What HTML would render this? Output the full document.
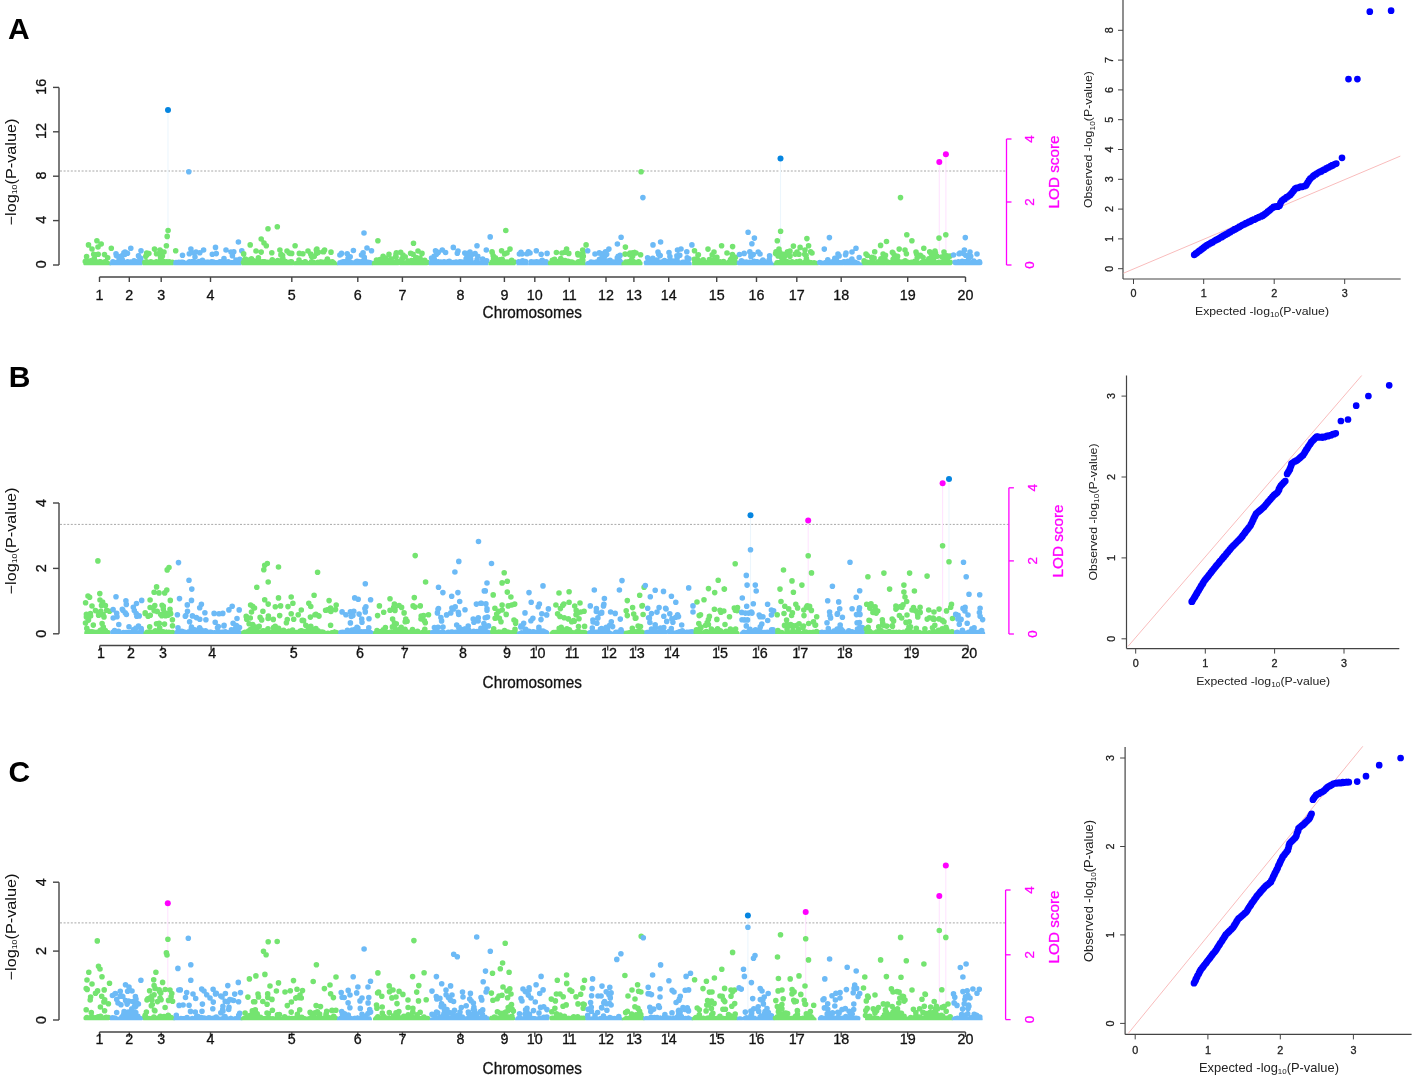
<!DOCTYPE html>
<html><head><meta charset="utf-8"><style>html,body{margin:0;padding:0;background:#fff;}svg{display:block;filter:blur(0.45px);}</style></head>
<body><svg width="1417" height="1080" viewBox="0 0 1417 1080" font-family="'Liberation Sans', sans-serif">
<rect width="1417" height="1080" fill="#fff"/>
<text x="8" y="38.8" font-size="30" text-anchor="start" fill="#000" font-weight="bold">A</text>
<text x="8.8" y="387.2" font-size="30" text-anchor="start" fill="#000" font-weight="bold">B</text>
<text x="8.6" y="781.5" font-size="30" text-anchor="start" fill="#000" font-weight="bold">C</text>
<line x1="60" y1="171" x2="1006.5" y2="171" stroke="#a8a8a8" stroke-width="1" stroke-dasharray="2 1.6"/>
<line x1="59" y1="87.4" x2="59" y2="265" stroke="#444" stroke-width="1.4"/>
<line x1="53" y1="265" x2="59" y2="265" stroke="#444" stroke-width="1.4"/>
<text transform="translate(45.6,264.3) rotate(-90)" x="0" y="0" font-size="14.3" text-anchor="middle" fill="#111" font-weight="normal" stroke="#111" stroke-width="0.3">0</text>
<line x1="53" y1="220.6" x2="59" y2="220.6" stroke="#444" stroke-width="1.4"/>
<text transform="translate(45.6,219.9) rotate(-90)" x="0" y="0" font-size="14.3" text-anchor="middle" fill="#111" font-weight="normal" stroke="#111" stroke-width="0.3">4</text>
<line x1="53" y1="176.2" x2="59" y2="176.2" stroke="#444" stroke-width="1.4"/>
<text transform="translate(45.6,175.5) rotate(-90)" x="0" y="0" font-size="14.3" text-anchor="middle" fill="#111" font-weight="normal" stroke="#111" stroke-width="0.3">8</text>
<line x1="53" y1="131.8" x2="59" y2="131.8" stroke="#444" stroke-width="1.4"/>
<text transform="translate(45.6,131.1) rotate(-90)" x="0" y="0" font-size="14.3" text-anchor="middle" fill="#111" font-weight="normal" stroke="#111" stroke-width="0.3">12</text>
<line x1="53" y1="87.4" x2="59" y2="87.4" stroke="#444" stroke-width="1.4"/>
<text transform="translate(45.6,86.7) rotate(-90)" x="0" y="0" font-size="14.3" text-anchor="middle" fill="#111" font-weight="normal" stroke="#111" stroke-width="0.3">16</text>
<text transform="translate(15.8,172) rotate(-90)" font-size="14.6" text-anchor="middle" fill="#111" textLength="107" lengthAdjust="spacingAndGlyphs">−log<tspan font-size="7.8" dy="1.6">10</tspan><tspan dy="-1.6">(P-value)</tspan></text>
<line x1="99.5" y1="277" x2="965.5" y2="277" stroke="#444" stroke-width="1.4"/>
<line x1="99.5" y1="277" x2="99.5" y2="282" stroke="#444" stroke-width="1.4"/>
<text x="99.5" y="299.5" font-size="14.3" text-anchor="middle" fill="#111" font-weight="normal" stroke="#111" stroke-width="0.3">1</text>
<line x1="129.3" y1="277" x2="129.3" y2="282" stroke="#444" stroke-width="1.4"/>
<text x="129.3" y="299.5" font-size="14.3" text-anchor="middle" fill="#111" font-weight="normal" stroke="#111" stroke-width="0.3">2</text>
<line x1="161.2" y1="277" x2="161.2" y2="282" stroke="#444" stroke-width="1.4"/>
<text x="161.2" y="299.5" font-size="14.3" text-anchor="middle" fill="#111" font-weight="normal" stroke="#111" stroke-width="0.3">3</text>
<line x1="210.5" y1="277" x2="210.5" y2="282" stroke="#444" stroke-width="1.4"/>
<text x="210.5" y="299.5" font-size="14.3" text-anchor="middle" fill="#111" font-weight="normal" stroke="#111" stroke-width="0.3">4</text>
<line x1="291.8" y1="277" x2="291.8" y2="282" stroke="#444" stroke-width="1.4"/>
<text x="291.8" y="299.5" font-size="14.3" text-anchor="middle" fill="#111" font-weight="normal" stroke="#111" stroke-width="0.3">5</text>
<line x1="357.8" y1="277" x2="357.8" y2="282" stroke="#444" stroke-width="1.4"/>
<text x="357.8" y="299.5" font-size="14.3" text-anchor="middle" fill="#111" font-weight="normal" stroke="#111" stroke-width="0.3">6</text>
<line x1="402.4" y1="277" x2="402.4" y2="282" stroke="#444" stroke-width="1.4"/>
<text x="402.4" y="299.5" font-size="14.3" text-anchor="middle" fill="#111" font-weight="normal" stroke="#111" stroke-width="0.3">7</text>
<line x1="460.5" y1="277" x2="460.5" y2="282" stroke="#444" stroke-width="1.4"/>
<text x="460.5" y="299.5" font-size="14.3" text-anchor="middle" fill="#111" font-weight="normal" stroke="#111" stroke-width="0.3">8</text>
<line x1="504.4" y1="277" x2="504.4" y2="282" stroke="#444" stroke-width="1.4"/>
<text x="504.4" y="299.5" font-size="14.3" text-anchor="middle" fill="#111" font-weight="normal" stroke="#111" stroke-width="0.3">9</text>
<line x1="534.8" y1="277" x2="534.8" y2="282" stroke="#444" stroke-width="1.4"/>
<text x="534.8" y="299.5" font-size="14.3" text-anchor="middle" fill="#111" font-weight="normal" stroke="#111" stroke-width="0.3">10</text>
<line x1="569.3" y1="277" x2="569.3" y2="282" stroke="#444" stroke-width="1.4"/>
<text x="569.3" y="299.5" font-size="14.3" text-anchor="middle" fill="#111" font-weight="normal" stroke="#111" stroke-width="0.3">11</text>
<line x1="606" y1="277" x2="606" y2="282" stroke="#444" stroke-width="1.4"/>
<text x="606" y="299.5" font-size="14.3" text-anchor="middle" fill="#111" font-weight="normal" stroke="#111" stroke-width="0.3">12</text>
<line x1="633.9" y1="277" x2="633.9" y2="282" stroke="#444" stroke-width="1.4"/>
<text x="633.9" y="299.5" font-size="14.3" text-anchor="middle" fill="#111" font-weight="normal" stroke="#111" stroke-width="0.3">13</text>
<line x1="668.7" y1="277" x2="668.7" y2="282" stroke="#444" stroke-width="1.4"/>
<text x="668.7" y="299.5" font-size="14.3" text-anchor="middle" fill="#111" font-weight="normal" stroke="#111" stroke-width="0.3">14</text>
<line x1="716.7" y1="277" x2="716.7" y2="282" stroke="#444" stroke-width="1.4"/>
<text x="716.7" y="299.5" font-size="14.3" text-anchor="middle" fill="#111" font-weight="normal" stroke="#111" stroke-width="0.3">15</text>
<line x1="756.5" y1="277" x2="756.5" y2="282" stroke="#444" stroke-width="1.4"/>
<text x="756.5" y="299.5" font-size="14.3" text-anchor="middle" fill="#111" font-weight="normal" stroke="#111" stroke-width="0.3">16</text>
<line x1="796.8" y1="277" x2="796.8" y2="282" stroke="#444" stroke-width="1.4"/>
<text x="796.8" y="299.5" font-size="14.3" text-anchor="middle" fill="#111" font-weight="normal" stroke="#111" stroke-width="0.3">17</text>
<line x1="841.2" y1="277" x2="841.2" y2="282" stroke="#444" stroke-width="1.4"/>
<text x="841.2" y="299.5" font-size="14.3" text-anchor="middle" fill="#111" font-weight="normal" stroke="#111" stroke-width="0.3">18</text>
<line x1="907.7" y1="277" x2="907.7" y2="282" stroke="#444" stroke-width="1.4"/>
<text x="907.7" y="299.5" font-size="14.3" text-anchor="middle" fill="#111" font-weight="normal" stroke="#111" stroke-width="0.3">19</text>
<line x1="965.5" y1="277" x2="965.5" y2="282" stroke="#444" stroke-width="1.4"/>
<text x="965.5" y="299.5" font-size="14.3" text-anchor="middle" fill="#111" font-weight="normal" stroke="#111" stroke-width="0.3">20</text>
<text x="532.3" y="318.4" font-size="16.4" text-anchor="middle" fill="#111" font-weight="normal" textLength="99.4" lengthAdjust="spacingAndGlyphs" stroke="#111" stroke-width="0.3">Chromosomes</text>
<line x1="1006.5" y1="139" x2="1006.5" y2="265" stroke="#ff00ff" stroke-width="1.3"/>
<line x1="1006.5" y1="265" x2="1011.5" y2="265" stroke="#ff00ff" stroke-width="1.3"/>
<text transform="translate(1033.6,265) rotate(-90)" x="0" y="0" font-size="13.4" text-anchor="middle" fill="#ff00ff" font-weight="normal" stroke="#ff00ff" stroke-width="0.3">0</text>
<line x1="1006.5" y1="202" x2="1011.5" y2="202" stroke="#ff00ff" stroke-width="1.3"/>
<text transform="translate(1033.6,202) rotate(-90)" x="0" y="0" font-size="13.4" text-anchor="middle" fill="#ff00ff" font-weight="normal" stroke="#ff00ff" stroke-width="0.3">2</text>
<line x1="1006.5" y1="139" x2="1011.5" y2="139" stroke="#ff00ff" stroke-width="1.3"/>
<text transform="translate(1033.6,139) rotate(-90)" x="0" y="0" font-size="13.4" text-anchor="middle" fill="#ff00ff" font-weight="normal" stroke="#ff00ff" stroke-width="0.3">4</text>
<text transform="translate(1059.3,172) rotate(-90)" x="0" y="0" font-size="14.8" text-anchor="middle" fill="#ff00ff" font-weight="normal" textLength="73" lengthAdjust="spacingAndGlyphs" stroke="#ff00ff" stroke-width="0.3">LOD score</text>
<line x1="168" y1="110.1" x2="168" y2="265" stroke="#ecf6fd" stroke-width="1.1"/>
<line x1="780.5" y1="158.4" x2="780.5" y2="265" stroke="#ecf6fd" stroke-width="1.1"/>
<line x1="939.3" y1="161.9" x2="939.3" y2="265" stroke="#ffe4ff" stroke-width="1.1"/>
<line x1="945.9" y1="154.3" x2="945.9" y2="265" stroke="#ffe4ff" stroke-width="1.1"/>
<clipPath id="cpA"><rect x="0" y="0" width="1000" height="265.2"/></clipPath><g clip-path="url(#cpA)">
<path d="M92.8 264.5h0M100.6 264.8h0M97.8 263.8h0M86.6 263.3h0M86.1 263.6h0M86.8 264.7h0M95.2 262.2h0M88.1 264.3h0M100 261.8h0M98.8 263.7h0M108.3 264.8h0M105.5 264h0M88.6 264.6h0M92.5 262.3h0M89.5 263.1h0M100.3 263.8h0M98.1 264.8h0M86.6 264.3h0M101.3 263.6h0M92.6 263.1h0M95.9 264h0M104 262.7h0M91 263.1h0M97.6 262.1h0M102.4 264h0M108.4 264.6h0M95.1 262.5h0M88.8 263.4h0M86.1 262.8h0M103.3 263.1h0M105.9 264h0M101.6 263h0M98.9 263.5h0M105 261.9h0M96.4 262.8h0M86.6 262.7h0M100.5 261.7h0M104.6 262.8h0M94.3 258.2h0M85.7 261.1h0M89.2 263.7h0M86.6 256.5h0M88.2 263h0M94.4 254.5h0M87.1 261.2h0M98.2 254.2h0M104.5 254.6h0M91.8 261.6h0M93.7 254.2h0M107.8 263.6h0M89.3 263.1h0M90.7 260.8h0M99.1 262.9h0M85.3 261.6h0M93.9 259.7h0M107.7 257.8h0M88.5 244.9h0M96.9 240.7h0M101.2 244h0M111.3 248.3h0M92 249h0M98 247h0" stroke="#74e470" stroke-width="5.6" stroke-linecap="round" fill="none"/>
<path d="M127.2 262.9h0M131.9 264.8h0M138.4 262.4h0M137.7 262.3h0M123.6 263.7h0M115.2 262.9h0M114 264.8h0M118.3 264.5h0M122.1 264.8h0M112.2 264.5h0M115.1 263.8h0M112.9 262.1h0M130.1 264.5h0M119.5 263.8h0M122.8 264.6h0M136.9 261.7h0M125.8 263.4h0M114.7 264.7h0M122.2 264.1h0M136.3 264.5h0M112.9 261.8h0M127.6 264.5h0M128 264.9h0M127.6 261.7h0M137.3 262.7h0M119.8 263.8h0M117 262.4h0M127.7 262.4h0M121.8 264.3h0M135.8 261.7h0M137 262.3h0M136 262.5h0M118.8 263.3h0M122.5 264.9h0M113 264.1h0M119.7 262.7h0M140.1 263.5h0M139.5 261.7h0M140 263.8h0M118.6 264.2h0M117.9 264.3h0M130.4 262h0M136.7 263.4h0M131.2 262.3h0M114.7 262.8h0M138.7 256.2h0M134 260.9h0M117.4 256.1h0M121.9 255.9h0M140.5 261.8h0M123.9 252.9h0M133.3 263.5h0M115.9 263.6h0M138.5 255.8h0M116.4 255.4h0M140.7 258.4h0M122.4 260h0M116 263.9h0M140.5 258.5h0M127.5 253.2h0M124.8 254.5h0M136.3 263.3h0M119.5 262.7h0M119.2 259.5h0M119.7 261.6h0M116 253.7h0M130.8 248.3h0M141 250.8h0M125 252h0" stroke="#6cbaf6" stroke-width="5.6" stroke-linecap="round" fill="none"/>
<path d="M154.6 263.5h0M161 262h0M156.4 261.9h0M158.7 263.2h0M159.3 264.9h0M157 264.4h0M144.8 262.3h0M149.5 263.4h0M164.9 263.1h0M153.8 263.3h0M160.2 262.4h0M147.6 263.1h0M151.6 264.1h0M166.3 263.3h0M160.4 262.5h0M170.2 263.5h0M161.8 263.3h0M159 262.7h0M157.3 263.2h0M158 261.9h0M164.2 262.1h0M171 264.1h0M160.3 261.9h0M168.1 264.5h0M148.1 263.5h0M146.7 264.2h0M146.7 262.8h0M166.6 262h0M149 262.6h0M163.1 264.5h0M169.3 261.8h0M150.8 261.8h0M155.8 263.4h0M172.3 262.2h0M149.2 263.6h0M159.1 263.9h0M150.1 263.9h0M164.9 264.9h0M160.2 263.5h0M145.2 263.9h0M162.1 263.3h0M146.5 261.7h0M166.7 261.8h0M147.6 262.9h0M145.8 256.3h0M152.2 263.6h0M156.5 253.7h0M167.6 263h0M148.9 253.5h0M160.6 257.7h0M147.2 263.8h0M163.9 261.5h0M146.7 253.1h0M162.4 255.9h0M147 254.8h0M146.5 254.7h0M157.4 262.3h0M160.1 253.3h0M152.2 263.6h0M159.4 263.1h0M147.7 263.5h0M146.1 263.3h0M153.4 262.6h0M168.1 230.5h0M167.2 236.4h0M166.4 245.7h0M154.5 249.1h0M175.7 250.8h0M160 250h0M164 252h0" stroke="#74e470" stroke-width="5.6" stroke-linecap="round" fill="none"/>
<path d="M224.5 264h0M207.9 264.4h0M198.1 264.9h0M192 264.9h0M222.8 263.2h0M188.1 263.4h0M235.6 264.6h0M228.3 263.6h0M207.6 262.2h0M201.1 263.3h0M219.9 261.7h0M197.9 262.2h0M221.1 262.9h0M201.8 263.8h0M179.5 264.6h0M180.5 262.5h0M192.3 264.5h0M181.4 262.2h0M231.6 262.8h0M194 264.2h0M194.7 263.5h0M186 263.5h0M192.8 261.8h0M238.1 263.2h0M191.6 261.8h0M195.7 263.8h0M176 263.7h0M206.3 263.3h0M188.8 263.3h0M176.3 264.1h0M181.7 263.7h0M178.6 264.9h0M195.4 264.2h0M213.4 263.2h0M223.9 262.8h0M221.7 262.1h0M200.8 263.9h0M238.8 264.5h0M222.2 262.9h0M178.8 262.2h0M232.9 262.9h0M222.8 262.3h0M184.9 263.3h0M208.2 262.2h0M227.4 262.2h0M213.3 262h0M219.6 262.7h0M190.7 264.9h0M184.5 263.8h0M182.7 262.2h0M211.6 262.9h0M216 262.7h0M207.2 265h0M226.9 262.5h0M208.1 263.2h0M218.1 264.8h0M223 264.2h0M180.7 264.1h0M222.5 264.3h0M223.2 261.8h0M207.5 263.7h0M206.6 262.7h0M224.9 262.9h0M217 264.7h0M185.4 264.2h0M223.4 264h0M212.2 265h0M179.9 264.1h0M218.9 262.7h0M219.1 264h0M209 263.5h0M205.8 264.6h0M233 264.3h0M238.4 261.9h0M177.1 263.5h0M228.3 261.8h0M204.7 264.1h0M189.4 261.9h0M189.4 263.1h0M185 263.3h0M236.8 264.6h0M228.3 263.3h0M232.6 262.7h0M190.8 262h0M207 264.9h0M176.2 263.4h0M204.8 264h0M185 263.9h0M196.2 262.2h0M176.1 262.5h0M229.5 264.6h0M235.1 262.6h0M233.5 264h0M199.7 263.7h0M239.7 259.4h0M199 261.5h0M193.5 263.9h0M182.5 255.2h0M194.2 253.1h0M191.9 262.9h0M208.6 263.4h0M199.8 252.7h0M232.4 255.7h0M216.3 253.6h0M236 260h0M221.9 263.8h0M222.7 261.2h0M224 258.6h0M194.3 263.9h0M235.1 263.6h0M206.1 262.3h0M195 257h0M238.3 262.9h0M217.9 262.6h0M211.6 261.8h0M186.7 263.5h0M189.3 253.8h0M207.7 263.2h0M233.8 251.8h0M204.7 263.6h0M188.3 263.8h0M197.8 263.8h0M191.2 263h0M212.3 254.2h0M223.8 261.6h0M202.4 260.3h0M188.8 171.8h0M190.9 249.1h0M203.6 250h0M215.5 247.4h0M238.4 242h0M241.8 250.8h0M226 250h0M196 252h0M231 252h0" stroke="#6cbaf6" stroke-width="5.6" stroke-linecap="round" fill="none"/>
<path d="M278.3 263.9h0M249 264.1h0M333.3 264.6h0M290.1 262.9h0M323.5 264.3h0M268.4 264.2h0M280.4 263.5h0M332 262.2h0M324.5 264.9h0M246.2 262.6h0M326.6 263.4h0M297.9 265h0M279.6 261.9h0M320.1 262.2h0M333.7 264.2h0M253.3 264.5h0M291.8 262.7h0M330.9 262.6h0M303.5 262.5h0M285.8 263.2h0M246.9 262.4h0M264.8 261.9h0M303.3 264h0M255.1 264.2h0M302.4 262.7h0M253.6 264.8h0M292 263.1h0M279.3 264.3h0M299.2 265h0M271.3 263.5h0M332.5 262.9h0M325.5 263.4h0M265 264.2h0M332.7 262.7h0M271.8 264.9h0M289.6 262.8h0M282.3 264.1h0M305.3 261.9h0M264.3 264.9h0M274.7 263.6h0M306.8 264.3h0M317.4 262.5h0M290.2 264.3h0M333.5 264h0M319.6 264.2h0M263.8 262.5h0M270.7 261.8h0M289.4 264.4h0M264 263.6h0M305.1 261.8h0M256.8 263.7h0M263 261.8h0M256.4 264.8h0M248.8 263.7h0M326.8 262.1h0M311.4 261.7h0M329.9 263.9h0M260.5 261.9h0M312.7 264.9h0M305.1 263.7h0M278 263.9h0M258.9 265h0M269.2 263.8h0M332.2 264.6h0M333 264.3h0M276.4 262.3h0M319.7 263.6h0M247.8 263.4h0M277.9 261.9h0M261.2 263.8h0M326.7 264.9h0M281.4 262.3h0M314.6 264.9h0M246.4 264.8h0M328.9 264.1h0M312.8 262h0M274.8 264.1h0M332.4 262.9h0M267.6 262.6h0M272.7 264.1h0M243.5 262.5h0M328.5 262.9h0M331 264.9h0M265 263.4h0M332.3 261.8h0M279.2 264.2h0M283.2 263.4h0M329.6 264.4h0M317.9 262.5h0M319.8 262.4h0M299.7 263.9h0M272.9 263.8h0M316 264.7h0M261.6 262.5h0M266.2 264.8h0M246.3 263.2h0M273.5 261.7h0M325.5 261.7h0M267.9 264.7h0M252.2 263.3h0M309.3 263.5h0M265 263.6h0M301 262.8h0M312.8 262.2h0M305.1 264.6h0M321.5 264h0M296 263.8h0M311.9 264.3h0M266.2 264.2h0M257.5 262.1h0M297 263.9h0M280.1 261.7h0M290.4 264.2h0M318.5 262.8h0M335.5 264.7h0M287.4 262.3h0M321.5 262h0M246.9 264h0M254.3 264.4h0M333.8 263.1h0M329.8 263.8h0M323.9 263.5h0M267.4 262.4h0M331.3 264.6h0M298.7 262.9h0M263.5 263.8h0M256.3 264.3h0M266.9 263h0M303.9 264.3h0M244.2 263.9h0M306.4 264.4h0M272.3 264.3h0M317.3 263.2h0M249.1 264.7h0M280 263.2h0M302.7 263.8h0M258.4 257.8h0M281.3 262.8h0M271.8 252.7h0M272.3 259.7h0M276.4 261.6h0M323.7 251.8h0M277.1 263.3h0M311 263.3h0M243.7 253.9h0M282.6 255.5h0M281 254.3h0M286.1 263.5h0M244.6 259.9h0M302.9 253.7h0M251.5 258.9h0M277.7 260.6h0M256.8 262.8h0M291.7 253.4h0M253.3 260.7h0M318.1 252.4h0M261.6 263.6h0M331 252.2h0M288.1 263.8h0M329.4 261.9h0M327.4 259h0M320 263.5h0M316.4 263.2h0M280.9 255h0M320.4 263.4h0M263.5 261.8h0M291.4 261.9h0M254.6 263h0M310.7 254h0M247 259.8h0M313.7 263.9h0M321.3 263.7h0M299 260h0M301.6 262.6h0M282.3 259.5h0M282.8 258.4h0M284.8 261.3h0M245.4 259h0M288.8 263.1h0M314.3 256.3h0M285.9 263.4h0M287.3 263.7h0M255.1 261.4h0M251.7 261.3h0M290.7 263.9h0M302.5 263.8h0M311.5 256.3h0M290.8 263.8h0M290.1 262h0M331.7 263.6h0M323 251.8h0M311.4 255.6h0M261.2 252.1h0M289 252.7h0M328.5 263.5h0M316.6 253.2h0M249.3 262.2h0M313.6 263.5h0M326.7 262.8h0M319.1 263.6h0M290 253.5h0M262.6 262.9h0M290.3 262.5h0M268 228.8h0M277.3 226.8h0M261.2 239h0M266.3 245.7h0M250.2 244.9h0M295.1 245.7h0M279.9 250h0M299.3 253.4h0M316.3 250h0M316.9 249.1h0M324.6 250h0M256 251h0M264 243h0M287 251h0M308 251h0M331 252h0" stroke="#74e470" stroke-width="5.6" stroke-linecap="round" fill="none"/>
<path d="M340.8 264.4h0M344.7 261.9h0M361 262h0M345 262.4h0M343.3 263.2h0M359.7 263.8h0M367.1 263.2h0M357.9 262.1h0M343 261.7h0M359.5 263.7h0M364.8 264.1h0M370.8 263.1h0M351 262.5h0M353.6 264.4h0M363.1 264.8h0M365.5 264.2h0M359.8 261.7h0M358.1 262.8h0M349.5 265h0M340.7 264.5h0M359 263.6h0M355.8 262h0M343.8 264.2h0M360.2 264.9h0M339.8 263.8h0M343 263.8h0M346.7 263.1h0M358.2 264.3h0M359.3 263.4h0M343.9 261.9h0M347.3 264.5h0M342.7 262.9h0M367.1 262.4h0M352.3 264.1h0M340 262.9h0M357.4 263.8h0M360 263.5h0M369.1 262.6h0M347.5 262h0M341.1 263.2h0M352.4 264.2h0M341.5 262.4h0M340.1 263.2h0M369.3 264.5h0M346 263h0M355.6 262.9h0M365.3 264.4h0M349.4 264h0M341.2 254.1h0M364.3 257.4h0M339.9 255h0M363.1 261h0M363 261.2h0M346.8 263.7h0M347 263.9h0M350.2 256.8h0M361.5 255h0M362.1 262.9h0M357.1 261.4h0M364.5 260.3h0M348 258.6h0M370 263.2h0M367.3 263.9h0M347.9 263.1h0M363.1 252.9h0M363.1 262.4h0M367.4 262.4h0M347.2 253.7h0M364 233h0M353.4 250.5h0M341.5 253.4h0M371.5 250.8h0M367 248h0" stroke="#6cbaf6" stroke-width="5.6" stroke-linecap="round" fill="none"/>
<path d="M408.2 262.7h0M410 261.7h0M399.6 262.2h0M411.8 262.1h0M397.8 262.6h0M405 264h0M385.8 262.9h0M378.6 262h0M382.2 264.9h0M380.2 261.9h0M392.9 264.5h0M376 264.9h0M411.5 262.9h0M411.7 262.5h0M378 263h0M393.9 262.3h0M418.3 262h0M378 262.1h0M423.3 261.9h0M380.2 264.3h0M380.5 264.9h0M419.8 262.3h0M408.4 262.3h0M408.2 264h0M379.8 264.7h0M415 264.3h0M391.5 263.6h0M375.6 264.1h0M389.6 262.6h0M394.1 263.9h0M426 263.3h0M420 262.9h0M376.1 263.6h0M397.8 262.4h0M393 262.7h0M403.2 264.3h0M420.6 264.7h0M418.3 264.4h0M374.5 264.3h0M415.2 261.7h0M374.7 263.4h0M400.7 262.3h0M384.3 263.4h0M393 262.2h0M388.4 261.9h0M389.6 264.3h0M411.9 263.3h0M380.4 262.9h0M378.8 262.4h0M411.7 262.4h0M408 263.8h0M395.9 263.7h0M422.1 264.7h0M422 264.9h0M385.5 264.1h0M422.6 263.3h0M394.8 262.1h0M387 263.5h0M402.9 262.5h0M414.7 262.8h0M393.1 263.9h0M382.8 262.2h0M409.9 262.5h0M383.5 263.5h0M415.8 263.1h0M381.2 263.5h0M421.8 264.2h0M384.7 264h0M412.1 262.2h0M382.7 264.5h0M387.7 263.9h0M402.4 264.5h0M392 264.4h0M426.6 262.6h0M379.9 261.8h0M379.9 263.7h0M427.1 262.4h0M413.7 263.6h0M385 262.9h0M380.2 263.3h0M395.2 263.9h0M395.8 256.1h0M411.5 260.6h0M408.3 261.1h0M382.1 259.2h0M396.1 257h0M423 261.4h0M405.2 256.8h0M397 263.2h0M413.1 254.3h0M415.8 257.7h0M420 258h0M408.8 261.2h0M391.2 258.8h0M379.7 261.5h0M416.3 257.5h0M408.1 263h0M397.1 261.2h0M407.7 261.7h0M410.6 253.2h0M384.3 258.4h0M416.1 261.9h0M400.7 252.3h0M376.5 260.1h0M383.1 256.2h0M424.7 260.4h0M379.9 259.6h0M403.4 257.4h0M401.9 258.7h0M418.8 260.3h0M396.4 252.9h0M385.7 258h0M377.9 240.7h0M413.5 243.2h0M389 254.2h0M396 254h0M403 255h0M422 253.4h0M418 251h0" stroke="#74e470" stroke-width="5.6" stroke-linecap="round" fill="none"/>
<path d="M453.5 262.5h0M438.2 261.7h0M451.4 264.8h0M446.8 263.7h0M432 263.6h0M455.1 262.7h0M451.2 264.1h0M444 262.5h0M484.4 263.2h0M443.7 262.3h0M453.4 264.3h0M438.6 262.4h0M477.1 262.9h0M457.8 263.1h0M444.1 261.8h0M451.2 262.9h0M477.6 262.3h0M457.7 264h0M462.3 264.6h0M478.4 263.8h0M479.4 264.1h0M452.5 264.2h0M455.4 264.4h0M431.4 262.6h0M447.2 264.2h0M448.3 263.4h0M455.5 262.9h0M468.6 263.8h0M483.8 262.2h0M434.5 262.2h0M482.5 262.4h0M439.2 262.2h0M467.1 265h0M431.9 261.8h0M468.4 264.2h0M437 264.5h0M444.5 262.4h0M450.9 264.5h0M482.4 262.4h0M440.8 262h0M465.7 262.4h0M469.1 262h0M475.8 262.2h0M442.4 262.7h0M461.3 262.5h0M456.1 262.1h0M462.7 264.1h0M444.5 264.5h0M459.2 264.8h0M457.7 264.5h0M459.1 263.3h0M461.8 262.1h0M431.7 262.2h0M457.7 263.1h0M468.9 262.2h0M452.5 263.6h0M485.6 264.7h0M467.3 262.9h0M432.9 263h0M469.9 261.9h0M450 261.7h0M460.2 263.4h0M482 264.9h0M471.9 262.9h0M450.4 262.1h0M452 263.4h0M461 262.4h0M443.2 263.6h0M455.2 263.2h0M478 264h0M478.1 263.7h0M459.8 264.1h0M459.9 261.8h0M468.3 262.4h0M450 263.9h0M448.2 263h0M467.2 262.4h0M433.5 262.6h0M481.4 263.2h0M434.1 264h0M431.6 264.4h0M483.4 263h0M468.5 262.4h0M482.7 259.1h0M466.1 258.9h0M470.7 259.3h0M469.8 263.2h0M469 261.1h0M474.4 263.7h0M441.5 263.9h0M475.1 253.6h0M468.4 262.1h0M477.8 256.2h0M463.1 263h0M448.4 261.5h0M449.3 261.4h0M467.6 253.2h0M434.4 259.7h0M433.5 263.7h0M477.1 259.6h0M483.2 261.3h0M432.1 261.9h0M464.8 253.1h0M486.7 260.9h0M454.6 263.7h0M467.7 263.2h0M439.9 263.9h0M431.6 258h0M438.2 252.4h0M436.3 254.5h0M438.6 263.9h0M472 263.1h0M472.8 263.4h0M434.1 256.4h0M471.6 254.8h0M472.5 263.8h0M466.8 257.5h0M457.3 253.2h0M445.6 252.5h0M471.8 263.9h0M432.1 258.5h0M453.3 247.4h0M477 245.7h0M490.2 236.9h0M486.3 250h0M442.3 250h0M435.5 250.8h0M458 251h0M470 252h0" stroke="#6cbaf6" stroke-width="5.6" stroke-linecap="round" fill="none"/>
<path d="M510.1 264.7h0M498.4 262.6h0M495 262.1h0M502.4 264.8h0M499.7 263.1h0M501.3 262.7h0M494.5 262.3h0M499.6 262.9h0M505.8 263.6h0M500.1 262.4h0M513 262.4h0M504.3 264h0M492.6 261.8h0M507.5 262.2h0M498.9 263h0M513.8 262.2h0M505.1 264h0M501.1 262h0M499.9 262.7h0M505.1 262h0M509.9 264.1h0M491.2 264.1h0M501 263h0M510.1 262h0M492.2 262.2h0M510 262.1h0M504.4 264.1h0M510.9 262.3h0M507 262h0M499.2 264.7h0M504 262.3h0M495.8 262.5h0M512.7 264.2h0M505.2 262.7h0M501.9 264.3h0M497.1 262.5h0M509.5 263.5h0M493.2 255.8h0M509 263.1h0M504.6 254h0M511.7 260.3h0M502.2 259.4h0M495.6 263.4h0M495.4 257.7h0M499.6 259.8h0M500.5 260.4h0M494.6 263.9h0M514.3 262h0M493.6 258.8h0M509.4 263.5h0M505 262.3h0M503.2 263.9h0M492 251.9h0M511.2 260.8h0M505.8 230.5h0M510 249.1h0M501.6 250.8h0M492.2 252.5h0M507 253h0" stroke="#74e470" stroke-width="5.6" stroke-linecap="round" fill="none"/>
<path d="M534.4 264.1h0M540.6 263.6h0M545.5 262.4h0M541.8 261.8h0M525.2 264.9h0M523.6 264.4h0M520.1 264.8h0M534.1 262.1h0M531.2 261.8h0M544.5 264.8h0M535.3 263.7h0M521.2 261.8h0M525.3 263.1h0M536.5 261.8h0M537.4 263.7h0M530.9 264.5h0M546.1 261.7h0M524.2 264.9h0M525.2 263.8h0M544.3 262h0M542.3 264.8h0M540.8 262.6h0M536.7 261.7h0M519.3 264.5h0M539.9 261.9h0M537.6 264h0M535.1 262.5h0M520.8 263.9h0M525.2 264.6h0M531.8 264.4h0M524.7 264.5h0M537.6 265h0M538.8 264.4h0M518.7 261.9h0M524.2 261.9h0M543.2 262h0M521.8 263.5h0M520.5 261.9h0M542.5 262.9h0M531 263.9h0M541.9 263.4h0M536.2 264.5h0M524.2 264.8h0M538.7 263.2h0M521.9 262.1h0M525.5 261.6h0M522.3 262.9h0M542.4 262.4h0M522.6 260.7h0M527 253.8h0M521 252.2h0M519.4 254h0M537.4 263.3h0M531.7 262.8h0M525.3 263.3h0M528.4 251.9h0M547.1 253.4h0M520.6 262.7h0M544.1 263.8h0M539.1 262.7h0M546.5 263.9h0M541.4 262.3h0M521.8 263.9h0M542.2 260.3h0M536.3 250.8h0M541.2 254.2h0M530 253h0M522 254h0" stroke="#6cbaf6" stroke-width="5.6" stroke-linecap="round" fill="none"/>
<path d="M556.8 263.6h0M581.3 264.3h0M569.8 264.5h0M556.6 262.4h0M574.6 264.3h0M553.2 264.7h0M571.1 263.4h0M559.7 264.3h0M571.2 262.6h0M577.9 263.1h0M557.3 264.8h0M575.3 263.6h0M574.9 264.8h0M577.9 263.9h0M579 262.1h0M567.2 264.9h0M581.3 263.4h0M580 264.1h0M556.8 262.2h0M562.9 264.5h0M563 263h0M550.6 263.3h0M565.6 263.3h0M554.6 262.6h0M578.1 262.1h0M561.3 262.6h0M563.4 262.5h0M552.6 262.1h0M582.8 263.4h0M567.9 263.2h0M568.7 264.9h0M583.2 264.3h0M556.7 264.7h0M559 262.3h0M551.5 264.7h0M574.1 264.4h0M551.1 263h0M570 263.3h0M574.3 264.7h0M579.9 262.6h0M552 264.6h0M567.2 263.3h0M559.9 264.6h0M564.2 264.5h0M570.5 262.1h0M555.5 263.1h0M575.7 264.5h0M578.4 261.9h0M563.6 263.6h0M578.9 263.2h0M563.9 261.9h0M576.8 263.9h0M558.6 262.4h0M565.2 252.1h0M577.7 253.6h0M578.1 255h0M552.3 260.4h0M582.9 253.2h0M558.9 261.5h0M571.9 262.1h0M568.4 263.8h0M565.1 260.6h0M551.2 263.6h0M583.3 256.3h0M582.2 258.8h0M577.9 254.2h0M580.4 263.9h0M572.2 262.9h0M573.4 262.9h0M568.8 253.4h0M571.5 263h0M568.1 261.4h0M582.7 262.7h0M560.8 258.5h0M554.6 259.3h0M582.8 260.4h0M556.4 252.5h0M566.6 249.1h0M586.1 244.9h0M582.7 250h0M562 253h0" stroke="#74e470" stroke-width="5.6" stroke-linecap="round" fill="none"/>
<path d="M596.6 263.4h0M605.4 264.5h0M591.8 264.6h0M597.4 263.6h0M597.2 264.2h0M590.6 263.2h0M615.5 263h0M606.6 262.8h0M594.3 262.6h0M603 263.2h0M608 263.4h0M598 264.2h0M595 263.3h0M600.4 263h0M588.1 263.8h0M616.2 264.2h0M606.1 263.4h0M597.1 261.7h0M597.5 262.4h0M592.9 264.8h0M616.6 263.5h0M589.7 263.7h0M602.3 262.6h0M591.3 264.3h0M619.5 262.5h0M592.8 263.9h0M599.4 262.8h0M608.1 262.2h0M614.9 263.3h0M612.2 262.5h0M612.9 263.4h0M613.7 262.6h0M618 264.6h0M616.5 265h0M613.1 263h0M604.2 261.8h0M606.6 263.6h0M613.7 262.1h0M607.8 263.7h0M602.7 263.5h0M611.6 264h0M600.6 263.2h0M600.4 263.9h0M613.8 262.2h0M604.2 263.5h0M593.8 264h0M592.5 263.1h0M607 264.7h0M618.2 263.9h0M615.6 262.2h0M619.5 264.3h0M601.8 253.7h0M588 263.9h0M606.4 260.7h0M618.2 256.4h0M605.5 251.7h0M604.8 260.4h0M610.4 261.9h0M599.5 259.3h0M599.3 252.9h0M610.1 260.3h0M591 262h0M601 259.8h0M606.7 254.3h0M619.6 260.8h0M602.3 258.9h0M620.7 262.3h0M605.2 255.6h0M593.3 262.5h0M620.1 255.4h0M604.7 263.7h0M617.3 257.9h0M587.7 250.8h0M608.9 249.1h0M617.4 244h0M621.1 237.3h0M602.1 255.9h0M595 254h0" stroke="#6cbaf6" stroke-width="5.6" stroke-linecap="round" fill="none"/>
<path d="M638.7 261.7h0M639.8 263.6h0M626.9 264h0M633.2 263.3h0M627.5 264.4h0M635.3 263h0M630.4 261.7h0M635.4 264.9h0M631.4 262.4h0M629.6 262.7h0M624.2 264h0M639 263h0M636 264.3h0M633 263.2h0M628.9 262.8h0M633.6 261.7h0M634.3 263.6h0M626.3 264.5h0M637.6 264.6h0M625.9 264.4h0M633.4 262.3h0M635 262.3h0M625.3 265h0M637.8 263.9h0M636.8 263.8h0M627.2 264.1h0M625.9 262h0M634.5 263.8h0M632.1 263.7h0M625.1 254.1h0M634.5 252.6h0M631.9 259h0M628.6 263.9h0M640.6 254.8h0M629.7 253.9h0M638.6 262.6h0M634.8 252.6h0M632.9 252.8h0M628.5 261.9h0M636.9 263.2h0M629.6 254.4h0M632.7 256h0M641.1 171.8h0M625.4 247.1h0M630 253h0M636 253h0" stroke="#74e470" stroke-width="5.6" stroke-linecap="round" fill="none"/>
<path d="M656.2 264.4h0M661.4 264.4h0M689 264h0M670.5 264.6h0M669.3 263.7h0M663.4 264.8h0M650.7 262.3h0M661 264.2h0M653.8 264.1h0M655.9 264.9h0M675.2 263.9h0M652.2 262.6h0M649.4 264.1h0M682.9 264.6h0M665.2 262.2h0M681.5 264.5h0M661.1 262.6h0M662.2 261.8h0M654.6 261.8h0M668 264.2h0M665.6 264.6h0M677.1 264.1h0M685.8 263h0M661.8 264.2h0M672.6 264.3h0M684.6 264.6h0M668.3 263.2h0M657.4 262.4h0M662.6 262.8h0M670.8 264h0M662.8 264.7h0M653.2 262.2h0M659.7 262.8h0M650.1 263.1h0M661.5 263.3h0M658.6 264.8h0M659.2 264.2h0M650.9 262.6h0M657.9 263.7h0M686.2 262.4h0M685 262.1h0M651.1 264.1h0M646.5 262.7h0M675.1 263.8h0M663.8 262.8h0M676.7 264.2h0M683.4 263.8h0M673.6 264.4h0M650.4 262h0M678.3 262.6h0M647 264.9h0M652.5 264.3h0M658.9 263.7h0M647 264h0M674 264.4h0M683.1 263.1h0M677.5 264.2h0M664.8 262.7h0M660.9 265h0M682.8 262.4h0M658.1 264.9h0M683.7 263h0M647.3 264.2h0M650.2 262.4h0M654.7 262h0M679 264.7h0M676.5 263.7h0M678.9 255.3h0M657.9 263.8h0M687.9 261.5h0M687.2 257.8h0M678.5 255.3h0M673.5 261.2h0M647.6 257.7h0M664.5 260.5h0M687.1 263.6h0M679.6 263.9h0M676.9 255.8h0M657 260h0M688.9 258.7h0M669.7 263h0M647.9 262.2h0M663.8 263.3h0M659.2 263.6h0M677.1 258.2h0M655.9 263.1h0M668.4 261.3h0M687.4 262.2h0M658.7 254.2h0M651.6 259.8h0M660.2 255.6h0M669.9 256.6h0M652.8 258.2h0M672.2 261.1h0M679.8 255.3h0M642.9 197.6h0M653 244.9h0M660.6 242h0M669 252.5h0M677.5 250h0M691.9 244.9h0M686.8 251.7h0M658 252h0M681 249h0" stroke="#6cbaf6" stroke-width="5.6" stroke-linecap="round" fill="none"/>
<path d="M698.5 264h0M708.9 264.3h0M696.2 264.1h0M702 262.7h0M712.6 264.6h0M707.4 263.4h0M709 264.4h0M696.7 265h0M735.6 262.5h0M697.2 262.6h0M735.1 263.1h0M698.3 263.4h0M712 264.4h0M716.6 265h0M732.5 262.9h0M720.2 261.9h0M721.2 264.2h0M704.1 264.5h0M694.8 262.4h0M729.1 264h0M701.5 262.9h0M729.4 261.9h0M700.8 262.4h0M728.8 262.5h0M707.5 264.4h0M728.5 263.9h0M709.2 263.2h0M709.3 262.2h0M703.8 264.9h0M717.6 262.9h0M728.3 262.7h0M731.9 261.9h0M714.6 263.3h0M700.3 264h0M718.2 264.7h0M722.7 264.5h0M712.4 261.8h0M697.5 264.9h0M712.2 264.4h0M724.2 265h0M729.2 262.2h0M726.9 263.6h0M705.6 262.8h0M715.4 263.6h0M708 263.5h0M721.8 262.2h0M731.9 264.5h0M706.2 263.5h0M717.5 263.8h0M701.9 264.7h0M707.4 263.5h0M734.7 262h0M730.2 261.8h0M734.3 262.9h0M727.9 264.8h0M722.3 263h0M706.2 263.1h0M733.9 263.4h0M721 264h0M708.2 262.1h0M694.9 264.4h0M722.3 263.5h0M697.3 262.8h0M709.4 259.5h0M711.3 260.2h0M717.5 261.8h0M698.5 263.4h0M731.3 260h0M698.4 254.7h0M704.4 263.8h0M716.1 263h0M714.3 259.9h0M703.2 259.7h0M698.5 260.5h0M718.5 263.8h0M710.9 263.8h0M712.2 254.7h0M716.9 257.4h0M725.7 263.7h0M735.5 257.3h0M698 255.3h0M710.2 263.5h0M734.2 259.8h0M726.4 263.6h0M726.5 263.8h0M703.7 262h0M694.3 259.3h0M702.7 262.7h0M723.6 261.5h0M731.2 258.9h0M730.5 259.8h0M732.4 254.5h0M694.5 250.8h0M708 249.1h0M721.6 245.7h0M732.6 246.6h0M714 252h0M727 253h0" stroke="#74e470" stroke-width="5.6" stroke-linecap="round" fill="none"/>
<path d="M744.7 262.5h0M750.4 262.5h0M761.4 262.3h0M743.3 263.8h0M763.3 261.8h0M762.8 264.9h0M758.9 264.7h0M757.1 262.3h0M743 261.9h0M761.3 264.2h0M745.6 263.5h0M766.6 263.1h0M743 264.9h0M742.9 262.3h0M745.3 263.2h0M748.7 262.7h0M751.7 264.5h0M767.8 263.2h0M761.7 262.3h0M770.2 265h0M750.4 264.5h0M755.6 262.1h0M765.3 264.9h0M745.2 262.3h0M761.4 263.7h0M754.8 264.5h0M766.8 263.7h0M767.7 263h0M741.7 263.9h0M746.3 262h0M758.5 264.9h0M744.8 263.8h0M754.5 263.1h0M751.9 263.8h0M739.5 263.1h0M750.1 264.9h0M754.2 261.7h0M740.8 264.5h0M761.1 264.1h0M748.2 263.3h0M747.8 263.1h0M756.5 261.8h0M771.6 264.9h0M757.5 262.4h0M767.7 262.4h0M759.9 262.9h0M751.1 264.1h0M765.2 262.1h0M769.8 262.7h0M749.2 262.5h0M763.3 260.5h0M759.9 262.2h0M757.2 261.7h0M741.2 262.3h0M749.8 251.9h0M754.9 262.1h0M747.2 263.1h0M750.6 263.6h0M739.5 254.5h0M754 261.3h0M757.8 262.6h0M744.8 263.8h0M749.1 262.6h0M762.9 260h0M769.8 262.3h0M769.3 259.5h0M741.9 263.4h0M758.2 252h0M750.9 256.4h0M753.2 254.6h0M741.5 260.8h0M748.1 232.2h0M754.4 238.1h0M751.9 243.7h0M744.2 253.4h0M769.6 255.9h0M760 254h0" stroke="#6cbaf6" stroke-width="5.6" stroke-linecap="round" fill="none"/>
<path d="M812.2 264.1h0M785.8 264.9h0M782 264.1h0M804.2 264.3h0M791.6 264.3h0M800 262.1h0M801.8 264.3h0M805.4 261.8h0M799.9 264.7h0M808.5 262.1h0M789.2 264.5h0M782.9 263.2h0M811.2 262.9h0M813.1 264.3h0M788.6 262.5h0M801.9 263.7h0M803.1 263.9h0M777.5 263.6h0M777.1 262.9h0M788.9 263.4h0M799.8 264.1h0M794.2 265h0M813.2 263.1h0M815.8 264.8h0M800.4 262.6h0M788.7 264.7h0M781.6 264.5h0M806.7 264.7h0M808.7 263.6h0M797.3 263h0M798 262.8h0M799.9 263.9h0M805.7 264.1h0M804.4 262.5h0M807.1 264h0M807 261.7h0M793.8 264.1h0M796.7 261.9h0M780.6 265h0M794.8 262.8h0M807 263.8h0M815.9 264.2h0M806.3 264.7h0M776.3 264.6h0M777.7 263.3h0M798 264.4h0M813.8 263.8h0M781.3 264.4h0M805.5 261.9h0M781.8 264.9h0M807.2 264.2h0M815.6 263.3h0M801.4 263.9h0M808.1 263.5h0M788.5 262h0M779.6 262.6h0M777.9 262.9h0M791.7 262.1h0M777.6 263.1h0M792 261.9h0M814.1 262.9h0M784.4 264.2h0M786 261.4h0M784.7 263.3h0M806.4 258.6h0M787.5 251.8h0M784.1 259.7h0M781.6 254.7h0M810.9 262.9h0M806.1 255.5h0M786.8 262.4h0M795.2 254.1h0M781.8 258h0M799.8 261.2h0M799 254.3h0M783.8 254.2h0M790 256.3h0M810.7 263.4h0M810.7 251.8h0M787.4 263.9h0M779.8 252.3h0M775.6 253.6h0M781.4 257.1h0M779.2 263.5h0M803.3 263.8h0M789.1 253.5h0M804.7 254.3h0M815.5 263.9h0M784.8 256h0M803.5 263.9h0M795.9 263.1h0M792.9 263.7h0M776 251.9h0M780.6 231.3h0M777.3 240.7h0M779 249.1h0M778.1 255.9h0M793.4 246.1h0M806.9 238.6h0M808.6 245.7h0M800.1 247.4h0M790 251h0M797 252h0M805 250h0M812 253h0" stroke="#74e470" stroke-width="5.6" stroke-linecap="round" fill="none"/>
<path d="M832.5 262.1h0M824.6 263.4h0M825.2 263.6h0M827 262.7h0M825.7 262.5h0M840 264.6h0M834 263.3h0M857 263.8h0M828.4 261.8h0M855.6 262.6h0M830.8 264.4h0M830.4 264.8h0M821.4 263.3h0M836.3 263.1h0M834.4 265h0M847.6 262.8h0M841.8 263.2h0M847.7 261.7h0M855.2 262.6h0M835.9 263.9h0M836.7 261.8h0M835.4 263.7h0M836.3 264.5h0M860.3 265h0M844.4 261.9h0M830 263h0M835 264.2h0M827.7 264.6h0M853.9 262.4h0M856.6 264.8h0M847.9 263.9h0M845.9 263.2h0M832.5 261.8h0M819.7 262.5h0M854.4 263.3h0M843.8 261.7h0M829.2 262.9h0M849.9 263.7h0M848.6 263.7h0M841.1 263h0M847.2 263.9h0M845.2 263.2h0M828.8 263h0M830.4 262h0M838.9 262.6h0M840.9 263.4h0M828.7 264.5h0M857.4 263.2h0M841 263.2h0M852.7 264.2h0M826.7 262.3h0M838.4 262.9h0M853.3 262h0M854.9 264.9h0M835.2 262.2h0M852.9 264.6h0M825.9 264.2h0M823.9 263.8h0M852.3 263.3h0M838.1 264.7h0M835.8 261.7h0M847.9 261.2h0M839.1 255.9h0M850.5 263.6h0M847.3 262.1h0M840.8 263.1h0M834.7 262.3h0M835.2 263.9h0M827.8 259.7h0M822 263.4h0M848.9 262.8h0M832.8 263.1h0M853.6 263.8h0M845.5 254.7h0M827.9 261.5h0M851.9 259h0M834.8 263.9h0M837.7 262.1h0M848.6 262.7h0M836.3 258.5h0M852.6 262.2h0M835.3 259.6h0M857.3 263.4h0M859.2 257.5h0M834.8 258.3h0M833.1 263.8h0M829.4 237.6h0M824.3 249.1h0M856 248.3h0M838 254h0M846 253h0M852 252h0" stroke="#6cbaf6" stroke-width="5.6" stroke-linecap="round" fill="none"/>
<path d="M929.2 263.7h0M909.2 263.3h0M941.8 262.5h0M865.9 263h0M903.8 263.5h0M936.4 263.6h0M904.7 262h0M901.8 263.4h0M908 262.3h0M921.8 262.5h0M898.5 264.9h0M922.6 263.2h0M930.3 262.4h0M873.9 264.3h0M870.4 262.3h0M872.5 264.7h0M928.9 263.1h0M868.4 262.7h0M925.3 263.4h0M868.4 262.7h0M899.9 263.1h0M950.2 262.3h0M939.2 264.5h0M892.6 263.3h0M864.2 261.7h0M887.5 264.1h0M890.8 264.2h0M938.1 263.1h0M908 263.6h0M868.1 264h0M938.8 262.3h0M937.9 264.1h0M881.2 264.8h0M910.2 263.8h0M903.9 263.4h0M914.3 263.8h0M933.1 264.3h0M943.3 263.1h0M868.1 264h0M909.9 263.6h0M912.6 263.9h0M887.4 262.3h0M888.9 262.6h0M933.2 263h0M903.1 261.9h0M902.2 262.1h0M868.7 263.6h0M919.1 264.8h0M938.4 264.8h0M915.3 264.4h0M943.6 263.1h0M933.1 263.3h0M922.1 262.8h0M889.2 264.3h0M936.3 264.5h0M943.2 264.3h0M872.4 264.7h0M931.6 261.8h0M899.6 262.8h0M886 262h0M923.1 264.5h0M868.6 262.7h0M867.3 262.2h0M889.1 264.2h0M914.1 263.9h0M912.2 264.5h0M942.7 263.9h0M936.6 264.5h0M932.9 261.7h0M897.6 264.9h0M896.6 262.9h0M883 263.2h0M871.8 263.5h0M926.8 263.6h0M922.5 264.6h0M935.5 264.6h0M943.7 261.7h0M945.1 263.2h0M888.9 263.8h0M928.7 263.3h0M944.2 264.7h0M905.7 262.1h0M915.5 263.2h0M871.3 264.5h0M887.2 262h0M936.9 264.2h0M943.8 264.9h0M915.6 261.8h0M893.5 261.9h0M920.6 264.8h0M892.5 263.5h0M885.1 262.5h0M879.2 262.4h0M889.5 264.8h0M912.1 264.7h0M911.5 262.4h0M915.3 263.5h0M866.6 263.3h0M872.1 262.8h0M875.1 263.1h0M894.3 263.8h0M921.1 264.5h0M878.4 261.9h0M892.4 262.2h0M939.4 263.4h0M876.6 264.7h0M939.8 264.6h0M906.7 263.2h0M873.9 263.4h0M877.9 263.2h0M907.6 263.8h0M880.8 263.7h0M881.3 264.6h0M884.5 262.1h0M907.2 262h0M865 261.9h0M906 262.4h0M913.1 262.7h0M883.5 262.5h0M877 264.1h0M866.4 263.7h0M908.6 264h0M940.8 264.7h0M913.8 264.2h0M915.3 262.4h0M925.3 263.8h0M885 259.3h0M948.8 263.9h0M917.2 257.8h0M934.3 262.3h0M933.9 261.1h0M943.5 263.9h0M945.1 261.6h0M899 263.8h0M884.9 257.1h0M922.5 263.6h0M893.5 263.6h0M880.9 263.2h0M892.4 252.2h0M950.1 256.1h0M905.2 260.7h0M931.2 253.7h0M928.8 258.7h0M880.9 258.9h0M937 256.2h0M871.7 257.4h0M893.9 263.5h0M947.4 258.1h0M928.3 263.6h0M935.5 253.1h0M942.1 256.9h0M935.8 255.9h0M914.8 261.4h0M935.2 256.2h0M939.1 262.7h0M946.9 260.2h0M945.6 263.7h0M947.6 256.1h0M885.5 255.2h0M883.8 263.3h0M903.4 263.1h0M906.4 253.7h0M923.1 257.5h0M897.6 256.2h0M932.4 258h0M945.3 255.4h0M898.9 263.8h0M920.2 255.2h0M893.1 259.3h0M936.1 256h0M864.1 260.8h0M865.1 263.7h0M934.1 261.6h0M916.1 261.1h0M892.7 263.2h0M894.3 255h0M917.3 262.7h0M871.3 262.9h0M924.4 261.3h0M920.9 255.8h0M874.1 258h0M867.3 255.5h0M879.6 262.9h0M946.7 262.1h0M883.1 254.1h0M916.6 254h0M897.8 260.6h0M946.5 260.5h0M949.3 263.4h0M900.5 197.6h0M874.7 251.7h0M880.6 245.4h0M886.5 241.5h0M906.8 234.7h0M911.9 240.7h0M899.2 249.1h0M923.8 248.3h0M929.7 251.7h0M939 238.1h0M945.8 234.7h0M905 250h0M916 252h0M935 251h0M944 252h0M893 253h0M866 254h0" stroke="#74e470" stroke-width="5.6" stroke-linecap="round" fill="none"/>
<path d="M975.8 264.5h0M967.7 265h0M958.4 261.9h0M965.8 262.3h0M960.4 263.8h0M956.4 263.2h0M976.7 263.3h0M963.7 261.9h0M977.5 262.8h0M955.7 262.9h0M965.5 261.8h0M963.3 262.8h0M970.5 263.7h0M967.6 262.7h0M977.8 263.3h0M963.4 261.7h0M955.2 262.2h0M971.9 263.1h0M965.6 262.5h0M977.4 262.6h0M973.7 264.9h0M962.3 264.5h0M979.1 262h0M957.5 263h0M969 264.8h0M964.1 262.5h0M970.8 264.1h0M974 264h0M968.2 263.6h0M979.7 262.8h0M975.1 262.7h0M963.8 261.8h0M972.6 262.7h0M961.1 264.5h0M969 262.2h0M974.8 263.8h0M957.4 263.3h0M977.1 264.5h0M973.3 264.4h0M962 264.8h0M961.6 263.7h0M979.4 261.8h0M958.7 262.6h0M978.8 263.3h0M962.2 261.3h0M956.6 262.9h0M964.2 261.9h0M979.4 262.9h0M959.1 253.7h0M965.7 255.2h0M970.7 256.3h0M962.1 263.5h0M973.8 261h0M968.6 258.2h0M973.7 262.8h0M963.3 253.5h0M967.8 262.7h0M970.5 262.9h0M974.2 263.9h0M965.3 237.6h0M953.5 255h0M964.4 250h0M970 252h0M977 254h0M960 253h0" stroke="#6cbaf6" stroke-width="5.6" stroke-linecap="round" fill="none"/>
</g>
<path d="M168 110.1h0" stroke="#0585e0" stroke-width="6.0" stroke-linecap="round" fill="none"/>
<path d="M780.5 158.4h0" stroke="#0585e0" stroke-width="6.0" stroke-linecap="round" fill="none"/>
<path d="M939.3 161.9h0" stroke="#ff00ff" stroke-width="6.0" stroke-linecap="round" fill="none"/>
<path d="M945.9 154.3h0" stroke="#ff00ff" stroke-width="6.0" stroke-linecap="round" fill="none"/>
<line x1="60" y1="524.4" x2="1008.9" y2="524.4" stroke="#a8a8a8" stroke-width="1" stroke-dasharray="2 1.6"/>
<line x1="59" y1="503" x2="59" y2="633.8" stroke="#444" stroke-width="1.4"/>
<line x1="53" y1="633.8" x2="59" y2="633.8" stroke="#444" stroke-width="1.4"/>
<text transform="translate(45.6,633.8) rotate(-90)" x="0" y="0" font-size="14.3" text-anchor="middle" fill="#111" font-weight="normal" stroke="#111" stroke-width="0.3">0</text>
<line x1="53" y1="568.4" x2="59" y2="568.4" stroke="#444" stroke-width="1.4"/>
<text transform="translate(45.6,568.4) rotate(-90)" x="0" y="0" font-size="14.3" text-anchor="middle" fill="#111" font-weight="normal" stroke="#111" stroke-width="0.3">2</text>
<line x1="53" y1="503" x2="59" y2="503" stroke="#444" stroke-width="1.4"/>
<text transform="translate(45.6,503) rotate(-90)" x="0" y="0" font-size="14.3" text-anchor="middle" fill="#111" font-weight="normal" stroke="#111" stroke-width="0.3">4</text>
<text transform="translate(15.8,541) rotate(-90)" font-size="14.6" text-anchor="middle" fill="#111" textLength="107" lengthAdjust="spacingAndGlyphs">−log<tspan font-size="7.8" dy="1.6">10</tspan><tspan dy="-1.6">(P-value)</tspan></text>
<line x1="99.8" y1="645.5" x2="968.1" y2="645.5" stroke="#444" stroke-width="1.4"/>
<line x1="99.8" y1="645.5" x2="99.8" y2="650.5" stroke="#444" stroke-width="1.4"/>
<text x="101" y="658" font-size="14.3" text-anchor="middle" fill="#111" font-weight="normal" stroke="#111" stroke-width="0.3">1</text>
<line x1="129.7" y1="645.5" x2="129.7" y2="650.5" stroke="#444" stroke-width="1.4"/>
<text x="130.9" y="658" font-size="14.3" text-anchor="middle" fill="#111" font-weight="normal" stroke="#111" stroke-width="0.3">2</text>
<line x1="161.7" y1="645.5" x2="161.7" y2="650.5" stroke="#444" stroke-width="1.4"/>
<text x="162.9" y="658" font-size="14.3" text-anchor="middle" fill="#111" font-weight="normal" stroke="#111" stroke-width="0.3">3</text>
<line x1="211.1" y1="645.5" x2="211.1" y2="650.5" stroke="#444" stroke-width="1.4"/>
<text x="212.3" y="658" font-size="14.3" text-anchor="middle" fill="#111" font-weight="normal" stroke="#111" stroke-width="0.3">4</text>
<line x1="292.6" y1="645.5" x2="292.6" y2="650.5" stroke="#444" stroke-width="1.4"/>
<text x="293.8" y="658" font-size="14.3" text-anchor="middle" fill="#111" font-weight="normal" stroke="#111" stroke-width="0.3">5</text>
<line x1="358.8" y1="645.5" x2="358.8" y2="650.5" stroke="#444" stroke-width="1.4"/>
<text x="360" y="658" font-size="14.3" text-anchor="middle" fill="#111" font-weight="normal" stroke="#111" stroke-width="0.3">6</text>
<line x1="403.5" y1="645.5" x2="403.5" y2="650.5" stroke="#444" stroke-width="1.4"/>
<text x="404.7" y="658" font-size="14.3" text-anchor="middle" fill="#111" font-weight="normal" stroke="#111" stroke-width="0.3">7</text>
<line x1="461.8" y1="645.5" x2="461.8" y2="650.5" stroke="#444" stroke-width="1.4"/>
<text x="463" y="658" font-size="14.3" text-anchor="middle" fill="#111" font-weight="normal" stroke="#111" stroke-width="0.3">8</text>
<line x1="505.8" y1="645.5" x2="505.8" y2="650.5" stroke="#444" stroke-width="1.4"/>
<text x="507" y="658" font-size="14.3" text-anchor="middle" fill="#111" font-weight="normal" stroke="#111" stroke-width="0.3">9</text>
<line x1="536.3" y1="645.5" x2="536.3" y2="650.5" stroke="#444" stroke-width="1.4"/>
<text x="537.5" y="658" font-size="14.3" text-anchor="middle" fill="#111" font-weight="normal" stroke="#111" stroke-width="0.3">10</text>
<line x1="570.9" y1="645.5" x2="570.9" y2="650.5" stroke="#444" stroke-width="1.4"/>
<text x="572.1" y="658" font-size="14.3" text-anchor="middle" fill="#111" font-weight="normal" stroke="#111" stroke-width="0.3">11</text>
<line x1="607.7" y1="645.5" x2="607.7" y2="650.5" stroke="#444" stroke-width="1.4"/>
<text x="608.9" y="658" font-size="14.3" text-anchor="middle" fill="#111" font-weight="normal" stroke="#111" stroke-width="0.3">12</text>
<line x1="635.6" y1="645.5" x2="635.6" y2="650.5" stroke="#444" stroke-width="1.4"/>
<text x="636.8" y="658" font-size="14.3" text-anchor="middle" fill="#111" font-weight="normal" stroke="#111" stroke-width="0.3">13</text>
<line x1="670.5" y1="645.5" x2="670.5" y2="650.5" stroke="#444" stroke-width="1.4"/>
<text x="671.7" y="658" font-size="14.3" text-anchor="middle" fill="#111" font-weight="normal" stroke="#111" stroke-width="0.3">14</text>
<line x1="718.7" y1="645.5" x2="718.7" y2="650.5" stroke="#444" stroke-width="1.4"/>
<text x="719.9" y="658" font-size="14.3" text-anchor="middle" fill="#111" font-weight="normal" stroke="#111" stroke-width="0.3">15</text>
<line x1="758.6" y1="645.5" x2="758.6" y2="650.5" stroke="#444" stroke-width="1.4"/>
<text x="759.8" y="658" font-size="14.3" text-anchor="middle" fill="#111" font-weight="normal" stroke="#111" stroke-width="0.3">16</text>
<line x1="799" y1="645.5" x2="799" y2="650.5" stroke="#444" stroke-width="1.4"/>
<text x="800.2" y="658" font-size="14.3" text-anchor="middle" fill="#111" font-weight="normal" stroke="#111" stroke-width="0.3">17</text>
<line x1="843.5" y1="645.5" x2="843.5" y2="650.5" stroke="#444" stroke-width="1.4"/>
<text x="844.7" y="658" font-size="14.3" text-anchor="middle" fill="#111" font-weight="normal" stroke="#111" stroke-width="0.3">18</text>
<line x1="910.2" y1="645.5" x2="910.2" y2="650.5" stroke="#444" stroke-width="1.4"/>
<text x="911.4" y="658" font-size="14.3" text-anchor="middle" fill="#111" font-weight="normal" stroke="#111" stroke-width="0.3">19</text>
<line x1="968.1" y1="645.5" x2="968.1" y2="650.5" stroke="#444" stroke-width="1.4"/>
<text x="969.3" y="658" font-size="14.3" text-anchor="middle" fill="#111" font-weight="normal" stroke="#111" stroke-width="0.3">20</text>
<text x="532.3" y="688" font-size="16.4" text-anchor="middle" fill="#111" font-weight="normal" textLength="99.4" lengthAdjust="spacingAndGlyphs" stroke="#111" stroke-width="0.3">Chromosomes</text>
<line x1="1008.9" y1="487.8" x2="1008.9" y2="634" stroke="#ff00ff" stroke-width="1.3"/>
<line x1="1008.9" y1="634" x2="1013.9" y2="634" stroke="#ff00ff" stroke-width="1.3"/>
<text transform="translate(1037.3,634) rotate(-90)" x="0" y="0" font-size="13.4" text-anchor="middle" fill="#ff00ff" font-weight="normal" stroke="#ff00ff" stroke-width="0.3">0</text>
<line x1="1008.9" y1="560.9" x2="1013.9" y2="560.9" stroke="#ff00ff" stroke-width="1.3"/>
<text transform="translate(1037.3,560.9) rotate(-90)" x="0" y="0" font-size="13.4" text-anchor="middle" fill="#ff00ff" font-weight="normal" stroke="#ff00ff" stroke-width="0.3">2</text>
<line x1="1008.9" y1="487.8" x2="1013.9" y2="487.8" stroke="#ff00ff" stroke-width="1.3"/>
<text transform="translate(1037.3,487.8) rotate(-90)" x="0" y="0" font-size="13.4" text-anchor="middle" fill="#ff00ff" font-weight="normal" stroke="#ff00ff" stroke-width="0.3">4</text>
<text transform="translate(1063.1,541) rotate(-90)" x="0" y="0" font-size="14.8" text-anchor="middle" fill="#ff00ff" font-weight="normal" textLength="73" lengthAdjust="spacingAndGlyphs" stroke="#ff00ff" stroke-width="0.3">LOD score</text>
<line x1="750.5" y1="515.2" x2="750.5" y2="633.8" stroke="#ecf6fd" stroke-width="1.1"/>
<line x1="949" y1="479.1" x2="949" y2="633.8" stroke="#ecf6fd" stroke-width="1.1"/>
<line x1="808.2" y1="520.5" x2="808.2" y2="633.8" stroke="#ffe4ff" stroke-width="1.1"/>
<line x1="942.6" y1="483.3" x2="942.6" y2="633.8" stroke="#ffe4ff" stroke-width="1.1"/>
<clipPath id="cpB"><rect x="0" y="0" width="1000" height="634"/></clipPath><g clip-path="url(#cpB)">
<path d="M105 632.9h0M93.8 632.3h0M91.7 633.4h0M87.1 632.9h0M103.3 632.7h0M95.2 632.5h0M88.1 633.3h0M100.7 632.2h0M100.5 632.7h0M103.8 633.2h0M107.7 632.6h0M93.5 633.2h0M104.5 633.2h0M89.8 632.4h0M98 632.9h0M101.3 632.3h0M88.6 633.2h0M87 633.1h0M97.3 632.4h0M101.3 632.9h0M95 632.9h0M91.9 632.4h0M104.1 632.4h0M89 632.7h0M103.3 627h0M106.7 610.2h0M103.1 614.6h0M100.8 611.4h0M88.5 620.1h0M102.1 623.6h0M92 632.4h0M99.7 614.4h0M91.9 631.8h0M90.7 632.4h0M101.5 605.4h0M104.5 630h0M102 632.4h0M105.3 630.6h0M85.5 623h0M88.7 631.2h0M86.8 628.4h0M98.6 615.3h0M86.4 614.2h0M88.1 631.7h0M100.4 630.3h0M93.3 625.1h0M90.6 616h0M90.4 613.6h0M97.9 560.9h0M99.8 593.6h0M89.6 597.2h0M85.6 602.8h0M102.6 602.1h0M105.4 605.6h0M95.5 610.6h0M86.4 616.9h0M104 616.9h0M109.5 611.3h0M88 596h0M92 606h0M100 600h0" stroke="#74e470" stroke-width="5.6" stroke-linecap="round" fill="none"/>
<path d="M136.1 632.9h0M113.4 632.5h0M113.3 633h0M124.9 633.7h0M130.9 632.6h0M129.6 633.1h0M127.5 632.8h0M119.1 632.4h0M141.6 632.5h0M140.6 633.3h0M141.3 633.7h0M126.5 633.6h0M125.8 632.7h0M133.2 633.1h0M122.5 633.5h0M124.3 633.3h0M118.2 632.6h0M127.6 633.1h0M118.3 632.6h0M118.3 633.4h0M128.9 632.7h0M140.9 632.6h0M140.2 632.3h0M133.6 632.6h0M114.3 633.5h0M112.9 632.4h0M133.6 632.8h0M120.2 633.2h0M117.3 632.8h0M141.5 630.8h0M113.8 632.1h0M122.9 610.2h0M136 628.1h0M115.5 632.4h0M117 616.8h0M126.3 604.4h0M139.2 615.9h0M126.4 614.5h0M116.3 632.4h0M129 626.8h0M118.6 631.4h0M113.1 609.6h0M133.3 607.3h0M141.2 628.6h0M133.9 629.6h0M136.2 613.5h0M116.4 632.5h0M118.8 624.5h0M123.6 632.5h0M136.8 616.3h0M126.1 632.5h0M138.5 626.1h0M114.6 630.6h0M116 596.7h0M125.9 600.7h0M141.7 600.4h0M136.5 603.5h0M122.3 609.2h0M116.7 613.4h0M113.2 618h0M134.3 610.6h0M125.2 612.7h0" stroke="#6cbaf6" stroke-width="5.6" stroke-linecap="round" fill="none"/>
<path d="M162.6 632.4h0M158.7 632.8h0M150.9 633.4h0M170.5 633.2h0M148 632.8h0M148.6 633.5h0M157.9 632.8h0M162.9 632.6h0M157.4 633.7h0M165.4 633.7h0M158.3 633.1h0M164 632.6h0M151.8 632.7h0M164.5 633h0M149.1 632.3h0M161.9 633.7h0M151.8 632.2h0M151.5 633.2h0M167.2 632.5h0M162.9 632.6h0M146.2 633.6h0M172.5 632.5h0M146.2 633.7h0M151.8 632.3h0M151.3 632.7h0M171.2 632.8h0M170.9 633.4h0M149.4 633.8h0M166.3 632.4h0M172.4 619.8h0M150.3 615.3h0M149.7 626.7h0M148.1 616.3h0M170 609.2h0M145.2 612.9h0M160.7 614.5h0M159.2 623.4h0M161.8 615.7h0M147.3 632.5h0M160.4 631h0M156.2 632.5h0M166 632.5h0M168.3 615.1h0M157.9 632.3h0M163.3 631.8h0M157.1 632.3h0M172.5 625.8h0M155 632.4h0M165.6 613h0M168.9 632.4h0M155.4 630.9h0M166.5 632.2h0M162.1 605.2h0M166.6 632.5h0M147.2 632.3h0M164.5 624.1h0M159.7 628.1h0M156.5 623.7h0M163.3 609.2h0M165.6 615.8h0M170.7 613.7h0M165.2 632.5h0M164.2 613h0M157.2 611.4h0M150.1 607.5h0M167.2 569.9h0M169 567.5h0M156.6 586.9h0M154.1 592.2h0M159 592.9h0M166.8 590.1h0M164.7 592.9h0M150.1 600h0M170.3 600.4h0M154.8 605.6h0M163.3 606.3h0M154.1 610.6h0M145.2 613.4h0M170.3 612.7h0" stroke="#74e470" stroke-width="5.6" stroke-linecap="round" fill="none"/>
<path d="M204.8 632.6h0M192.7 633.3h0M198.8 633.3h0M182.5 633.1h0M239.3 632.7h0M236.2 632.6h0M230.1 632.2h0M224.7 633.4h0M192.5 633.1h0M177.8 633.4h0M233.2 632.3h0M197.5 632.5h0M226.1 632.3h0M227.4 632.9h0M183.2 632.5h0M196.6 632.8h0M200 632.9h0M238.3 633.5h0M210.5 632.7h0M211 632.3h0M202.6 632.3h0M220.6 632.2h0M182.2 633.5h0M194.9 632.3h0M177.4 633.4h0M222.3 632.2h0M187.8 633.1h0M220.5 632.7h0M224.2 632.6h0M192.4 633.4h0M178.3 632.7h0M189.9 633.4h0M238.2 632.7h0M214.3 632.7h0M214.8 632.7h0M195.9 633.7h0M180.8 633.8h0M199.6 633.6h0M183.7 633h0M238.6 632.7h0M194 632.5h0M187.9 633.6h0M195.9 633.1h0M220.6 633.1h0M223.1 633.6h0M236.2 633.2h0M229.8 633.7h0M229.5 633.4h0M231.2 632.5h0M219.4 633.3h0M177.1 633.5h0M234.4 633.5h0M218.7 632.8h0M218.8 633.5h0M185.7 633.6h0M239.4 633.2h0M218.2 632.9h0M190.8 633.7h0M177.4 632.4h0M184.8 632.2h0M199.8 619.3h0M185.3 616.2h0M192.6 629.9h0M210 632.3h0M192.4 615.9h0M194.7 629.7h0M225.4 631.7h0M188.9 631.7h0M201.1 629.9h0M217.5 627.7h0M232.2 632.5h0M219 613.7h0M191.5 632.5h0M204.5 632.3h0M205.9 619.8h0M182.5 632.3h0M207.2 632.1h0M191.3 628.5h0M184.1 632.4h0M199.6 627.8h0M236.4 625.5h0M181.1 631.7h0M224.1 625.2h0M232.2 606.2h0M231.4 632.3h0M236.9 626.4h0M191.8 632.1h0M231.8 631.8h0M181.8 631.3h0M235.6 628h0M223.3 632.4h0M205.5 630.7h0M189.6 621.8h0M199.6 632.3h0M239.5 627.5h0M188 632.5h0M218.3 626.6h0M178 627.8h0M223.9 626h0M191.5 627.1h0M215.2 622.2h0M185.8 615.5h0M237 618.5h0M231.4 629.9h0M234.3 632h0M178.5 562.6h0M189 580.2h0M191.8 589.1h0M179.5 598.6h0M191.5 600.4h0M187.3 604.9h0M187.5 611.3h0M201.4 604.2h0M199.7 607.7h0M204.9 612.7h0M214.1 613.4h0M222.8 613.4h0M228.9 609.9h0M239.2 609.9h0M177.4 614.8h0M196.4 617.6h0M233.1 623.3h0" stroke="#6cbaf6" stroke-width="5.6" stroke-linecap="round" fill="none"/>
<path d="M265.1 632.8h0M328.1 633.7h0M264.1 633.7h0M284.9 633.6h0M261.8 632.6h0M298.3 632.3h0M281.4 632.7h0M245 632.2h0M265.6 633h0M291.7 632.2h0M289.8 632.2h0M301.9 633.4h0M321.8 633.5h0M337.2 633.1h0M265 632.2h0M273.9 633.1h0M275.9 632.7h0M246 633.2h0M259 632.4h0M243.9 632.8h0M267.9 633.1h0M296.3 632.6h0M256.7 633.4h0M255.1 632.2h0M257.8 633.6h0M292.6 632.8h0M326.7 633.7h0M265.7 633.5h0M298.6 633.1h0M282.1 632.3h0M305.7 632.4h0M333.2 633.4h0M331.8 633.1h0M248.7 632.3h0M253.6 633.8h0M270.9 633.3h0M334.2 632.4h0M283.1 632.9h0M323.1 632.5h0M304.9 633h0M254.8 633.4h0M305.3 632.8h0M318.7 632.3h0M333.7 633.5h0M251 632.3h0M297.1 633.5h0M308.5 633.4h0M266 633.2h0M292.8 632.7h0M250.7 632.6h0M302.2 633h0M306.6 632.5h0M244.8 633h0M307.2 632.6h0M304.3 633.5h0M333.4 632.5h0M265.6 633.1h0M333.3 633.5h0M282.1 632.2h0M327.9 633.4h0M312.5 633.2h0M305.8 632.5h0M255.8 633.4h0M263.9 633.4h0M247.2 633.6h0M281.8 633.1h0M251.1 632.8h0M331.9 632.9h0M277.1 632.6h0M284.7 633.5h0M288.9 633.8h0M307 633.5h0M278.4 632.2h0M315.5 632.4h0M303.8 632.8h0M309.7 632.2h0M262.2 632.5h0M272 633.4h0M320.6 632.8h0M323.2 632.4h0M298.9 633.5h0M245.3 632.9h0M311.6 633.4h0M250.4 633.8h0M260 632.7h0M244.2 633.4h0M268.6 632.6h0M336.1 632.5h0M254.5 608h0M334.5 632.2h0M275.2 626.4h0M273.8 629h0M288.6 631.4h0M249 632.4h0M259 632.4h0M302.2 620.4h0M268.4 616.1h0M311.9 630.3h0M289.8 632h0M330.6 625.3h0M248.7 632.2h0M308.6 629.6h0M310.8 631.7h0M318.3 615.5h0M252.7 624.5h0M261.7 619.9h0M319 616.1h0M265.5 632.4h0M305.8 625.2h0M256.8 631.9h0M298.3 632.4h0M303.1 631.5h0M268 628.8h0M293.7 619.2h0M246.7 619.2h0M264.5 631h0M303.6 620.6h0M301.3 610h0M263 630.7h0M305.7 631.3h0M258.6 631.7h0M315.9 614.3h0M310.8 606.5h0M318.1 630.8h0M273.3 619.4h0M249.1 623.7h0M252.2 632.5h0M291.8 632.2h0M330.9 611.5h0M287 631.9h0M255 626.9h0M292.6 630h0M310.8 626.2h0M316.3 632.4h0M250.4 629.5h0M289 631.4h0M306.3 631.7h0M273.6 627.6h0M310.4 617.1h0M278.6 628.3h0M330.5 608.1h0M301.7 632.4h0M286.4 622.7h0M269.9 632.5h0M335.5 609.6h0M255.9 627.9h0M301.7 630.9h0M250.3 618h0M315.9 628.5h0M251.9 629.4h0M252.6 606.2h0M248.6 631h0M315.6 632.3h0M253.8 632.4h0M259.2 626.2h0M321.7 632.1h0M260.1 617.4h0M283.6 630.4h0M255.4 631.5h0M334.6 632.3h0M268.1 618.5h0M327.2 609.9h0M288 606.6h0M300.3 631h0M287.3 619.6h0M312.4 632.3h0M256.8 587.3h0M268.2 582h0M264.7 565.3h0M267.3 563.5h0M263.8 569.7h0M278.5 567h0M317.6 572.3h0M278.5 597.9h0M291.2 597h0M314.1 595.3h0M308.8 603.2h0M329.1 600.6h0M336.2 605h0M264.7 599.7h0M268.2 604.1h0M275.3 606.7h0M280.6 605.9h0M292.9 603.2h0M250.6 605h0M251.5 612h0M291.2 613.8h0M298.2 614.7h0M315 614.7h0M325.6 610.3h0M279.7 615.6h0M246.2 616.4h0M262.9 611.2h0" stroke="#74e470" stroke-width="5.6" stroke-linecap="round" fill="none"/>
<path d="M346.7 632.2h0M344 632.5h0M351.3 633.4h0M348.7 633h0M371.9 633.6h0M367.6 633.3h0M346.1 632.6h0M351.4 633.5h0M353.8 632.5h0M367.8 632.9h0M341 632.6h0M359.8 632.3h0M370.6 633.3h0M367.4 632.5h0M349 633.2h0M352.4 633.2h0M352.6 633.6h0M347.8 632.3h0M353.6 632.8h0M368.6 632.6h0M348.3 632.3h0M366 632.2h0M363.6 632.6h0M366.3 633.4h0M361.3 633.2h0M367.1 633.6h0M357.6 633.2h0M366.5 633.2h0M367.2 632.4h0M368.3 633.6h0M370.2 632.6h0M362 622.2h0M342.1 611.9h0M357.9 628.1h0M351.3 616.5h0M365.3 611.9h0M347.4 630.3h0M348.5 632.4h0M350.9 632.5h0M365.7 631.7h0M342.9 632.4h0M364 631.9h0M355.2 629.3h0M365.9 606.8h0M350.4 622.9h0M368.8 627.8h0M369 618.8h0M350.4 611.7h0M358.7 632.4h0M359.1 614.1h0M357 627.4h0M353.8 611.3h0M361.6 631.8h0M352.1 630h0M365.3 583.8h0M354.7 597.9h0M358.2 599.2h0M370.6 599.7h0M364.9 608.5h0M345.9 614.7h0M352.9 615.6h0M361.7 619.1h0" stroke="#6cbaf6" stroke-width="5.6" stroke-linecap="round" fill="none"/>
<path d="M426.9 632.7h0M382.2 632.3h0M377.4 632.8h0M398.7 632.6h0M398.5 633.6h0M403.6 632.5h0M417.8 633.2h0M387.4 632.6h0M418.5 633.4h0M422.8 632.2h0M398.7 633.2h0M413.6 632.3h0M386.3 633.3h0M393.2 632.6h0M385.5 632.9h0M402.3 632.7h0M383.2 632.2h0M429.1 632.9h0M418.1 633.5h0M424.3 632.9h0M416.2 632.4h0M394.9 632.3h0M386.6 633.8h0M402.4 632.3h0M423.8 632.2h0M402.9 632.3h0M405.5 633.6h0M409.3 632.5h0M398.2 632.8h0M389.4 633.3h0M398 633h0M400.6 633.6h0M375.8 633.2h0M413.9 632.6h0M388.2 633.4h0M403.2 633.5h0M407.8 632.3h0M386.3 632.8h0M414.1 632.6h0M413.7 632.6h0M390.1 632.4h0M425.1 633.7h0M426.1 633.1h0M380.1 633.7h0M418.2 632.7h0M383.1 633h0M409.7 632.2h0M393.5 632.5h0M388.7 633.5h0M384.2 633.1h0M408.6 633.3h0M384.2 631.7h0M380.1 631.9h0M392.4 626.9h0M385.4 627.6h0M399.1 605.5h0M401.6 607.4h0M400.8 631.9h0M407.2 632.2h0M384.6 632.4h0M413.1 605.9h0M397.1 630.1h0M398.3 630.1h0M412.5 629.5h0M383.7 612.2h0M406.2 632.5h0M421 619h0M394.5 623h0M424.8 629.3h0M398.7 630.9h0M405.2 621.8h0M414.9 607.1h0M383.3 629.9h0M421.2 616.1h0M407.1 621.2h0M393.7 607.4h0M405 629.3h0M385.3 632.3h0M423.6 615.6h0M377 630.6h0M401.2 627.2h0M395 610.4h0M394.3 626.2h0M425.3 622.7h0M401.1 630.4h0M396.3 623.7h0M417.6 631.4h0M395.4 629.5h0M395 609.4h0M415.2 555.6h0M425.6 582h0M414.3 597.6h0M390 598.8h0M394.4 604.1h0M420.3 605.9h0M390 610.3h0M379.4 605.9h0M404.1 612.9h0M428.5 614.7h0M377.6 615.6h0M392.6 619.1h0M405.8 619.1h0M424.4 620.9h0" stroke="#74e470" stroke-width="5.6" stroke-linecap="round" fill="none"/>
<path d="M463 633.3h0M451.3 632.5h0M441.6 632.7h0M433.7 633.5h0M435.8 632.5h0M440.8 633.4h0M435.7 633.4h0M474.1 632.6h0M484.1 632.3h0M463.7 632.3h0M437.6 632.3h0M457.1 633.5h0M474.9 632.4h0M454.3 633.6h0M482 632.6h0M466.3 632.2h0M434.6 633.7h0M439.5 633.8h0M472.6 632.8h0M438.8 633.5h0M442.7 632.8h0M470.6 632.2h0M452.9 632.2h0M457.1 633.2h0M446.8 633.4h0M487.7 632.2h0M472.5 633.5h0M442.7 633.6h0M452.4 632.6h0M435.8 632.9h0M471.1 633.7h0M457.4 632.5h0M465.1 633.1h0M482.4 632.8h0M451.6 633.2h0M486 632.4h0M484.3 632.9h0M440.5 633.5h0M454.2 632.7h0M432.7 632.5h0M477 633h0M432.8 632.5h0M456 632.7h0M464.8 632.6h0M455.7 632.2h0M486.6 632.3h0M467.4 633.3h0M453.8 633.4h0M483.7 632.5h0M477.2 632.5h0M488.7 632.7h0M450.5 632.6h0M447.3 632.8h0M441.5 632.4h0M460.2 631.2h0M484.8 632.4h0M485.2 617.7h0M440.9 617.5h0M465 609.7h0M465.7 628.8h0M485.4 632.4h0M476.5 632.4h0M448.2 632.3h0M481.9 628.4h0M473.7 631.4h0M473.9 622.3h0M438 627.2h0M473.4 631.8h0M469.6 631.2h0M453.5 608.9h0M485.9 603.9h0M456.7 625h0M478.3 617.7h0M458.3 612.3h0M455.2 607h0M459.3 632.3h0M474.9 632.2h0M471 632.5h0M488.5 625.9h0M474.5 632.3h0M468.6 629.7h0M446.6 614.9h0M434.4 627.6h0M437.4 612.9h0M483.1 632.5h0M458.8 627.8h0M473.2 619h0M451.9 608.1h0M443 632.2h0M478.7 632.3h0M443 627h0M451.5 632.1h0M485.2 627.7h0M477 631.5h0M484.2 631.7h0M483.9 623.6h0M487.5 617.1h0M468.2 626.1h0M480.9 628.4h0M438 609.3h0M478.1 621h0M474.7 631.6h0M458.7 614.5h0M487 608.7h0M441.6 620.9h0M463.9 629.2h0M442 632.2h0M459.1 627.2h0M478.5 541.5h0M458.8 561.4h0M454.9 572h0M438.5 587.3h0M442.9 592.6h0M457.9 592.6h0M487 583h0M451.7 596.2h0M459.7 601.5h0M455.2 606.7h0M438.5 608.5h0M450.8 612.9h0M484.3 590.9h0M476.4 604.1h0M480.8 603.2h0M487 610.3h0M491.5 563.5h0M485.3 590.9h0M481.4 603.2h0" stroke="#6cbaf6" stroke-width="5.6" stroke-linecap="round" fill="none"/>
<path d="M498.8 633.2h0M505.4 632.6h0M506.2 633.5h0M513.1 633.2h0M514.8 632.2h0M495.8 632.8h0M515 633.2h0M505.2 633.3h0M493.2 633.5h0M495.4 633.3h0M507.1 632.9h0M514.5 632.7h0M500.9 632.2h0M507.2 632.9h0M512.6 632.7h0M500.9 632.8h0M499.5 632.2h0M498.2 632.2h0M494 633.8h0M505.4 633.5h0M504.3 633.6h0M512 632.7h0M508.4 632.3h0M515.6 621.2h0M509.1 632.5h0M493.7 628.8h0M515 630.7h0M505.7 632.5h0M502.2 610h0M506.2 614.4h0M492.8 631.9h0M496.7 614h0M494.9 608.2h0M498.7 611.3h0M504.5 630.6h0M515 629.2h0M508.7 632.4h0M511.8 605h0M495.1 618.2h0M498.8 632.2h0M501 621.8h0M514.7 604.1h0M515.6 623.2h0M507.7 632.1h0M504.2 572.7h0M507.3 581.2h0M502.1 582.9h0M507.3 592.1h0M510.9 597h0M493.2 594.9h0M502.1 605h0M508.2 605.9h0M499.4 618.2h0M514 620h0" stroke="#74e470" stroke-width="5.6" stroke-linecap="round" fill="none"/>
<path d="M540.5 632.9h0M529.7 632.3h0M526.6 633.6h0M523.8 633.6h0M536.5 632.5h0M523.8 633h0M536.1 632.9h0M531.3 632.9h0M519.6 633.7h0M531.6 633.4h0M541.5 633.4h0M543.4 633.4h0M521.8 633h0M530.5 633.3h0M541.7 633.4h0M538.9 632.4h0M532.5 633h0M546.4 632.8h0M524.4 633.7h0M521.5 633.3h0M521.7 632.7h0M531.6 633.3h0M534.2 632.3h0M526.3 633.5h0M528.1 633.3h0M546 632.6h0M531.8 633.5h0M520.4 633.6h0M544.1 632.7h0M523.7 623.2h0M520.8 626.9h0M529 632.4h0M541 619.6h0M534.2 632.1h0M538.9 628.6h0M538.6 632.4h0M545.8 632.5h0M525.7 629.3h0M525 632.4h0M539.4 604.1h0M529 631.3h0M538.9 631.7h0M530.9 620.7h0M531.8 632.2h0M521.2 625.8h0M548.4 608.9h0M522.1 627h0M533.5 631.9h0M538.9 627.2h0M543 631h0M546.7 614.9h0M529 592.6h0M543 585.9h0M531.2 602.3h0M538.2 606.7h0M525 612.9h0M541.8 613.8h0M532.9 618.2h0" stroke="#6cbaf6" stroke-width="5.6" stroke-linecap="round" fill="none"/>
<path d="M568.1 633.6h0M568.4 633.6h0M575.3 632.7h0M571.6 632.2h0M553.5 632.6h0M579.2 633.6h0M562.9 633.7h0M571.8 632.6h0M563.8 632.7h0M564.4 632.6h0M561.4 632.2h0M566.9 633.8h0M555.1 632.6h0M581.3 632.8h0M557.3 632.4h0M576.3 633.6h0M564.9 632.7h0M552.1 633.7h0M564 632.4h0M585.8 633.3h0M582.8 632.5h0M581.4 632.8h0M584.9 632.7h0M584.2 632.9h0M558.7 633h0M568.4 633.2h0M564.7 633h0M572 633.4h0M561.4 633h0M569.1 633.1h0M574.5 633.5h0M570 633.3h0M578.1 632.6h0M578.5 626.6h0M560.4 608.6h0M569.3 629.8h0M561.8 629.3h0M576 614.7h0M568.4 618.9h0M559.2 628.2h0M564.1 630.8h0M564.2 617.8h0M576.9 631.8h0M559.9 616.4h0M574.2 621.2h0M573.6 620.5h0M561.3 632.5h0M564.2 632.5h0M584.6 626.4h0M574.7 606h0M579.3 631.7h0M563.4 632.4h0M579 618.7h0M568.5 629.9h0M561.2 627.4h0M576.2 610.4h0M580.8 612h0M566.9 628.9h0M562.7 605.5h0M558.2 632.1h0M559 593h0M569.1 591.8h0M555.9 605h0M563.8 604.1h0M569.1 602.3h0M557.6 613.8h0M584.1 611.2h0M571.7 621.7h0M577.9 612.9h0M580 603h0" stroke="#74e470" stroke-width="5.6" stroke-linecap="round" fill="none"/>
<path d="M598.6 632.3h0M617.6 633.3h0M617.6 632.3h0M603.5 633.5h0M615 633.2h0M593.3 632.3h0M603.9 633.2h0M609.1 633.4h0M590 633.2h0M601.9 633.8h0M601.7 632.6h0M600.4 632.7h0M610.1 633.5h0M590 632.7h0M609.6 633.3h0M595.9 632.4h0M619.5 633.4h0M608.8 632.9h0M600 633.7h0M600.1 632.7h0M609.3 633h0M593.4 633.5h0M599.6 633.1h0M601.4 632.3h0M593.1 632.2h0M597.3 632.4h0M597.4 632.8h0M601.8 633.7h0M615.8 632.5h0M598.2 632.5h0M605.2 632.2h0M591.1 633.2h0M596.9 623.2h0M615.2 613.4h0M607.5 629.5h0M615.9 632.4h0M597.9 617.9h0M603.9 604.2h0M592.3 628h0M596.4 632.5h0M592.4 632.4h0M601.6 628.6h0M606.2 631h0M612.6 626.6h0M621.9 632.1h0M606.3 627.2h0M601.7 612.4h0M596.3 611.5h0M601.2 630.4h0M609.7 625.2h0M598.7 632.4h0M621 629.9h0M593.1 622h0M607 630.5h0M600.2 613.3h0M600.5 629h0M621.1 630h0M602.7 632.1h0M611.3 621.7h0M594.3 590h0M604.4 598.5h0M622 580.6h0M619.4 590h0M590.3 605.9h0M596.4 608.5h0M601.7 612.9h0M610.6 612h0M603.5 605.9h0M620.3 619.1h0M592.9 620h0" stroke="#6cbaf6" stroke-width="5.6" stroke-linecap="round" fill="none"/>
<path d="M633.8 633.1h0M630 632.5h0M634 632.4h0M632.5 632.6h0M626.4 633.4h0M642.9 632.7h0M637.8 633h0M634.3 633.5h0M629 632.7h0M638.2 633.4h0M637.3 633.6h0M636.7 633.5h0M634.9 633.3h0M635.6 633.6h0M634.4 632.8h0M628.3 633.3h0M637.9 632.9h0M636.8 632.5h0M636 631.7h0M633.7 614.1h0M635.9 617.9h0M632.3 628.3h0M643.1 614.5h0M637.4 632.4h0M636.7 632.5h0M642.4 605.6h0M638.8 631.3h0M640.9 632h0M640.5 626.5h0M626.2 610.7h0M633.7 614.1h0M638.1 626.1h0M641.2 631.9h0M627.3 600.6h0M639.7 595.3h0M644.1 587.3h0M642 605.9h0M632.6 607.6h0M627.3 615.6h0M635.3 618.2h0" stroke="#74e470" stroke-width="5.6" stroke-linecap="round" fill="none"/>
<path d="M687.6 633.2h0M648.1 633.2h0M649.9 633.7h0M675.2 633.6h0M654.2 633.3h0M659.6 632.3h0M687.9 632.4h0M691.8 633.1h0M683 633.3h0M688.9 632.5h0M680.1 633.4h0M651.1 632.3h0M671.9 632.8h0M686 633.6h0M678.6 633h0M682.5 633.1h0M655.9 632.2h0M659.7 632.6h0M684.6 633.4h0M678.4 633.2h0M657.1 633.4h0M690.1 633.2h0M670 633h0M648.2 632.6h0M680.7 632.4h0M663.1 633.5h0M662.7 632.6h0M676.7 633.1h0M670.7 633.5h0M688.5 633h0M669.9 632.5h0M655.9 632.6h0M662.9 632.5h0M651.2 633.3h0M675.7 633h0M664 632.9h0M656.8 633.1h0M647 632.5h0M658.4 632.4h0M671.9 632.8h0M675.3 633.6h0M682.1 633.3h0M686 632.5h0M677.6 614.9h0M666.7 621.4h0M690.1 632h0M651.5 629.1h0M670 632.2h0M657 612.1h0M664.5 632.2h0M655.2 624.8h0M655.5 627.7h0M671.3 628.5h0M669.8 613.7h0M647.7 608.3h0M656 632.5h0M681.7 625h0M671.3 631.8h0M682.3 630.8h0M679.9 631.7h0M672.9 622.3h0M663.8 627.6h0M649.9 622.5h0M678.2 632.2h0M671.9 618.8h0M651.5 613.6h0M686.4 632.5h0M658.2 632.4h0M658.4 632.4h0M669.1 631.5h0M660.5 628h0M663.8 616.2h0M679.7 632.3h0M657.1 632.5h0M661.9 632.4h0M678.5 616.6h0M692 631.8h0M648.6 617.7h0M665.6 608.2h0M645.3 585.6h0M655.2 590.3h0M663.5 591.4h0M671.4 596.2h0M688.7 587.9h0M650.3 596.7h0M675.8 602.3h0M659.1 607.6h0M666.1 609h0M675.8 617.3h0M649.4 618.2h0M693 605.9h0M693 612h0" stroke="#6cbaf6" stroke-width="5.6" stroke-linecap="round" fill="none"/>
<path d="M712.2 633.3h0M698.7 632.3h0M717.3 633.1h0M714.1 632.5h0M730.8 633h0M703.1 633.1h0M733.3 633.1h0M723.6 632.9h0M715.1 632.9h0M706 632.9h0M732.2 633.7h0M711.2 632.4h0M737 633.8h0M722.1 632.8h0M731.3 633h0M701.1 633.3h0M725.8 632.6h0M704.2 632.7h0M723.4 632.7h0M696.5 633.1h0M709.3 632.8h0M709.8 633.6h0M724 633.3h0M729.1 633.3h0M718.7 632.5h0M700.5 632.6h0M698.5 632.3h0M696.6 632.6h0M711.2 633.5h0M712.3 633h0M713.2 633.6h0M717.7 633.3h0M736.6 633.2h0M714 633.4h0M736.6 633.3h0M723 632.4h0M712.2 632.6h0M707.4 633.6h0M697.4 633.1h0M732.6 633.5h0M714.2 632.6h0M707.3 632.2h0M717.6 628.8h0M735.3 610.3h0M705.7 625.3h0M713.2 632.5h0M714.4 609.2h0M708.4 624.5h0M725.7 632.5h0M734.7 632.4h0M708.4 619.6h0M696.4 629.8h0M700.9 627.7h0M696.2 632.2h0M705 632.4h0M699.4 631.9h0M717.5 632.2h0M730.4 629h0M706.3 631.5h0M731.1 632.5h0M727 632.4h0M735.6 629.1h0M720.9 612.3h0M699.8 632.5h0M725 624.5h0M726.1 631.2h0M716.6 632h0M714.1 631.1h0M720.4 630.9h0M707.2 622.5h0M699.2 615.6h0M716.6 631.7h0M700.4 626.8h0M716.9 619.4h0M711.4 629.1h0M733.4 631.2h0M737.1 610.6h0M737.5 607.5h0M718.2 580.3h0M708.5 588.6h0M714.7 592.6h0M724.4 589.1h0M697 602h0M704 599.7h0M720 610.3h0M700.5 614.7h0M709.4 616.4h0M698.8 623.5h0M735.2 563.8h0M724.2 589.1h0M734.3 608.1h0M723.8 611h0M729.5 616.7h0" stroke="#74e470" stroke-width="5.6" stroke-linecap="round" fill="none"/>
<path d="M749.7 632.5h0M761.3 633.5h0M773.9 632.7h0M767.7 632.9h0M743.9 632.4h0M747 633.4h0M761.4 633.5h0M756.4 632.6h0M744.4 632.7h0M744.7 633h0M762.5 632.7h0M742.7 633.5h0M772.6 633.2h0M755.2 633.2h0M764 632.6h0M762.5 633.1h0M759.9 633h0M747.4 632.2h0M772.8 632.5h0M773.7 633h0M768.7 633.4h0M765.5 632.6h0M771.9 632.4h0M770 633.4h0M767 633h0M751.5 633.2h0M767.4 632.4h0M768.9 632.7h0M746.9 633.5h0M759.8 633.5h0M752.3 633.6h0M746.4 632.6h0M748.6 613.1h0M752 613.1h0M751.2 631.3h0M754.2 632.5h0M755.5 629.7h0M741.7 612.4h0M753.5 632.5h0M772.6 631.7h0M749.6 632.5h0M744.6 619.9h0M760.3 626.9h0M749.3 631.1h0M773 629.8h0M773.6 610.9h0M745.4 613.1h0M742 619.8h0M767.7 620.5h0M759.2 615h0M746.3 625.9h0M750 629.3h0M747.5 619.9h0M760 616.7h0M761.8 624.1h0M771.4 615h0M759.8 630.5h0M771.6 629.8h0M750.5 549.7h0M746.3 575.4h0M747.1 585.1h0M755.3 585.1h0M756.2 591h0M742.3 598h0M746.7 606.2h0M753.3 603.8h0M767.6 604.3h0M771.4 610h0M751.4 612h0M762.9 616.7h0" stroke="#6cbaf6" stroke-width="5.6" stroke-linecap="round" fill="none"/>
<path d="M781.5 633.3h0M806.4 632.3h0M803.9 632.7h0M816 632.5h0M795.7 633h0M808.6 633.3h0M781.8 632.8h0M810.7 633.4h0M805.5 632.3h0M782.6 633.6h0M797.6 633.3h0M816.5 632.2h0M795.7 632.5h0M803.4 633.5h0M817.4 633.5h0M780.4 633.1h0M778 633h0M794.3 632.2h0M794.4 632.4h0M809.5 632.8h0M787.1 633.3h0M797.6 633.2h0M803.9 633h0M790.6 632.8h0M818.4 633.5h0M791.1 633.8h0M781.2 633.7h0M794.7 632.4h0M806.1 632.2h0M811.8 632.8h0M801.2 633.8h0M793.1 633.4h0M802.9 633.7h0M799.7 633.2h0M797.6 633.1h0M781.5 632.6h0M810.3 632.8h0M782.1 632.8h0M813.2 632.2h0M808.6 633.7h0M813.5 621.7h0M788.7 608.9h0M811.4 610.4h0M787.5 624.8h0M792.9 630.9h0M808.7 623.5h0M791 625.8h0M815.6 625.1h0M815 625.1h0M818.2 632.5h0M796.3 625.6h0M807.3 605.8h0M803 627.6h0M803.5 626.1h0M806.4 607.2h0M777.9 630.6h0M813.5 632.5h0M809.9 632.5h0M804 615.6h0M787.1 629.6h0M786.6 620.1h0M799.1 623.9h0M790.7 624.5h0M816.7 616.7h0M816.6 631.5h0M798.6 629.6h0M791.6 615.5h0M784.5 625.4h0M809.2 608h0M778.1 631.2h0M797.6 607.9h0M784 613.5h0M793.7 625.7h0M808.2 555.7h0M811.5 572.9h0M783.5 570h0M792 580.9h0M801.9 585.1h0M780 589.1h0M793.4 592.3h0M781 601.5h0M795.8 604.3h0M784.8 606.2h0M803.8 610h0M809.6 606.2h0M777.2 614.8h0M792.4 612.9h0" stroke="#74e470" stroke-width="5.6" stroke-linecap="round" fill="none"/>
<path d="M859.7 633.7h0M835.4 633.5h0M827.4 633.3h0M850.5 632.9h0M826.9 632.5h0M842.6 633.6h0M855.4 632.5h0M830.8 632.3h0M854.9 633.4h0M822 632.4h0M855.6 633.6h0M853.2 632.5h0M847.8 632.4h0M862.1 633.3h0M855.9 632.3h0M834.7 632.7h0M849.8 632.4h0M845 633.3h0M832.2 632.9h0M827.4 632.4h0M858.2 633.4h0M850.3 632.7h0M826.9 632.5h0M853.2 633.3h0M825.9 633.3h0M853.4 633h0M855.2 633.5h0M826.3 633.2h0M857.8 633.5h0M824.9 632.6h0M825.6 632.7h0M825.3 633.4h0M849 632.4h0M838.6 633.1h0M823.2 633.2h0M831.8 632.5h0M851 632.5h0M843.6 632.7h0M827.1 633.2h0M833.9 631.1h0M852 631.8h0M835.2 631.1h0M857.1 622.7h0M841.5 629.7h0M859.5 607.7h0M840.2 625.1h0M857.1 631.4h0M832.5 632.4h0M842.4 617.2h0M828.3 628.6h0M862.3 627.5h0M837.5 613.6h0M858.3 629.7h0M827 622.8h0M852.1 608.7h0M848.8 630.8h0M842.9 631h0M840.1 627.8h0M859.1 609.8h0M859.7 627.6h0M861.2 632.2h0M859.5 622.6h0M857.5 629h0M862.3 632.5h0M856.5 614.6h0M837.2 614.2h0M830.6 617.9h0M841 629.1h0M829.9 615.6h0M851.7 632.4h0M861.8 631.7h0M837.2 629h0M850 562.2h0M832.4 586.2h0M859.7 590.8h0M856.2 597.3h0M827.7 600.7h0M838.7 601.9h0M839.7 608.7h0M860 614.4h0M829.6 612h0" stroke="#6cbaf6" stroke-width="5.6" stroke-linecap="round" fill="none"/>
<path d="M916.1 632.3h0M948.2 632.8h0M897.8 633.6h0M872 633h0M916.7 633.1h0M951.4 633.1h0M896.5 633.1h0M881 632.3h0M917.4 632.9h0M903 633.4h0M893.4 633h0M904.8 632.2h0M915 633.5h0M870.7 633.5h0M896.1 632.5h0M943.3 633.4h0M933.8 633.1h0M912.7 632.9h0M869.7 633.7h0M924 632.7h0M899.1 632.3h0M937.3 633.3h0M871.9 632.9h0M922.9 633.4h0M869.8 633h0M869 632.6h0M920.4 633.3h0M904.8 633.4h0M882.2 633.5h0M936.9 633.1h0M928.2 633.2h0M936.1 632.8h0M922.9 633.2h0M914.8 633.5h0M950.6 632.7h0M912.3 632.8h0M874.7 633.3h0M886.1 632.4h0M867.2 633.1h0M941.5 632.5h0M928.5 633.3h0M886.2 632.6h0M892 632.6h0M896.4 632.6h0M915.8 632.5h0M951.7 633.2h0M951.8 633.8h0M942.3 633.8h0M913.4 633.2h0M932.9 633.3h0M884.1 632.5h0M913.9 632.6h0M908.6 633.7h0M933 633.4h0M907 633.8h0M888.5 632.7h0M932.4 632.8h0M904.5 632.6h0M924.2 633.5h0M912.5 632.8h0M929.4 633.5h0M893 633.2h0M874.4 633.2h0M929.4 632.9h0M881.1 632.6h0M876.2 632.6h0M878.9 633.6h0M887.9 633h0M889.5 632.4h0M947.6 633.3h0M931.2 632.7h0M914.8 633.4h0M948.5 632.2h0M867.2 633.3h0M893.9 633.5h0M903.4 632.3h0M868.1 632.4h0M892.9 633.8h0M944.2 633.4h0M884.5 633.6h0M897.9 633.6h0M881.7 631.5h0M916.3 628.3h0M892.5 626.3h0M933.3 619.2h0M895.9 609.1h0M934.8 625.3h0M907.4 630.5h0M877.7 611h0M918.9 632.4h0M946.5 610.9h0M869 620.2h0M886.7 626.1h0M938.5 630.2h0M909.3 621.7h0M882.7 623.1h0M903 604.9h0M882.3 619.8h0M869.6 631.2h0M876.3 632.2h0M911.9 632.1h0M935.1 632.4h0M920.2 612.4h0M877 631.8h0M932.5 627.8h0M947 630.4h0M900.6 606.6h0M895.9 606h0M943.5 631.9h0M913.5 607.6h0M876.2 613.1h0M933.3 618.1h0M918.2 632.4h0M949.3 632.4h0M934.1 619.3h0M893.6 620.9h0M901.7 618h0M869.8 608.1h0M899.4 615.5h0M907 615h0M892.2 625.8h0M868.2 627.3h0M872.9 612.5h0M924.9 628.8h0M950.7 607.3h0M949.2 632.4h0M927.2 619.1h0M918.7 632.5h0M946.3 628.5h0M917.7 614.9h0M889.9 632.5h0M946.3 631.2h0M869.6 632.2h0M952.5 618.5h0M884.3 632.2h0M944 621.7h0M916.7 632.3h0M901.9 607.3h0M866.3 628.9h0M871 603.9h0M875.1 606.8h0M939.1 618.9h0M869.7 620.5h0M908.9 627.3h0M878.7 626.7h0M935.7 632.3h0M942.2 628.9h0M889.2 631.6h0M906 622.4h0M915.5 610.7h0M910.5 626.7h0M952 631.8h0M867.5 630.5h0M893.2 632.3h0M902.4 632.5h0M946 627.4h0M942.4 620.4h0M929.5 617.7h0M892.2 619h0M883.9 625.5h0M917.8 616.9h0M880.6 630.3h0M867.9 576.7h0M883.9 573.1h0M909.6 573.1h0M927.1 576.1h0M889.6 589.1h0M903.9 585.1h0M914.4 591h0M906.7 601.5h0M866.7 604.3h0M874.3 611h0M896.8 608.1h0M903.9 592h0M920.1 607.2h0M928.7 610h0M942.6 545.8h0M949 561.8h0M951.5 604.3h0M939.1 609.1h0M905 597h0M912 610h0M934 612h0" stroke="#74e470" stroke-width="5.6" stroke-linecap="round" fill="none"/>
<path d="M978.3 632.5h0M982.4 633.6h0M961.9 633.6h0M975.6 632.6h0M973.6 632.5h0M970.1 632.9h0M980.9 632.7h0M973.8 632.8h0M969.5 632.6h0M971.6 633.6h0M967.7 633.1h0M967.8 632.9h0M965.9 633.2h0M967.7 633.2h0M982.3 633.7h0M956.7 632.6h0M966.8 633.1h0M972.1 633.2h0M962.7 633.8h0M979.6 632.3h0M963.9 633h0M964.9 633.7h0M980.1 632.4h0M962.7 633.4h0M974.9 632.5h0M968.8 633.2h0M962.5 632.5h0M979.4 612.6h0M959.3 624.3h0M982.6 619.6h0M968.6 632.2h0M957.9 618.9h0M958.1 615.2h0M974.1 627.7h0M980.1 608.2h0M972.8 632.4h0M972 628.9h0M963 608.4h0M975.8 632.3h0M962.4 630.3h0M971.6 630.6h0M968 615h0M961.1 619.4h0M965.1 607.4h0M981.7 630.5h0M972.5 632.3h0M967.2 623.2h0M973.3 630.3h0M957.2 632.3h0M963.5 562.2h0M966.2 576.7h0M969 594.2h0M979.7 594.8h0M964.9 611h0M955.7 614.4h0M980.1 616.3h0" stroke="#6cbaf6" stroke-width="5.6" stroke-linecap="round" fill="none"/>
</g>
<path d="M750.5 515.2h0" stroke="#0585e0" stroke-width="6.0" stroke-linecap="round" fill="none"/>
<path d="M949 479.1h0" stroke="#0585e0" stroke-width="6.0" stroke-linecap="round" fill="none"/>
<path d="M808.2 520.5h0" stroke="#ff00ff" stroke-width="6.0" stroke-linecap="round" fill="none"/>
<path d="M942.6 483.3h0" stroke="#ff00ff" stroke-width="6.0" stroke-linecap="round" fill="none"/>
<line x1="60" y1="922.9" x2="1005.6" y2="922.9" stroke="#a8a8a8" stroke-width="1" stroke-dasharray="2 1.6"/>
<line x1="59" y1="882.2" x2="59" y2="1020" stroke="#444" stroke-width="1.4"/>
<line x1="53" y1="1020" x2="59" y2="1020" stroke="#444" stroke-width="1.4"/>
<text transform="translate(45.6,1020) rotate(-90)" x="0" y="0" font-size="14.3" text-anchor="middle" fill="#111" font-weight="normal" stroke="#111" stroke-width="0.3">0</text>
<line x1="53" y1="951.1" x2="59" y2="951.1" stroke="#444" stroke-width="1.4"/>
<text transform="translate(45.6,951.1) rotate(-90)" x="0" y="0" font-size="14.3" text-anchor="middle" fill="#111" font-weight="normal" stroke="#111" stroke-width="0.3">2</text>
<line x1="53" y1="882.2" x2="59" y2="882.2" stroke="#444" stroke-width="1.4"/>
<text transform="translate(45.6,882.2) rotate(-90)" x="0" y="0" font-size="14.3" text-anchor="middle" fill="#111" font-weight="normal" stroke="#111" stroke-width="0.3">4</text>
<text transform="translate(15.8,927) rotate(-90)" font-size="14.6" text-anchor="middle" fill="#111" textLength="107" lengthAdjust="spacingAndGlyphs">−log<tspan font-size="7.8" dy="1.6">10</tspan><tspan dy="-1.6">(P-value)</tspan></text>
<line x1="99.5" y1="1032" x2="965.5" y2="1032" stroke="#444" stroke-width="1.4"/>
<line x1="99.5" y1="1032" x2="99.5" y2="1037" stroke="#444" stroke-width="1.4"/>
<text x="99.5" y="1044.2" font-size="14.3" text-anchor="middle" fill="#111" font-weight="normal" stroke="#111" stroke-width="0.3">1</text>
<line x1="129.3" y1="1032" x2="129.3" y2="1037" stroke="#444" stroke-width="1.4"/>
<text x="129.3" y="1044.2" font-size="14.3" text-anchor="middle" fill="#111" font-weight="normal" stroke="#111" stroke-width="0.3">2</text>
<line x1="161.2" y1="1032" x2="161.2" y2="1037" stroke="#444" stroke-width="1.4"/>
<text x="161.2" y="1044.2" font-size="14.3" text-anchor="middle" fill="#111" font-weight="normal" stroke="#111" stroke-width="0.3">3</text>
<line x1="210.5" y1="1032" x2="210.5" y2="1037" stroke="#444" stroke-width="1.4"/>
<text x="210.5" y="1044.2" font-size="14.3" text-anchor="middle" fill="#111" font-weight="normal" stroke="#111" stroke-width="0.3">4</text>
<line x1="291.8" y1="1032" x2="291.8" y2="1037" stroke="#444" stroke-width="1.4"/>
<text x="291.8" y="1044.2" font-size="14.3" text-anchor="middle" fill="#111" font-weight="normal" stroke="#111" stroke-width="0.3">5</text>
<line x1="357.8" y1="1032" x2="357.8" y2="1037" stroke="#444" stroke-width="1.4"/>
<text x="357.8" y="1044.2" font-size="14.3" text-anchor="middle" fill="#111" font-weight="normal" stroke="#111" stroke-width="0.3">6</text>
<line x1="402.4" y1="1032" x2="402.4" y2="1037" stroke="#444" stroke-width="1.4"/>
<text x="402.4" y="1044.2" font-size="14.3" text-anchor="middle" fill="#111" font-weight="normal" stroke="#111" stroke-width="0.3">7</text>
<line x1="460.5" y1="1032" x2="460.5" y2="1037" stroke="#444" stroke-width="1.4"/>
<text x="460.5" y="1044.2" font-size="14.3" text-anchor="middle" fill="#111" font-weight="normal" stroke="#111" stroke-width="0.3">8</text>
<line x1="504.4" y1="1032" x2="504.4" y2="1037" stroke="#444" stroke-width="1.4"/>
<text x="504.4" y="1044.2" font-size="14.3" text-anchor="middle" fill="#111" font-weight="normal" stroke="#111" stroke-width="0.3">9</text>
<line x1="534.8" y1="1032" x2="534.8" y2="1037" stroke="#444" stroke-width="1.4"/>
<text x="534.8" y="1044.2" font-size="14.3" text-anchor="middle" fill="#111" font-weight="normal" stroke="#111" stroke-width="0.3">10</text>
<line x1="569.3" y1="1032" x2="569.3" y2="1037" stroke="#444" stroke-width="1.4"/>
<text x="569.3" y="1044.2" font-size="14.3" text-anchor="middle" fill="#111" font-weight="normal" stroke="#111" stroke-width="0.3">11</text>
<line x1="606" y1="1032" x2="606" y2="1037" stroke="#444" stroke-width="1.4"/>
<text x="606" y="1044.2" font-size="14.3" text-anchor="middle" fill="#111" font-weight="normal" stroke="#111" stroke-width="0.3">12</text>
<line x1="633.9" y1="1032" x2="633.9" y2="1037" stroke="#444" stroke-width="1.4"/>
<text x="633.9" y="1044.2" font-size="14.3" text-anchor="middle" fill="#111" font-weight="normal" stroke="#111" stroke-width="0.3">13</text>
<line x1="668.7" y1="1032" x2="668.7" y2="1037" stroke="#444" stroke-width="1.4"/>
<text x="668.7" y="1044.2" font-size="14.3" text-anchor="middle" fill="#111" font-weight="normal" stroke="#111" stroke-width="0.3">14</text>
<line x1="716.7" y1="1032" x2="716.7" y2="1037" stroke="#444" stroke-width="1.4"/>
<text x="716.7" y="1044.2" font-size="14.3" text-anchor="middle" fill="#111" font-weight="normal" stroke="#111" stroke-width="0.3">15</text>
<line x1="756.5" y1="1032" x2="756.5" y2="1037" stroke="#444" stroke-width="1.4"/>
<text x="756.5" y="1044.2" font-size="14.3" text-anchor="middle" fill="#111" font-weight="normal" stroke="#111" stroke-width="0.3">16</text>
<line x1="796.8" y1="1032" x2="796.8" y2="1037" stroke="#444" stroke-width="1.4"/>
<text x="796.8" y="1044.2" font-size="14.3" text-anchor="middle" fill="#111" font-weight="normal" stroke="#111" stroke-width="0.3">17</text>
<line x1="841.2" y1="1032" x2="841.2" y2="1037" stroke="#444" stroke-width="1.4"/>
<text x="841.2" y="1044.2" font-size="14.3" text-anchor="middle" fill="#111" font-weight="normal" stroke="#111" stroke-width="0.3">18</text>
<line x1="907.7" y1="1032" x2="907.7" y2="1037" stroke="#444" stroke-width="1.4"/>
<text x="907.7" y="1044.2" font-size="14.3" text-anchor="middle" fill="#111" font-weight="normal" stroke="#111" stroke-width="0.3">19</text>
<line x1="965.5" y1="1032" x2="965.5" y2="1037" stroke="#444" stroke-width="1.4"/>
<text x="965.5" y="1044.2" font-size="14.3" text-anchor="middle" fill="#111" font-weight="normal" stroke="#111" stroke-width="0.3">20</text>
<text x="532.3" y="1073.6" font-size="16.4" text-anchor="middle" fill="#111" font-weight="normal" textLength="99.4" lengthAdjust="spacingAndGlyphs" stroke="#111" stroke-width="0.3">Chromosomes</text>
<line x1="1005.6" y1="890" x2="1005.6" y2="1019.6" stroke="#ff00ff" stroke-width="1.3"/>
<line x1="1005.6" y1="1019.6" x2="1010.6" y2="1019.6" stroke="#ff00ff" stroke-width="1.3"/>
<text transform="translate(1033.5,1019.6) rotate(-90)" x="0" y="0" font-size="13.4" text-anchor="middle" fill="#ff00ff" font-weight="normal" stroke="#ff00ff" stroke-width="0.3">0</text>
<line x1="1005.6" y1="954.8" x2="1010.6" y2="954.8" stroke="#ff00ff" stroke-width="1.3"/>
<text transform="translate(1033.5,954.8) rotate(-90)" x="0" y="0" font-size="13.4" text-anchor="middle" fill="#ff00ff" font-weight="normal" stroke="#ff00ff" stroke-width="0.3">2</text>
<line x1="1005.6" y1="890" x2="1010.6" y2="890" stroke="#ff00ff" stroke-width="1.3"/>
<text transform="translate(1033.5,890) rotate(-90)" x="0" y="0" font-size="13.4" text-anchor="middle" fill="#ff00ff" font-weight="normal" stroke="#ff00ff" stroke-width="0.3">4</text>
<text transform="translate(1058.6,927) rotate(-90)" x="0" y="0" font-size="14.8" text-anchor="middle" fill="#ff00ff" font-weight="normal" textLength="73" lengthAdjust="spacingAndGlyphs" stroke="#ff00ff" stroke-width="0.3">LOD score</text>
<line x1="747.9" y1="915.5" x2="747.9" y2="1020" stroke="#ecf6fd" stroke-width="1.1"/>
<line x1="167.8" y1="903.3" x2="167.8" y2="1020" stroke="#ffe4ff" stroke-width="1.1"/>
<line x1="805.7" y1="912.1" x2="805.7" y2="1020" stroke="#ffe4ff" stroke-width="1.1"/>
<line x1="939.3" y1="896.1" x2="939.3" y2="1020" stroke="#ffe4ff" stroke-width="1.1"/>
<line x1="945.8" y1="865.5" x2="945.8" y2="1020" stroke="#ffe4ff" stroke-width="1.1"/>
<clipPath id="cpC"><rect x="0" y="0" width="1000" height="1020.2"/></clipPath><g clip-path="url(#cpC)">
<path d="M98.4 1019.7h0M92.4 1018.9h0M106.5 1019.1h0M91.2 1019h0M91.7 1018.7h0M88.9 1019.5h0M95.5 1018.4h0M89.1 1019.7h0M88.3 1019.6h0M93 1019.3h0M103.1 1019.3h0M96.4 1019.3h0M103.5 1018.4h0M95.2 1018.4h0M91.1 1018.3h0M97.6 1018.8h0M94.2 1019.5h0M88.4 1018.5h0M93.7 1018.8h0M96.1 1019.1h0M90.1 1019.7h0M93.1 1018.8h0M98 1020h0M102 1019.3h0M86.8 1017.6h0M90.2 1000h0M98.2 1016.8h0M91.1 1017.2h0M91.8 1016.5h0M103.9 1001.9h0M101.7 996.3h0M100.6 1018.5h0M86.2 1018.3h0M91.3 1012.5h0M104.6 1010.7h0M95.3 1017.7h0M108.4 1003.7h0M93.2 1018.6h0M108.4 1017.6h0M105.2 1018.5h0M100.6 1016.3h0M106.2 1017.2h0M87.6 1018.1h0M104.2 989.9h0M100.4 1007h0M91.8 1017.4h0M87.2 989.4h0M86.2 1009.7h0M93.5 1018.2h0M95.5 993.3h0M97.3 940.9h0M98.5 966.2h0M100 969h0M88.8 972.3h0M102 976.7h0M86.2 988.6h0M97.6 990.9h0M90.6 997h0M104.7 999.7h0M109.5 983.3h0M92 984h0M87 980h0" stroke="#74e470" stroke-width="5.6" stroke-linecap="round" fill="none"/>
<path d="M119.4 1019.7h0M130.5 1018.9h0M127.1 1019.7h0M137.7 1019.8h0M117.3 1019.6h0M127.2 1019.2h0M128.3 1018.7h0M138.2 1019.2h0M113.4 1018.6h0M112.7 1019.5h0M116.3 1019h0M135 1019.8h0M120.8 1018.5h0M132.3 1019.8h0M132.2 1018.6h0M124.1 1019.7h0M131.4 1019.5h0M116.1 1019.7h0M123.9 1019.8h0M123.4 1019.1h0M128.3 1019.3h0M135.5 1019.8h0M121.8 1018.4h0M137.4 1018.4h0M134.5 1019.1h0M135.1 1019h0M115.6 1019.6h0M115 1018.5h0M121.6 1019.3h0M127.9 1018.5h0M132.7 1001.5h0M135.4 996.5h0M121.4 1018.4h0M134.4 1006.5h0M123 1016.5h0M116.7 999.5h0M125.6 1000.6h0M122.1 1016.8h0M127.1 1004.1h0M137.9 1016.4h0M132.4 1015.5h0M137.3 1003.4h0M128.4 1016.2h0M120.2 996.3h0M135.5 1017.1h0M114.6 1018.1h0M140.3 1018.6h0M135.8 1012.5h0M128.3 1012.1h0M124.1 1011.6h0M114.8 994h0M115.2 1018.4h0M131.8 1008.7h0M135.7 1006.5h0M139.3 1018.6h0M112.5 1017.8h0M134.9 1018.3h0M127.7 1002.8h0M116.7 1012.5h0M138.4 1004h0M123.8 1013.8h0M120.3 991.2h0M135 1007h0M121 1004.7h0M126.4 1001.4h0M122.8 996.5h0M132.1 1014.5h0M128.6 1001h0M127.6 991.2h0M112.4 995.5h0M133 1013.5h0M136.9 1018.4h0M125.5 984.7h0M129 987h0M140.9 980.3h0M115.3 993.5h0M122 996h0M132 991h0M136 999h0M118 1003h0" stroke="#6cbaf6" stroke-width="5.6" stroke-linecap="round" fill="none"/>
<path d="M154.1 1018.8h0M167.7 1019.4h0M172.5 1018.9h0M145.9 1019.8h0M146.8 1019h0M153.7 1019.6h0M157.2 1019.9h0M170.1 1018.6h0M160.3 1019.2h0M153.3 1019h0M154.4 1018.3h0M171.4 1018.7h0M167.8 1019.9h0M148.1 1019.4h0M148.2 1019.3h0M172.2 1018.6h0M171.5 1019.6h0M150.9 1020h0M152.3 1019.9h0M159.4 1019.5h0M163.5 1019h0M161.4 1019.5h0M165.2 1018.8h0M164.6 1019.2h0M157.6 1019.5h0M145.8 1019.2h0M161.9 1019.7h0M168.7 1018.5h0M168.5 1000.4h0M158.3 1018.2h0M152.3 1004.5h0M172.2 1018.5h0M144.9 1016.4h0M154.4 1010.3h0M147.8 998.8h0M154.1 994.8h0M153.9 1017.1h0M149.6 990.8h0M161.1 999.8h0M146.4 1012h0M165.2 989.5h0M170.8 1018.5h0M155.1 988.4h0M159.6 991.5h0M151.8 1018.6h0M171.1 1017.5h0M160.3 1016.3h0M160.8 993.1h0M171.1 996.8h0M151.9 1000.1h0M145.2 1015.2h0M171.1 1017.6h0M154.9 1010.8h0M151.3 1005.8h0M162.9 1018.5h0M170.4 1018.6h0M164.1 1016.5h0M148.7 1018.6h0M172.6 1001.3h0M157.5 1001.6h0M171.8 993.6h0M159.6 1017.4h0M159.2 989.7h0M165.1 1007.5h0M168.2 1015.4h0M160.3 998.5h0M150.2 997.9h0M167.9 939.2h0M166.4 952.9h0M167 955h0M155.9 972.3h0M153.7 979.7h0M162.6 982.4h0M154.1 985.6h0M170 990h0M152 996h0M160 998h0M147 1000h0" stroke="#74e470" stroke-width="5.6" stroke-linecap="round" fill="none"/>
<path d="M177.6 1019.1h0M212.7 1019.7h0M234.8 1019.2h0M187.8 1019.3h0M213.7 1019.3h0M176.2 1019.8h0M221.5 1019.8h0M192.3 1018.6h0M231 1018.5h0M187.1 1020h0M224.1 1019h0M199.3 1020h0M203.5 1019.6h0M213.5 1018.3h0M189.3 1019.9h0M220.3 1019.8h0M190.2 1019.2h0M238.9 1019.4h0M196.1 1019.2h0M186.3 1019.3h0M220.7 1019.4h0M226.8 1019.7h0M182.5 1018.9h0M204.9 1018.4h0M182.7 1018.7h0M218.7 1019.4h0M184.2 1018.9h0M224.4 1019.2h0M206.1 1018.8h0M214.9 1019.3h0M187.9 1019.2h0M211.1 1018.5h0M239.5 1019h0M197 1019.6h0M216.2 1018.7h0M191.8 1018.8h0M239.8 1019.3h0M235.9 1019.2h0M217.6 1018.5h0M189 1019.4h0M238.8 1019.9h0M195.5 1019.2h0M223.5 1018.9h0M235.3 1018.8h0M176.1 1019.9h0M178.3 1019.3h0M177.7 1019.1h0M216.4 1019.7h0M230.6 1019.3h0M237.3 1019.4h0M215.6 1019.1h0M192.8 1018.7h0M176.2 1019.6h0M196.5 1018.5h0M207.9 1019.9h0M195.1 1019h0M227.6 1019.8h0M225.7 1019.3h0M209.4 1019.3h0M204 1018.3h0M234.7 994.1h0M222.9 1006.2h0M185 1018.6h0M229 1007.4h0M216.2 1017h0M193 994h0M209.9 1018.6h0M197.7 1016.4h0M180.3 989.9h0M233.6 1000.5h0M176.3 1015.2h0M183.1 1005h0M227.7 1001.8h0M226.5 1018.5h0M176.8 1018.5h0M229.8 999.6h0M208.9 1017.8h0M230.7 1018.5h0M196.7 1018.6h0M238.7 1015.3h0M225.2 1001.2h0M213.1 989.3h0M225.4 993.5h0M237.5 1018.6h0M223.9 1017.9h0M196.7 1016.6h0M239.1 1018.6h0M203.7 1018.4h0M239.7 1013.4h0M220.8 1012.7h0M225 1016.6h0M202.4 1004.1h0M220.8 996.1h0M195.7 998.5h0M223 1011.1h0M202 1011.3h0M180.9 1018.5h0M195.9 1018.5h0M179.1 1005.4h0M222.7 1009.6h0M189.1 1005.2h0M228.7 1009.5h0M190.5 1011.4h0M201.2 1017.5h0M185.5 997.5h0M216.3 993.2h0M187 1017.5h0M208.5 1018.6h0M195.3 1012.1h0M206.7 994.7h0M212.8 1008.8h0M213.3 1002.1h0M199.4 1018.6h0M238.6 1001.7h0M188.3 938.3h0M177.9 968.4h0M190.8 964.7h0M190.8 980.3h0M178.8 990h0M201.7 989.1h0M215.5 993.9h0M227.8 985.6h0M238.3 982.4h0M240.5 992.6h0M186.7 992.6h0M204 991h0M210 998h0M222 997h0M232 1000h0" stroke="#6cbaf6" stroke-width="5.6" stroke-linecap="round" fill="none"/>
<path d="M255 1019.8h0M263.9 1018.9h0M255.4 1020h0M289.2 1020h0M267.3 1019.3h0M262.3 1020h0M267.4 1019.6h0M273.4 1019.3h0M276.7 1019.4h0M245 1018.6h0M311.9 1019.2h0M243.4 1019.6h0M327.1 1019.2h0M262.3 1018.6h0M326.2 1019.8h0M289.8 1019h0M254.1 1019.4h0M300.8 1018.8h0M301.7 1018.9h0M278.4 1019.9h0M244.7 1018.6h0M323.7 1018.4h0M250.3 1018.7h0M259.2 1019.4h0M261.8 1018.5h0M319.5 1018.6h0M278.7 1018.4h0M267.4 1019h0M305.9 1019.6h0M278.7 1019.8h0M317.4 1019.7h0M255.8 1019.5h0M302.8 1018.9h0M292 1018.5h0M313.3 1019.6h0M293 1019.7h0M265.7 1019.7h0M250.4 1019.4h0M325.7 1018.9h0M251.3 1019.6h0M298.3 1019.1h0M245.7 1019.8h0M295.9 1019h0M250.7 1018.7h0M265.6 1019h0M292.5 1019.4h0M331.3 1019.3h0M282.6 1019.1h0M321.4 1018.3h0M314.9 1019.1h0M309.9 1018.9h0M332.5 1018.3h0M314 1019.6h0M296.1 1019.2h0M264.7 1018.7h0M263.8 1018.8h0M288.8 1019.3h0M309 1018.8h0M335.4 1018.3h0M317.7 1019.5h0M305.5 1019.1h0M330.8 1019.2h0M276.5 1020h0M287 1019.1h0M271.9 1019.8h0M288.3 1019.9h0M259.2 1019.2h0M275.6 1019.1h0M292.6 1019.3h0M255.6 1020h0M295.3 1018.3h0M269.4 1019.4h0M272.9 1018.7h0M289.1 1018.6h0M243.7 1019.8h0M262.4 1019.4h0M280.4 1019.3h0M333.1 1019.2h0M296.8 1018.3h0M303 1019h0M320.3 1019.4h0M246.5 1018.4h0M292.9 1019h0M249.4 1018.7h0M278 1018.9h0M269.6 1018.4h0M277.5 1017.4h0M326.4 1017.9h0M268.4 1013.6h0M334.5 1018.5h0M262.8 1001.5h0M250.2 1015.3h0M316.1 1005.6h0M317.1 1018.5h0M326.1 1016.3h0M319 1014h0M326.2 1013.8h0M267.2 1018.4h0M289.4 1018.6h0M258.5 996.9h0M296.6 997.6h0M257.2 1013.8h0M286.8 1018.5h0M267.7 993.9h0M310.6 1013h0M299.9 997.8h0M332 1010.4h0M247.9 997.1h0M258.5 1017.8h0M255.9 1012.9h0M297.4 1014.3h0M287 1018.4h0M310.1 1012.2h0M272 999.4h0M330.6 993.8h0M334.9 1018.6h0M279.4 1014.5h0M267.1 1004.2h0M327.5 1018.4h0M290.3 990.7h0M326 1014.5h0M252.9 1014.4h0M291.4 1002h0M260.5 1017.4h0M334.9 1018.6h0M300.1 1018.5h0M313.1 1015.1h0M329.4 1017.9h0M324.9 1017.9h0M247.6 1018.6h0M250.3 1015.8h0M333.7 1016.3h0M309.9 1018.6h0M291.2 1012.1h0M252.3 1010.9h0M284.7 1016.8h0M320.5 1006.6h0M254.4 1018.5h0M248.1 1017.5h0M302.5 990.6h0M333.4 997.6h0M254.8 1001.7h0M314.2 1014h0M335.9 1010.2h0M254.2 1018h0M255.3 1009.8h0M301.3 998h0M244.1 1018.6h0M333.8 1017.6h0M267.8 997.4h0M253.6 1001.7h0M326.7 1011.4h0M299.9 1018.6h0M299.7 1009.7h0M315 1012.8h0M253.8 1017.9h0M304 1018.6h0M253.1 1017.7h0M317.4 1011.9h0M276.4 991h0M297.3 1017.8h0M295.8 998.1h0M277.5 1014.8h0M297 989.3h0M302.7 1018.2h0M297.4 1016.8h0M287.3 1005.6h0M245.1 1013.1h0M272.4 1010.2h0M319.6 1014.1h0M301.8 1017.3h0M267 1013h0M268.2 941.8h0M277.2 941.5h0M263.5 951.2h0M266.1 954.7h0M316.4 964.7h0M264.9 974.4h0M255.9 975.9h0M249.4 978.9h0M293.5 980.6h0M278.5 982.9h0M313.2 981.5h0M324.4 988.6h0M270 986h0M285 992h0M258 994h0M300 995h0M330 985h0M336 977h0" stroke="#74e470" stroke-width="5.6" stroke-linecap="round" fill="none"/>
<path d="M356.4 1019.6h0M363.7 1019.1h0M350.9 1019.6h0M366 1018.4h0M369.2 1019.6h0M341.9 1018.9h0M340.5 1018.5h0M361 1019.4h0M353.6 1018.8h0M344.7 1019.4h0M364.4 1018.8h0M358.1 1019.8h0M346.5 1019.6h0M340.7 1018.9h0M357.7 1018.4h0M357.1 1018.4h0M354.4 1019.1h0M348.5 1019.2h0M369.1 1019.2h0M339.7 1019.4h0M345.9 1018.9h0M355.7 1019.2h0M368.8 1018.7h0M342.4 1019.9h0M361.7 1019h0M360.2 1019.1h0M340.8 1019.2h0M365.9 1019h0M341.1 1019.8h0M368.1 1019.1h0M344.9 1018.8h0M368.8 997.5h0M360 1000.9h0M342.4 1014.2h0M365.2 1016.6h0M344.2 997.5h0M361.8 1018.6h0M341.7 1011.6h0M369.7 1009.5h0M367.2 1018.5h0M357.8 1018.2h0M350.1 1018.4h0M354.3 1018.6h0M360.3 1008.4h0M368.1 1002.9h0M342.1 997.3h0M356.7 992.9h0M355.1 1018.6h0M361.8 1018.2h0M370.6 1012.1h0M368 1013.5h0M349.9 1007.8h0M362 1014.3h0M348.3 1015.1h0M362.2 1017.9h0M344.6 1013.7h0M360.4 1018.6h0M348.2 990.4h0M348.1 1002.8h0M364.1 949h0M353.2 976.7h0M357.9 987h0M370.5 981.2h0M368 987h0M341.2 992.6h0M350 995h0M362 998h0" stroke="#6cbaf6" stroke-width="5.6" stroke-linecap="round" fill="none"/>
<path d="M390.8 1019.9h0M400.5 1018.5h0M416 1019.9h0M412.1 1018.9h0M400.3 1018.9h0M402.4 1019.7h0M411.6 1019.8h0M391 1018.5h0M404.8 1019.1h0M412.4 1019.2h0M395 1019h0M375.7 1019.4h0M376.6 1018.3h0M423 1018.9h0M382.9 1018.5h0M389.6 1018.6h0M409.3 1019h0M414.1 1019.5h0M419.1 1019.1h0M414.9 1018.6h0M388.1 1019.3h0M393.8 1019.9h0M421.3 1018.8h0M400.7 1019.1h0M421.5 1019.9h0M393.6 1018.8h0M403.1 1019.1h0M388.3 1019.6h0M410.3 1019.4h0M424.6 1018.4h0M426.3 1019.5h0M402 1019.8h0M393.7 1019.9h0M401.3 1018.4h0M415.2 1019.4h0M389.2 1018.4h0M377.3 1018.5h0M420.2 1019.9h0M425.3 1018.9h0M395.3 1019.3h0M407 1019.1h0M420.9 1018.5h0M391.9 1020h0M416.1 1018.9h0M409.5 1019.9h0M378.5 1018.5h0M393.9 1019.2h0M426.5 1019.7h0M408.4 1019.9h0M404.5 1018.7h0M382.9 1018.7h0M426.2 999.8h0M416.7 992.1h0M412.8 1011.9h0M418.5 1000.9h0M408.1 1007.5h0M384 1016.6h0M391.9 997.9h0M416.2 1017.2h0M427.6 1018.6h0M377.8 1016.8h0M378.6 992h0M393.6 1015.8h0M420.2 1012.3h0M408.2 1014.7h0M399.1 991.4h0M389.3 1012.6h0M400.1 1018.4h0M382.3 1013.1h0M417.2 1014.9h0M377.6 993h0M381.8 996.3h0M376.9 1008.3h0M382.3 1017.6h0M397 1003.6h0M397.7 1015.2h0M396 1012.7h0M389.5 991.7h0M384.7 1018.4h0M403.8 1016.4h0M413 1018.6h0M410.6 1016.2h0M424 1017.1h0M397.6 1016.9h0M403 1017.4h0M410.3 1015.3h0M412.3 1017.2h0M398.9 1011.6h0M412.9 1008.2h0M397.4 1018.6h0M380.5 1018.4h0M384.3 1018.2h0M409.9 1016.6h0M423 1017.8h0M387.6 1018.2h0M382.2 1007h0M405.4 1017.7h0M413.9 940.6h0M377.9 972.9h0M424.1 972.7h0M412.6 976.6h0M418.8 985.6h0M389.2 985.9h0M402.9 994.4h0M376.5 1005h0M393 990h0M396 997h0M408 1000h0" stroke="#74e470" stroke-width="5.6" stroke-linecap="round" fill="none"/>
<path d="M477.1 1018.8h0M455.5 1019h0M468.4 1019.2h0M436.5 1019.4h0M484.8 1019.4h0M467.4 1019.8h0M475 1018.5h0M452.4 1019.4h0M460.3 1019.6h0M443.1 1019.8h0M470.1 1019.1h0M485.3 1018.3h0M480.7 1018.4h0M478.7 1020h0M438.6 1018.3h0M480.7 1018.9h0M466.3 1019.2h0M455.3 1019.7h0M462.3 1019.5h0M438.2 1018.5h0M463.8 1018.5h0M447.9 1019h0M446.9 1018.6h0M443.1 1018.9h0M462.7 1019.4h0M435.8 1019.2h0M460.9 1018.6h0M442.8 1019.7h0M448.6 1018.6h0M444.4 1018.9h0M433.1 1019.9h0M471.3 1019.1h0M437.7 1019.2h0M484.5 1019.3h0M462.8 1019.3h0M459.9 1019.9h0M481.2 1019h0M450.9 1019.5h0M441.9 1018.4h0M478.8 1019.3h0M465.4 1019h0M442.6 1019.9h0M472.9 1019.7h0M463.2 1020h0M432.5 1019.7h0M468.2 1018.9h0M487.3 1018.9h0M460.8 1020h0M485.4 1019.2h0M479.8 1019.9h0M478.5 1019.2h0M443.5 1019.3h0M435.5 1019h0M443.7 1006.1h0M441.1 1006.6h0M466.2 1005.7h0M485 1017.2h0M469.9 1015.6h0M481.8 999.9h0M474.5 1010.2h0M446.1 994.8h0M486.1 992h0M450.4 1000.1h0M469.7 999h0M476.6 1014.4h0M453.6 1001.5h0M468.3 1012.1h0M480.7 1018.6h0M432 1014.2h0M436.8 998.9h0M436.3 996.5h0M444 1018.4h0M473.9 1007.2h0M454.5 1010.3h0M462.5 992.1h0M460 1012.1h0M457.4 1015.3h0M470.3 1018.5h0M470.4 993.4h0M474.3 1012h0M451.3 1018.5h0M436.5 1012.1h0M481 997.5h0M441.6 1003.9h0M476.9 1013.8h0M479.8 1018.2h0M450.3 1012.9h0M472.4 1014.5h0M448.4 997.4h0M453.4 1015.2h0M443.9 1013.7h0M471.2 1016.2h0M468.7 1013.4h0M432 991.1h0M447.6 1012h0M485.5 1018h0M434.9 1018h0M439.9 998.4h0M460.5 1018.6h0M446.6 1013h0M441.1 1017h0M482.4 1014.6h0M444.5 1010.3h0M437.7 1012.7h0M467.9 1018.6h0M462.3 1017h0M473.4 1009.6h0M482.7 1009.9h0M441.6 1018.2h0M471.1 1000.7h0M434.8 1015.2h0M447.3 1014.1h0M480.6 1011.5h0M473.4 1003.1h0M447 1009.5h0M452.5 1013.9h0M461.3 1007.6h0M476.7 937h0M453.7 954.2h0M457.3 956.8h0M490.3 951.2h0M436.4 976.6h0M485.5 971.1h0M483.2 981.7h0M441.7 983.8h0M450.6 985.9h0M487 989h0M446 990h0M452 995h0M463 997h0" stroke="#6cbaf6" stroke-width="5.6" stroke-linecap="round" fill="none"/>
<path d="M495.1 1018.6h0M494.9 1019.5h0M510.8 1018.3h0M499.7 1018.4h0M492 1018.4h0M495.8 1019.9h0M508.8 1019.7h0M508.6 1020h0M494 1019.4h0M493.1 1019.2h0M499.2 1018.7h0M502.6 1018.3h0M510.7 1019.7h0M512.4 1018.5h0M504.3 1019.1h0M495.1 1019.4h0M496.3 1019.7h0M505.4 1019.4h0M508.9 1019h0M510.3 1019.8h0M510.8 1019.1h0M505.8 1019.6h0M507.3 1019.3h0M507.9 1010.7h0M494.4 1017.1h0M508.6 1018.6h0M505.8 1012h0M507.7 1016.7h0M502.2 1013.9h0M508.5 1018.6h0M503 1017.6h0M504.8 1017.6h0M496 1017.8h0M511.9 1016.2h0M511.5 1004.6h0M497.4 1011.7h0M491.4 993.1h0M505.8 1018.5h0M503.2 1013.4h0M506.7 1017.3h0M512.2 1009.3h0M492.9 1000.2h0M511.6 1017.1h0M507.6 997.8h0M511.6 1018.6h0M510.5 1017.7h0M509.7 1006.8h0M502 995.2h0M509.8 988.7h0M513.4 1011.1h0M508.2 1007.5h0M500.4 1013.3h0M502.9 1018h0M497.2 998.7h0M505.2 943.2h0M502.6 963h0M500.3 968.8h0M492.5 973.2h0M509.1 972.3h0M503 987h0M507 991h0M499 996h0M511 994h0" stroke="#74e470" stroke-width="5.6" stroke-linecap="round" fill="none"/>
<path d="M542.6 1018.8h0M538 1019.1h0M534.6 1018.9h0M517.9 1019.2h0M546.2 1019.6h0M531.4 1019.9h0M525.2 1018.6h0M518.6 1018.6h0M541.2 1018.5h0M525.2 1018.4h0M528.6 1019.2h0M545.7 1019.1h0M537.7 1019.8h0M517.8 1019.5h0M520.8 1018.6h0M525 1018.4h0M537.7 1019.7h0M538.6 1019.5h0M533.2 1019.9h0M542.2 1018.6h0M534.8 1018.8h0M527.7 1019.8h0M527.3 1018.7h0M534.3 1019.8h0M524.8 1019.2h0M518.1 1019.9h0M530.9 1019.8h0M543.8 1019.8h0M539.7 1018.6h0M527 1012.1h0M546.9 1009.6h0M529.1 990.1h0M525.3 991.6h0M526.8 1015.1h0M527 1008.2h0M543.7 1006.7h0M523 989h0M539 1013.1h0M542.7 1018.5h0M535.3 1002h0M540.5 1007.4h0M519.5 1013.8h0M525.6 1009.9h0M529.4 1014.4h0M533.5 1010.6h0M543.9 1017.3h0M525.8 1018.2h0M521 998.5h0M544.8 1018.5h0M528.3 995.1h0M543.1 989.9h0M546.9 1017.1h0M519.6 1017.7h0M532.5 1018.6h0M525.1 1014h0M541.1 976.4h0M536.1 984.7h0M529.1 987.9h0M539.7 993.5h0M531 998h0M522 1001h0" stroke="#6cbaf6" stroke-width="5.6" stroke-linecap="round" fill="none"/>
<path d="M573.5 1019.7h0M554.6 1019.4h0M553.6 1019.8h0M554 1018.6h0M580.2 1019.9h0M577.7 1018.5h0M572.5 1019.5h0M578.2 1019.9h0M552.1 1018.4h0M558 1018.4h0M576 1019.9h0M553.7 1018.9h0M555.4 1018.9h0M573.2 1019.6h0M566.6 1019.6h0M580 1018.9h0M573.9 1018.9h0M552.5 1018.5h0M576.9 1019.1h0M570.5 1019.2h0M576 1019.1h0M559.9 1019.1h0M557.7 1020h0M568.1 1018.5h0M574.8 1019.6h0M567.7 1019h0M570.1 1019.2h0M567.7 1018.8h0M580.3 1019.1h0M577 1018.8h0M554.5 1019.6h0M561.1 1019.4h0M567.1 1019.5h0M584.2 1004.6h0M563 1006.2h0M581.8 1018.3h0M571.8 991.3h0M563.2 996.8h0M577.7 1016.9h0M555.4 1000.9h0M564.5 1016.4h0M566.2 1004.9h0M580.7 994.2h0M576.4 1018.2h0M563 1018.6h0M557.3 1016.6h0M556.5 1013.9h0M554.9 1008.2h0M564.4 1017.7h0M573.7 1016.8h0M551.3 999.1h0M576 996.7h0M560.4 1017.5h0M574 1018.4h0M583.2 1008.2h0M569 1018.6h0M560.1 1015.1h0M583.7 1018.4h0M570.5 1018.6h0M583.3 1004h0M578 1003.9h0M556.6 1017.8h0M551.8 1011.8h0M553.2 1018.2h0M556.4 994h0M577.2 1017.3h0M557.3 980.3h0M566.6 975h0M566.7 983.4h0M584.5 980.3h0M582.9 987.9h0M570 990h0M560 994h0" stroke="#74e470" stroke-width="5.6" stroke-linecap="round" fill="none"/>
<path d="M619.9 1019.7h0M592.3 1019.3h0M614.4 1019.8h0M613.8 1019.1h0M614.1 1019.4h0M589.1 1019.8h0M611.6 1019.1h0M613 1019.7h0M596.9 1019.6h0M615.9 1018.8h0M592.8 1018.8h0M589 1019.2h0M596.2 1018.7h0M611.5 1018.8h0M594.2 1019.9h0M608.9 1018.8h0M588 1018.6h0M617.4 1019.4h0M604.9 1018.9h0M618.4 1018.9h0M604.8 1018.7h0M603.9 1019.9h0M605.8 1019.3h0M598.8 1019.3h0M595 1019.5h0M612.4 1018.5h0M602.8 1018.5h0M591.8 1019.1h0M612.4 1018.7h0M600.5 1019.7h0M619.5 1019h0M609.3 1019.4h0M591.4 1011.2h0M601.1 996h0M609.7 1003.6h0M606.6 1003.7h0M592.1 988.6h0M606.9 1010.3h0M594 1018.5h0M611.1 1005h0M609.8 1017.6h0M603.8 1002.9h0M608.9 994.7h0M590.6 1002.6h0M588.1 1009.3h0M605.4 1018.6h0M601.6 1007.6h0M616.4 1018.6h0M604.6 1001.5h0M591.6 995.8h0M618.8 1016.5h0M594.6 1018.4h0M595 1015.2h0M611.1 992.9h0M606.2 991.7h0M601.8 1008h0M587.7 1015.2h0M588.4 1018.4h0M614.5 1018.5h0M597.6 1012.5h0M605.1 1018.6h0M591.3 1007.2h0M601.1 1018.5h0M603.5 1016.1h0M620.9 953.8h0M616.8 959.4h0M592.6 978.9h0M602 986.1h0M609.8 987.3h0M610.3 997.9h0M598 996h0" stroke="#6cbaf6" stroke-width="5.6" stroke-linecap="round" fill="none"/>
<path d="M641.8 1019.9h0M627.4 1019.9h0M633.9 1018.3h0M637.9 1019.8h0M633.7 1019.4h0M641.4 1018.8h0M634.8 1019.6h0M631.9 1019.1h0M630.9 1019h0M625.8 1019.3h0M641.6 1019.3h0M633.1 1018.7h0M638.5 1018.7h0M630.9 1018.8h0M627.7 1018.9h0M624.5 1019.7h0M627.3 1019.4h0M637.2 1020h0M639.6 1018.5h0M640.9 992h0M635 999h0M640.8 1014.6h0M639.3 1018.6h0M638 1008.4h0M637.9 1018.4h0M625.6 1012.6h0M634.9 1006.7h0M627.3 1011.3h0M641.3 1017.6h0M638.6 991.2h0M636 1014.7h0M631.6 1014.1h0M626.4 1018.6h0M629.1 1018.2h0M640 1016.2h0M639.6 1011.4h0M641.2 936.2h0M624.9 975.5h0M637.6 984.7h0M632 990h0M628 996h0" stroke="#74e470" stroke-width="5.6" stroke-linecap="round" fill="none"/>
<path d="M685.7 1018.5h0M677.3 1019.2h0M656.2 1019h0M659.3 1018.6h0M647.1 1018.9h0M660.5 1019.3h0M669.7 1018.3h0M690 1019.4h0M688.4 1018.4h0M668.9 1019h0M654.1 1018.6h0M667.1 1018.7h0M686.8 1018.9h0M676.6 1019.1h0M651.1 1019.2h0M648 1019.7h0M689.4 1019.3h0M651.3 1019.3h0M647.9 1019h0M655.5 1019.6h0M673.9 1018.4h0M645.8 1018.8h0M671.5 1019.2h0M664.2 1020h0M661.1 1019.1h0M660.3 1018.3h0M660.5 1018.5h0M681.8 1018.6h0M667.4 1019.1h0M683.3 1019.8h0M655.3 1020h0M667.4 1019.2h0M688.3 1018.4h0M663.5 1019.1h0M649.9 1018.7h0M668.6 1019.7h0M684.8 1019.9h0M653.9 1019.2h0M690.2 1019.8h0M657.2 1018.6h0M660.4 1018.4h0M646 1019.6h0M659.2 1018.5h0M649.8 1007.3h0M685.2 990.2h0M681.6 1018.6h0M667 1017.9h0M650.7 1017.7h0M678.4 1011h0M651.1 1017.3h0M648.2 993.6h0M679.2 1014h0M688.6 989.9h0M654.5 1017.6h0M653.8 1009.1h0M672 1012.8h0M680.1 1012.4h0M659.4 1007.5h0M688 1018.6h0M667.1 1018.4h0M678.9 1014.9h0M683 1007.5h0M688.5 1010.9h0M672.1 990.2h0M681.4 1016.6h0M649.9 993.9h0M648.1 993.8h0M687.3 1007.8h0M688 1009.9h0M678.8 1010.3h0M655.2 1018.6h0M678.7 1014.5h0M650.8 1011.5h0M657.1 1017.6h0M684.7 1009.5h0M679 1000.3h0M664.9 1014.5h0M664.7 1016.3h0M680.3 996.3h0M658.6 1005.7h0M654.9 1018.6h0M676.1 1002.5h0M660.1 988.7h0M677.6 1016.9h0M679.5 998.8h0M651.5 994.6h0M643.3 937.7h0M660.6 964.9h0M652.6 975h0M668.9 980.8h0M648.2 987.3h0M690.5 973.2h0M686.1 976.4h0M674 992h0M660 997h0" stroke="#6cbaf6" stroke-width="5.6" stroke-linecap="round" fill="none"/>
<path d="M712 1019.5h0M709.6 1019.1h0M716 1019.5h0M696.2 1018.9h0M724 1018.8h0M710.4 1018.5h0M694.4 1019.8h0M694.5 1019h0M715.8 1019.6h0M715.9 1020h0M695.2 1018.3h0M731.1 1019.9h0M721.4 1019.1h0M716.4 1018.6h0M720.8 1018.4h0M722.5 1018.4h0M698.6 1018.6h0M707.2 1018.4h0M727.1 1018.3h0M725.6 1019.3h0M715.8 1018.7h0M696.1 1019.1h0M717.7 1018.8h0M708.1 1019h0M724.8 1019.3h0M722.5 1018.4h0M709.3 1019.1h0M714.1 1018.6h0M705.1 1019.5h0M710.3 1018.9h0M700.2 1018.3h0M714.9 1018.7h0M711.1 1020h0M710 1019h0M697.5 1018.3h0M718.5 1019.2h0M694.9 1019.6h0M707.9 1018.9h0M701 1019.2h0M705.1 1019h0M722.7 1019.1h0M725.4 1009.3h0M697.2 1008h0M714.1 1003.4h0M733.3 1016.4h0M729.6 1017.9h0M721.1 1018.6h0M728.5 1014.6h0M712.9 1013.3h0M709.4 1017.9h0M722.9 1009.2h0M696 1017.5h0M733 1017.3h0M706.1 1010.9h0M709.4 992.1h0M735.2 1018.4h0M703.2 1018.3h0M712.5 1017.3h0M722.2 996.3h0M696.7 1018.6h0M698.4 1017h0M699.3 1014.9h0M709 1004.9h0M734.5 990h0M711.4 1008.6h0M699.3 1009.8h0M731 996.3h0M699.6 1018.3h0M731.8 1006.3h0M725.9 1018.6h0M719.8 1018.6h0M724.8 1001.6h0M707.3 1018.6h0M724.6 988.4h0M719.9 1016.2h0M707.6 1000.6h0M734.6 1016.2h0M703 988.6h0M711.7 1014.7h0M706.8 1005.1h0M735.2 1014.1h0M729.8 1015.5h0M711.5 1001.1h0M734.7 1003.6h0M723.4 999.8h0M732.5 991.7h0M732.6 952.4h0M721.8 969.3h0M714.4 978h0M706.4 981.2h0M694.6 979.7h0M731 990h0M712 992h0M720 996h0" stroke="#74e470" stroke-width="5.6" stroke-linecap="round" fill="none"/>
<path d="M756.6 1019.3h0M739.5 1019.1h0M750.8 1020h0M771.6 1019.5h0M769.6 1020h0M751 1018.7h0M761.2 1018.8h0M755.2 1019.8h0M766.3 1018.7h0M754.8 1019h0M765.4 1019.1h0M754.8 1019.2h0M763.2 1018.7h0M750.2 1018.7h0M751.5 1018.8h0M751.6 1018.5h0M769.9 1018.7h0M751.7 1019.4h0M753.4 1019h0M740.4 1019.1h0M769.5 1019.9h0M768.3 1019h0M771.7 1018.8h0M762.7 1018.7h0M753 1019.8h0M767.1 1018.5h0M762.8 1019.6h0M755.5 1019.1h0M751.1 1019.2h0M754.2 1018.3h0M759.7 1018.3h0M768.8 1019.7h0M764.4 1015.9h0M758.7 1011.4h0M763.4 1017.1h0M761.3 1016.1h0M764.7 1013.4h0M760.2 988.6h0M748.4 1018.6h0M768.4 1012.6h0M760.3 999.6h0M768.3 1015.8h0M771.4 1015.7h0M762.9 999.5h0M751.1 1015.2h0M751.2 1016.5h0M752.7 998.6h0M741.3 989.1h0M765 1011.5h0M760.2 1017.1h0M764.2 997h0M751.7 1013.3h0M746.4 1017.7h0M767 1008.6h0M753.8 1008.7h0M745.3 1018.6h0M750.9 1011h0M745.3 1012.1h0M749.9 1017.6h0M763.4 1016.3h0M763.4 1003.9h0M751.5 1018.6h0M766.7 1011.8h0M758.2 1006.8h0M747.9 927.3h0M753.5 958.2h0M755 955.5h0M743.5 969.3h0M744.4 976.4h0M751.4 982.6h0M739.1 987.9h0M768.2 993.5h0M762 991h0" stroke="#6cbaf6" stroke-width="5.6" stroke-linecap="round" fill="none"/>
<path d="M797.8 1018.4h0M775.5 1018.3h0M800.5 1019.3h0M812.5 1018.5h0M799.7 1020h0M800.8 1019.3h0M798.8 1018.6h0M780.6 1018.5h0M788 1019.6h0M776.7 1019.8h0M786.2 1019.1h0M813.8 1019.7h0M787.1 1019.4h0M801.5 1019.4h0M802.7 1019.7h0M777 1019h0M805 1019.8h0M777.2 1018.8h0M777.9 1018.4h0M803.6 1019.7h0M792 1019.9h0M778.8 1019.4h0M811.3 1018.4h0M806.2 1018.9h0M799.2 1019.1h0M802.2 1019.1h0M791.5 1018.6h0M787.6 1019.3h0M803.1 1018.3h0M789.4 1019.3h0M791.7 1019.6h0M789.8 1018.6h0M782.9 1019.2h0M786.9 1019h0M807 1019.8h0M795.2 1019.7h0M801.8 1018.8h0M784.3 1019.6h0M787.6 1019.4h0M811.9 1018.5h0M807.7 1015.7h0M794 1018.1h0M794.1 991.9h0M778.9 1015.7h0M783.2 998.7h0M787.6 1013.6h0M777.3 1006.6h0M796.3 1001.2h0M804.9 1004.1h0M786 1017.7h0M799.8 1018.6h0M813.7 1005.3h0M795.5 1016.2h0M778.4 1011.7h0M807 1018.5h0M779.3 1006.8h0M794.5 1001.7h0M792.1 989.6h0M811.1 1016.8h0M797.3 1010.6h0M793.7 1000.3h0M804.2 1000.2h0M785.6 1013.1h0M797.5 1010.7h0M775.8 1000.6h0M793.6 1018.3h0M810.4 1011.6h0M805.6 1004.3h0M800.8 994.4h0M777.5 1016.7h0M781.9 1008.8h0M784.2 1018.6h0M780.8 1018.2h0M797.4 1014.4h0M794.3 1018.6h0M796.9 1017.6h0M778.9 1018.6h0M781.4 1015.5h0M782 1014.2h0M781.9 1004.6h0M811.2 1016.8h0M778.1 990.9h0M778.6 1008.3h0M806.3 1013.7h0M805.7 938.8h0M780.5 934.7h0M777.5 957h0M808.5 959.9h0M778.4 978.5h0M790.2 978.9h0M799 975.9h0M805 986h0M782 990h0M792 994h0" stroke="#74e470" stroke-width="5.6" stroke-linecap="round" fill="none"/>
<path d="M855.9 1019.7h0M849 1018.4h0M856.1 1018.5h0M837.4 1019.1h0M854.2 1019.3h0M830.1 1019.9h0M828 1019.8h0M857.4 1019.5h0M834 1018.3h0M847.8 1019.3h0M824 1019.4h0M831.5 1018.4h0M836.8 1018.3h0M830.7 1019.9h0M856.2 1019.9h0M851.7 1019h0M831.2 1018.6h0M837.1 1018.3h0M842.4 1018.4h0M857.5 1019.4h0M847.8 1018.7h0M846.3 1020h0M847.6 1018.7h0M827.6 1019.8h0M822.4 1019.1h0M824 1018.5h0M836.6 1018.3h0M849.5 1019.3h0M827.1 1019.3h0M844.4 1018.5h0M855.9 1019.4h0M820.6 1018.9h0M847.6 1018.9h0M852.3 1018.6h0M845.1 1018.6h0M824.8 1018.4h0M846.8 1019.8h0M826.5 1018.9h0M832.1 1018.4h0M831 1013.6h0M840.1 992.6h0M832 995.8h0M849.1 1011.2h0M858.1 996.4h0M850.1 1012h0M821.5 1017.9h0M846.1 1018.5h0M845.8 1016.5h0M835.4 1000h0M853.8 1004h0M837.8 1012.2h0M859.7 993.6h0M844.4 1018.6h0M856.3 1018.6h0M824.4 1007.9h0M827.7 1003.7h0M847.6 1018.3h0M856.6 988.4h0M846.4 989.6h0M852.2 1014h0M853.2 992.8h0M848 1018.6h0M834.8 1006h0M834.5 1018.3h0M838.2 1018.4h0M839 1018.5h0M849.2 1018h0M857.7 1018.5h0M845.3 1008.6h0M827.8 1009.2h0M842 1009.6h0M827.2 1013.9h0M853.7 1009.5h0M829.6 1016.7h0M855.4 1018.6h0M839.1 1012.9h0M837.2 1018.6h0M824 998.9h0M838.2 1017.2h0M838 1018.6h0M823 999.7h0M850.6 1018.1h0M832.6 1018.6h0M832.6 1012.7h0M850.3 1013.1h0M854.1 988.4h0M829.6 959h0M824.8 978.9h0M847.2 967.3h0M856.2 971h0M854.7 985.1h0M835.9 993.3h0M840 998h0" stroke="#6cbaf6" stroke-width="5.6" stroke-linecap="round" fill="none"/>
<path d="M912.8 1019.9h0M875.3 1018.8h0M875 1018.5h0M868.4 1019.9h0M950 1019.3h0M911.8 1019h0M873.9 1019.4h0M895.6 1018.7h0M931.5 1018.8h0M879.3 1019.2h0M943 1019.7h0M893.9 1018.9h0M949.9 1020h0M923.6 1019.2h0M909.5 1018.6h0M872 1019h0M891.1 1018.7h0M925.6 1019.3h0M876.9 1018.7h0M924.4 1019h0M928.3 1018.4h0M884.9 1018.8h0M933.6 1019.5h0M941.9 1019.5h0M946.5 1019h0M948 1018.5h0M931.4 1019.4h0M903.4 1019h0M933.4 1019.3h0M941.6 1019.6h0M908.8 1019.8h0M878.5 1019.5h0M867.8 1019h0M917.4 1019.3h0M932.8 1019.1h0M922.9 1019.9h0M892.2 1020h0M877.5 1018.5h0M875.4 1019h0M896.4 1018.8h0M939.2 1018.6h0M947.3 1018.3h0M898.2 1018.3h0M929.8 1019.5h0M892.1 1019.1h0M936.9 1019.8h0M940.9 1018.8h0M915.1 1019.3h0M896.7 1019.3h0M925.7 1019.2h0M925.5 1018.5h0M871.2 1020h0M945.2 1019.7h0M934.2 1019.3h0M883.2 1020h0M900.8 1019h0M868.4 1020h0M888.6 1018.5h0M928.7 1019.6h0M898.6 1019.3h0M925.1 1019.5h0M894.4 1019.1h0M884.2 1019.3h0M928.5 1019.1h0M868.5 1019.4h0M913.1 1019.6h0M897.3 1019h0M895.3 1019.7h0M939.5 1019.9h0M942.2 1019.8h0M911.7 1019.1h0M899.2 1018.9h0M940.2 1019.5h0M868.9 1019.7h0M939.8 1019h0M929 1019.3h0M891.7 1018.8h0M912.9 1018.4h0M877.6 1019.4h0M923.6 1018.4h0M904.1 1018.6h0M873.2 1008.7h0M892.2 1006.5h0M889.4 1018.2h0M887 1005.1h0M925.4 994.5h0M899.5 1018.6h0M933.7 1017.6h0M925.9 1013.6h0M902.2 1018.6h0M883.3 1003.9h0M903.5 996.5h0M933.6 1012.3h0M948.8 1018.6h0M898.4 1012.3h0M868.3 997.2h0M876.7 1010.8h0M887.2 1015.9h0M904 1017.3h0M878.5 1007.6h0M917.9 1018.6h0M948 1018.5h0M883 1017.3h0M895.3 1013.5h0M941.9 1018.5h0M913.4 1009.3h0M886 1016.3h0M902.2 996.2h0M931 1013.8h0M869.7 1016.3h0M934.4 1014.9h0M897.5 1008.7h0M867.2 1008.4h0M923.1 1018.5h0M899.8 998.1h0M886.4 1012.4h0M893.6 1011.7h0M897.5 1016.5h0M943.8 1006.5h0M950.2 1016.7h0M904.1 1016.2h0M938.8 1016.1h0M922.6 1018.2h0M910.7 1017.5h0M942.8 1016.2h0M946.2 1011.3h0M893.2 1011.8h0M944.3 1006.5h0M935.1 1011.3h0M917.3 1018.4h0M935.7 1008.7h0M919.9 1017.1h0M929.8 1012.5h0M891.4 988.9h0M930.6 1007.1h0M936.4 1006.4h0M897 991.6h0M942.2 1007.4h0M901.4 1013.2h0M867.6 996h0M935.7 1010.4h0M904.1 1001.1h0M865.5 1015.5h0M885.4 1009.9h0M894.4 1009.9h0M941.4 1015.3h0M873.6 1018.6h0M936.1 1014.1h0M901.9 1018.6h0M872.6 1018.6h0M941.3 1018.6h0M891.6 1014h0M913.4 1017.9h0M919.6 1008.7h0M949 1018.5h0M889.3 1018.5h0M888.8 1018h0M866.3 1000.9h0M887.5 1004.1h0M934.2 1001.5h0M865.8 1010.6h0M937.4 1009h0M916 1015h0M935 1012.3h0M894.2 1013.4h0M904.5 1018.2h0M922 999.3h0M920.3 1018.6h0M898.8 1003h0M875 1013.1h0M922.9 1012.3h0M892.3 1018.6h0M924.7 1018.3h0M915.8 1012.6h0M926.3 1018.5h0M948 1004h0M939.3 1018.2h0M926.1 1016h0M924.3 1006.3h0M899.1 992.1h0M901.6 1014.1h0M925.6 1018.4h0M941.3 1016.7h0M940.6 1018.4h0M874.4 1010.5h0M884.5 1014.7h0M900.6 937.4h0M880.6 959.9h0M906.3 960.8h0M923.9 964h0M864.8 977h0M886.4 976.6h0M901 977.3h0M863.5 988h0M939.3 930.5h0M945.8 937.4h0M941.8 989.8h0M875 995h0M893 992h0M912 990h0M925 994h0M905 1000h0" stroke="#74e470" stroke-width="5.6" stroke-linecap="round" fill="none"/>
<path d="M959 1018.8h0M973.3 1018.8h0M957.3 1019.9h0M969.2 1019.9h0M972.8 1019.1h0M978.5 1018.6h0M971.1 1018.6h0M967.2 1019.5h0M955.3 1018.8h0M971.4 1018.9h0M967.3 1019.2h0M978.2 1019.4h0M957.4 1018.4h0M974 1018.5h0M979.9 1019.2h0M957.8 1019.2h0M966.7 1019.3h0M974.6 1019.6h0M979.5 1019.6h0M961.2 1018.6h0M959.9 1018.8h0M961 1019.3h0M966.2 1019.6h0M975.6 1018.4h0M978.3 1019.7h0M954.4 1019.2h0M973.4 1019.1h0M979.3 989.2h0M971.9 1017.6h0M964.4 1018.6h0M964.2 1003.8h0M962.1 1018.2h0M968 995.6h0M970.9 1018.5h0M965.2 1017.9h0M975.3 1015.2h0M965.5 996.7h0M961.6 1014.5h0M979.8 1017h0M968.1 1008.4h0M962.6 1009.1h0M964.9 999.5h0M968.5 1005h0M968.9 1006.3h0M964.1 1018.4h0M963.4 1016.8h0M954.1 1002.9h0M967.7 1013.8h0M972.4 1018.6h0M957 1005.4h0M954.8 997.3h0M967.2 990.7h0M976.6 1015.4h0M962.8 1014.9h0M974.2 1014.2h0M972.9 989h0M966.1 964h0M960.3 967.5h0M962.9 977h0M953.5 993.9h0M962.9 991.6h0M977 993.3h0M970 998h0" stroke="#6cbaf6" stroke-width="5.6" stroke-linecap="round" fill="none"/>
</g>
<path d="M747.9 915.5h0" stroke="#0585e0" stroke-width="6.0" stroke-linecap="round" fill="none"/>
<path d="M167.8 903.3h0" stroke="#ff00ff" stroke-width="6.0" stroke-linecap="round" fill="none"/>
<path d="M805.7 912.1h0" stroke="#ff00ff" stroke-width="6.0" stroke-linecap="round" fill="none"/>
<path d="M939.3 896.1h0" stroke="#ff00ff" stroke-width="6.0" stroke-linecap="round" fill="none"/>
<path d="M945.8 865.5h0" stroke="#ff00ff" stroke-width="6.0" stroke-linecap="round" fill="none"/>
<line x1="1123" y1="0" x2="1123" y2="279" stroke="#444" stroke-width="1.2"/>
<line x1="1123" y1="279" x2="1400.7" y2="279" stroke="#444" stroke-width="1.2"/>
<line x1="1118" y1="268.7" x2="1123" y2="268.7" stroke="#444" stroke-width="1"/>
<text transform="translate(1112.7,268.7) rotate(-90)" x="0" y="0" font-size="10.8" text-anchor="middle" fill="#222" font-weight="normal" stroke="#222" stroke-width="0.3">0</text>
<line x1="1118" y1="238.9" x2="1123" y2="238.9" stroke="#444" stroke-width="1"/>
<text transform="translate(1112.7,238.9) rotate(-90)" x="0" y="0" font-size="10.8" text-anchor="middle" fill="#222" font-weight="normal" stroke="#222" stroke-width="0.3">1</text>
<line x1="1118" y1="209.1" x2="1123" y2="209.1" stroke="#444" stroke-width="1"/>
<text transform="translate(1112.7,209.1) rotate(-90)" x="0" y="0" font-size="10.8" text-anchor="middle" fill="#222" font-weight="normal" stroke="#222" stroke-width="0.3">2</text>
<line x1="1118" y1="179.3" x2="1123" y2="179.3" stroke="#444" stroke-width="1"/>
<text transform="translate(1112.7,179.3) rotate(-90)" x="0" y="0" font-size="10.8" text-anchor="middle" fill="#222" font-weight="normal" stroke="#222" stroke-width="0.3">3</text>
<line x1="1118" y1="149.5" x2="1123" y2="149.5" stroke="#444" stroke-width="1"/>
<text transform="translate(1112.7,149.5) rotate(-90)" x="0" y="0" font-size="10.8" text-anchor="middle" fill="#222" font-weight="normal" stroke="#222" stroke-width="0.3">4</text>
<line x1="1118" y1="119.7" x2="1123" y2="119.7" stroke="#444" stroke-width="1"/>
<text transform="translate(1112.7,119.7) rotate(-90)" x="0" y="0" font-size="10.8" text-anchor="middle" fill="#222" font-weight="normal" stroke="#222" stroke-width="0.3">5</text>
<line x1="1118" y1="89.9" x2="1123" y2="89.9" stroke="#444" stroke-width="1"/>
<text transform="translate(1112.7,89.9) rotate(-90)" x="0" y="0" font-size="10.8" text-anchor="middle" fill="#222" font-weight="normal" stroke="#222" stroke-width="0.3">6</text>
<line x1="1118" y1="60.1" x2="1123" y2="60.1" stroke="#444" stroke-width="1"/>
<text transform="translate(1112.7,60.1) rotate(-90)" x="0" y="0" font-size="10.8" text-anchor="middle" fill="#222" font-weight="normal" stroke="#222" stroke-width="0.3">7</text>
<line x1="1118" y1="30.3" x2="1123" y2="30.3" stroke="#444" stroke-width="1"/>
<text transform="translate(1112.7,30.3) rotate(-90)" x="0" y="0" font-size="10.8" text-anchor="middle" fill="#222" font-weight="normal" stroke="#222" stroke-width="0.3">8</text>
<line x1="1133.5" y1="279" x2="1133.5" y2="284" stroke="#444" stroke-width="1"/>
<text x="1133.5" y="297" font-size="10.8" text-anchor="middle" fill="#222" font-weight="normal" stroke="#222" stroke-width="0.3">0</text>
<line x1="1203.7" y1="279" x2="1203.7" y2="284" stroke="#444" stroke-width="1"/>
<text x="1203.7" y="297" font-size="10.8" text-anchor="middle" fill="#222" font-weight="normal" stroke="#222" stroke-width="0.3">1</text>
<line x1="1274.2" y1="279" x2="1274.2" y2="284" stroke="#444" stroke-width="1"/>
<text x="1274.2" y="297" font-size="10.8" text-anchor="middle" fill="#222" font-weight="normal" stroke="#222" stroke-width="0.3">2</text>
<line x1="1344.7" y1="279" x2="1344.7" y2="284" stroke="#444" stroke-width="1"/>
<text x="1344.7" y="297" font-size="10.8" text-anchor="middle" fill="#222" font-weight="normal" stroke="#222" stroke-width="0.3">3</text>
<text x="1262" y="314.9" font-size="11" text-anchor="middle" fill="#222" textLength="134" lengthAdjust="spacingAndGlyphs">Expected -log<tspan font-size="7.5" dy="2.5">10</tspan><tspan dy="-2.5">(P-value)</tspan></text>
<text transform="translate(1092.3,139.6) rotate(-90)" font-size="11" text-anchor="middle" fill="#222" textLength="137" lengthAdjust="spacingAndGlyphs">Observed -log<tspan font-size="7.5" dy="2.5">10</tspan><tspan dy="-2.5">(P-value)</tspan></text>
<line x1="1123.5" y1="273.2" x2="1400.3" y2="156.1" stroke="#f9bcbc" stroke-width="1"/>
<path d="M1194.2 254.8h0M1194.7 254.5h0M1195.6 253.7h0M1196 253.5h0M1196.8 252.9h0M1197.3 252.6h0M1198.4 251.5h0M1199.2 251h0M1199.4 250.9h0M1200.1 250.4h0M1200.3 250.3h0M1201.4 249.4h0M1202.5 248.5h0M1202.4 248.7h0M1203.6 247.7h0M1203.8 247.7h0M1204.9 246.7h0M1205.1 246.6h0M1206.1 245.8h0M1207 245.1h0M1206.9 245.5h0M1208.5 244.3h0M1208.9 244.2h0M1209.3 244h0M1210.1 243.6h0M1211 242.9h0M1211.9 242.3h0M1212.1 242.5h0M1212.7 242.2h0M1213.6 241.6h0M1214.7 240.8h0M1215.1 240.6h0M1216.2 239.9h0M1216.9 239.5h0M1217.2 239.5h0M1218.2 238.8h0M1218.4 238.9h0M1219.6 238h0M1220.4 237.6h0M1220.7 237.6h0M1221.8 236.7h0M1222 236.9h0M1223.5 235.6h0M1223.8 235.7h0M1224.9 234.9h0M1225.4 234.7h0M1225.6 234.8h0M1226.8 233.9h0M1227.4 233.6h0M1227.9 233.4h0M1228.9 232.7h0M1229.7 232.2h0M1230.3 231.9h0M1230.6 232h0M1232 230.8h0M1232.7 230.5h0M1232.9 230.6h0M1234.1 229.7h0M1234.8 229.2h0M1234.9 229.5h0M1235.5 229.2h0M1236.2 228.8h0M1237.2 228.1h0M1237.5 228.1h0M1238.3 227.6h0M1239.5 226.7h0M1239.5 227h0M1240.8 226h0M1241.3 225.8h0M1242.3 225.1h0M1242.6 225.1h0M1243.5 224.5h0M1243.9 224.4h0M1244.5 224.3h0M1246 223.1h0M1246.3 223.3h0M1246.9 223h0M1248.3 222h0M1248.4 222.3h0M1249.3 221.7h0M1249.7 221.8h0M1250.7 221.2h0M1251.9 220.4h0M1252.5 220.1h0M1253.2 219.8h0M1254.1 219.3h0M1254.1 219.7h0M1254.7 219.5h0M1255.5 219.1h0M1256.7 218.2h0M1257.3 218h0M1257.9 217.8h0M1258.9 217.2h0M1259.2 217.3h0M1260.3 216.6h0M1260.8 216.4h0M1261.3 216.4h0M1262.6 215.4h0M1262.8 215.7h0M1264.1 214.7h0M1264.7 214.2h0M1265 214h0M1265.7 213.5h0M1266.1 213.2h0M1266.6 212.8h0M1267.8 211.7h0M1268.1 211.5h0M1269 210.8h0M1269.4 210.5h0M1269.9 210h0M1270.5 209.6h0M1271.7 208.5h0M1272 208.3h0M1272.4 208.1h0M1273.7 206.8h0M1273.7 207h0M1274.6 206.9h0M1275.4 206.8h0M1276.6 206.3h0M1277.7 206h0M1277.8 206.7h0M1279.5 205.7h0M1279.7 205.2h0M1280.1 204.3h0M1280.1 204h0M1280.5 203.2h0M1280.5 202.9h0M1281 202h0M1282 200.6h0M1282.1 200.7h0M1283.4 199.6h0M1284 199.2h0M1284.8 198.6h0M1284.7 198.9h0M1285.6 198.1h0M1286.7 197.2h0M1286.9 197.3h0M1287.5 196.8h0M1288 196.6h0M1289.2 195.6h0M1289.9 195h0M1290.2 194.9h0M1290.8 194.2h0M1291.7 193.2h0M1291.7 193h0M1292.8 191.8h0M1293.4 191.1h0M1293.5 190.9h0M1293.7 190.6h0M1294.7 189.5h0M1294.9 189.1h0M1295.2 188.7h0M1296.6 187.9h0M1297.2 187.8h0M1297.7 187.9h0M1298.5 187.8h0M1299.7 187.1h0M1300.7 186.7h0M1300.9 187h0M1302 186.6h0M1302.4 186.8h0M1303.4 186.3h0M1304.3 186h0M1304.8 186.1h0M1305.9 185.6h0M1306.3 185h0M1306.2 184.8h0M1306.7 184h0M1307.4 183h0M1307.6 182.6h0M1308.4 181.5h0M1308.8 180.7h0M1309.3 180h0M1310 179h0M1310.3 178.7h0M1311.1 178h0M1311.1 178.1h0M1312.5 176.8h0M1313.2 176.2h0M1313.5 175.9h0M1314.4 175.1h0M1314.8 174.8h0M1315.3 174.6h0M1315.8 174.5h0M1316.8 173.7h0M1317.8 173.1h0M1318.6 172.6h0M1319.4 172.1h0M1319.7 172.1h0M1320.8 171.3h0M1321 171.5h0M1321.3 171.4h0M1322.5 170.6h0M1323.3 170.1h0M1324.2 169.5h0M1324.4 169.7h0M1324.9 169.5h0M1326.3 168.4h0M1326.5 168.5h0M1327.9 167.5h0M1328.4 167.4h0M1328.7 167.5h0M1329.8 166.8h0M1330.7 166.1h0M1330.9 166.3h0M1332.4 165.2h0M1332.2 165.8h0M1333 165.3h0M1334.2 164.5h0M1335 164.1h0M1335.7 163.8h0M1336.3 163.5h0M1342 157.8h0M1348.5 79.1h0M1357.4 79.1h0M1369.8 11.7h0M1391.1 10.7h0" stroke="#0000ff" stroke-width="6.7" stroke-linecap="round" fill="none"/>
<line x1="1126.5" y1="375.5" x2="1126.5" y2="648.6" stroke="#444" stroke-width="1.2"/>
<line x1="1126.5" y1="648.6" x2="1399.3" y2="648.6" stroke="#444" stroke-width="1.2"/>
<line x1="1121.5" y1="638.8" x2="1126.5" y2="638.8" stroke="#444" stroke-width="1"/>
<text transform="translate(1114.9,638.8) rotate(-90)" x="0" y="0" font-size="10.8" text-anchor="middle" fill="#222" font-weight="normal" stroke="#222" stroke-width="0.3">0</text>
<line x1="1121.5" y1="557.9" x2="1126.5" y2="557.9" stroke="#444" stroke-width="1"/>
<text transform="translate(1114.9,557.9) rotate(-90)" x="0" y="0" font-size="10.8" text-anchor="middle" fill="#222" font-weight="normal" stroke="#222" stroke-width="0.3">1</text>
<line x1="1121.5" y1="477" x2="1126.5" y2="477" stroke="#444" stroke-width="1"/>
<text transform="translate(1114.9,477) rotate(-90)" x="0" y="0" font-size="10.8" text-anchor="middle" fill="#222" font-weight="normal" stroke="#222" stroke-width="0.3">2</text>
<line x1="1121.5" y1="396.1" x2="1126.5" y2="396.1" stroke="#444" stroke-width="1"/>
<text transform="translate(1114.9,396.1) rotate(-90)" x="0" y="0" font-size="10.8" text-anchor="middle" fill="#222" font-weight="normal" stroke="#222" stroke-width="0.3">3</text>
<line x1="1135.7" y1="648.6" x2="1135.7" y2="653.6" stroke="#444" stroke-width="1"/>
<text x="1135.7" y="667.3" font-size="10.8" text-anchor="middle" fill="#222" font-weight="normal" stroke="#222" stroke-width="0.3">0</text>
<line x1="1205.3" y1="648.6" x2="1205.3" y2="653.6" stroke="#444" stroke-width="1"/>
<text x="1205.3" y="667.3" font-size="10.8" text-anchor="middle" fill="#222" font-weight="normal" stroke="#222" stroke-width="0.3">1</text>
<line x1="1274.6" y1="648.6" x2="1274.6" y2="653.6" stroke="#444" stroke-width="1"/>
<text x="1274.6" y="667.3" font-size="10.8" text-anchor="middle" fill="#222" font-weight="normal" stroke="#222" stroke-width="0.3">2</text>
<line x1="1344" y1="648.6" x2="1344" y2="653.6" stroke="#444" stroke-width="1"/>
<text x="1344" y="667.3" font-size="10.8" text-anchor="middle" fill="#222" font-weight="normal" stroke="#222" stroke-width="0.3">3</text>
<text x="1263.2" y="684.8" font-size="11" text-anchor="middle" fill="#222" textLength="134" lengthAdjust="spacingAndGlyphs">Expected -log<tspan font-size="7.5" dy="2.5">10</tspan><tspan dy="-2.5">(P-value)</tspan></text>
<text transform="translate(1096.5,512) rotate(-90)" font-size="11" text-anchor="middle" fill="#222" textLength="137" lengthAdjust="spacingAndGlyphs">Observed -log<tspan font-size="7.5" dy="2.5">10</tspan><tspan dy="-2.5">(P-value)</tspan></text>
<line x1="1128" y1="646.4" x2="1361.7" y2="375.5" stroke="#f9bcbc" stroke-width="1"/>
<path d="M1192 601.7h0M1191.7 601.7h0M1192 601.2h0M1192.9 600h0M1193.1 599.5h0M1193.6 598.8h0M1194 598.1h0M1194.9 596.9h0M1194.7 596.8h0M1195.5 595.7h0M1195.8 595.2h0M1195.9 594.8h0M1197 593.4h0M1196.7 593.4h0M1197.2 592.7h0M1197.5 592.1h0M1198.4 590.9h0M1198.8 590.2h0M1198.9 589.9h0M1199.1 589.4h0M1200 588.3h0M1200.1 587.8h0M1200.7 586.9h0M1201.3 586.1h0M1201 586.1h0M1201.5 585.4h0M1202.7 583.9h0M1203.1 583.2h0M1202.7 583.3h0M1203.3 582.5h0M1203.9 581.6h0M1204.7 580.5h0M1204.7 580.4h0M1205.9 579.1h0M1205.5 579.3h0M1206.8 577.8h0M1206.5 578.1h0M1207.6 576.9h0M1208.4 575.9h0M1208.7 575.5h0M1209.4 574.6h0M1209.3 574.6h0M1210.4 573.3h0M1210.9 572.7h0M1210.8 572.7h0M1211.8 571.6h0M1212.4 570.8h0M1212.2 570.9h0M1212.9 570.1h0M1213.8 569.1h0M1214.1 568.6h0M1215 567.6h0M1215 567.5h0M1215.5 566.8h0M1215.8 566.5h0M1216.4 565.7h0M1217.5 564.5h0M1217.4 564.5h0M1218.6 563.2h0M1219 562.7h0M1219.3 562.3h0M1219.6 561.9h0M1219.8 561.6h0M1220.4 560.8h0M1221.7 559.5h0M1222.3 558.7h0M1222.9 558.1h0M1222.7 558.1h0M1223.9 556.9h0M1223.9 556.7h0M1224.4 556.2h0M1225.5 555h0M1225.9 554.5h0M1226.3 554h0M1226.4 553.7h0M1226.8 553.3h0M1227.4 552.6h0M1228 551.9h0M1228.4 551.3h0M1229.3 550.3h0M1229.6 549.9h0M1230 549.4h0M1231.2 548.1h0M1231.2 548h0M1231.4 547.7h0M1232 547.1h0M1233.1 546h0M1233.1 545.9h0M1234.2 544.8h0M1234.3 544.8h0M1235.3 543.8h0M1236 543.1h0M1236.5 542.6h0M1236.7 542.3h0M1237.9 541.1h0M1238.6 540.4h0M1239 540h0M1239.7 539.3h0M1240.3 538.7h0M1240.3 538.7h0M1241 538h0M1241.4 537.4h0M1242.3 536.4h0M1242.1 536.4h0M1242.7 535.7h0M1243.4 534.8h0M1243.9 534.1h0M1244.9 533h0M1244.7 533h0M1244.9 532.7h0M1245.7 531.7h0M1246.7 530.6h0M1246.4 530.7h0M1247.3 529.6h0M1247.9 528.9h0M1248.6 528h0M1248.6 527.9h0M1249.3 527h0M1250.2 526h0M1250.7 525.3h0M1250.6 525h0M1250.8 524.5h0M1251.4 523.5h0M1251.9 522.7h0M1252.2 522h0M1252.5 521.3h0M1252.6 520.9h0M1253.3 519.8h0M1253.3 519.5h0M1253.5 518.9h0M1253.7 518.3h0M1254.6 517.1h0M1254.5 516.8h0M1255 516h0M1255.4 515.2h0M1255.8 514.4h0M1256.2 513.7h0M1257.4 512.6h0M1257.5 512.5h0M1258.2 512h0M1258.6 511.6h0M1259.4 510.9h0M1260.3 510.1h0M1260.6 509.9h0M1261.2 509.3h0M1261.6 509h0M1262.1 508.6h0M1262.7 508h0M1263.2 507.6h0M1264 506.9h0M1264.3 506.5h0M1265.1 505.5h0M1265.8 504.8h0M1265.9 504.6h0M1267 503.3h0M1267.2 503h0M1267.9 502.2h0M1268.2 501.8h0M1269.1 500.8h0M1269.6 500.3h0M1269.5 500.3h0M1270.5 499.2h0M1270.7 498.9h0M1271.8 497.8h0M1271.9 497.6h0M1272.3 497.1h0M1272.7 496.7h0M1274.1 495.1h0M1273.8 495.4h0M1274.6 494.7h0M1276 493.6h0M1275.7 493.9h0M1276.8 493.1h0M1277.4 492.6h0M1278 491.6h0M1278.5 490.7h0M1279.1 489.8h0M1278.8 489.7h0M1278.9 489.2h0M1279.4 488.3h0M1279.6 487.8h0M1280.2 486.8h0M1280.9 485.7h0M1281.8 484.8h0M1281.5 485h0M1282.3 484.2h0M1283.4 483h0M1283.7 482.7h0M1284.1 482.3h0M1284.3 482h0M1285.3 481h0M1287.1 473.9h0M1287.6 473.1h0M1288.4 472h0M1288.3 471.8h0M1289.2 470.6h0M1289.9 469.6h0M1289.5 469.7h0M1290 468.6h0M1290.4 467.6h0M1290.8 466.6h0M1291.2 465.6h0M1291.4 464.8h0M1291.4 464.2h0M1291.5 463.5h0M1292.6 462.8h0M1293.1 462.5h0M1294.3 461.6h0M1294.6 461.6h0M1295.4 461.2h0M1296.2 460.7h0M1296.8 460.4h0M1297.5 460h0M1298.3 459.3h0M1298.9 458.8h0M1299.9 457.8h0M1299.9 458h0M1300.7 457.2h0M1301.8 456.2h0M1302.3 455.8h0M1302.7 455.5h0M1303.1 455.2h0M1303.4 454.6h0M1304.1 453.6h0M1304.5 452.9h0M1304.9 452.2h0M1305.2 451.6h0M1305.8 450.7h0M1306.3 449.9h0M1306.3 449.6h0M1307.3 448.4h0M1307.8 447.6h0M1307.8 447.5h0M1308.3 446.7h0M1308.5 446.3h0M1309.4 445.1h0M1310.1 444.3h0M1310.2 443.8h0M1310.9 443h0M1311.4 442.3h0M1311.2 442.2h0M1311.9 441.5h0M1313 440.4h0M1314 439.4h0M1314.4 439h0M1314.8 438.6h0M1315.2 438.2h0M1315.7 437.7h0M1316.8 436.6h0M1317.8 436.5h0M1318.2 437h0M1318.8 437.5h0M1319.8 437.4h0M1321.1 437.1h0M1321.9 437.1h0M1322.4 437.6h0M1323.7 436.9h0M1324 437.1h0M1324.5 437.2h0M1325.5 436.8h0M1327 435.9h0M1327.7 435.8h0M1327.9 436.2h0M1328.9 435.7h0M1329.9 435.4h0M1330.8 435h0M1331.2 435.2h0M1332.9 434h0M1333.3 434.1h0M1333.9 434.1h0M1334.5 434.1h0M1335.8 433.3h0M1340.9 421h0M1348 419.5h0M1356.2 405.7h0M1368.4 396h0M1389.2 385.3h0" stroke="#0000ff" stroke-width="6.7" stroke-linecap="round" fill="none"/>
<line x1="1125.1" y1="746.9" x2="1125.1" y2="1034.4" stroke="#444" stroke-width="1.2"/>
<line x1="1125.1" y1="1034.4" x2="1411.6" y2="1034.4" stroke="#444" stroke-width="1.2"/>
<line x1="1120.1" y1="1023.4" x2="1125.1" y2="1023.4" stroke="#444" stroke-width="1"/>
<text transform="translate(1114.3,1023.4) rotate(-90)" x="0" y="0" font-size="10.8" text-anchor="middle" fill="#222" font-weight="normal" stroke="#222" stroke-width="0.3">0</text>
<line x1="1120.1" y1="934.9" x2="1125.1" y2="934.9" stroke="#444" stroke-width="1"/>
<text transform="translate(1114.3,934.9) rotate(-90)" x="0" y="0" font-size="10.8" text-anchor="middle" fill="#222" font-weight="normal" stroke="#222" stroke-width="0.3">1</text>
<line x1="1120.1" y1="846.5" x2="1125.1" y2="846.5" stroke="#444" stroke-width="1"/>
<text transform="translate(1114.3,846.5) rotate(-90)" x="0" y="0" font-size="10.8" text-anchor="middle" fill="#222" font-weight="normal" stroke="#222" stroke-width="0.3">2</text>
<line x1="1120.1" y1="758" x2="1125.1" y2="758" stroke="#444" stroke-width="1"/>
<text transform="translate(1114.3,758) rotate(-90)" x="0" y="0" font-size="10.8" text-anchor="middle" fill="#222" font-weight="normal" stroke="#222" stroke-width="0.3">3</text>
<line x1="1135.2" y1="1034.4" x2="1135.2" y2="1039.4" stroke="#444" stroke-width="1"/>
<text x="1135.2" y="1054.2" font-size="10.8" text-anchor="middle" fill="#222" font-weight="normal" stroke="#222" stroke-width="0.3">0</text>
<line x1="1207.9" y1="1034.4" x2="1207.9" y2="1039.4" stroke="#444" stroke-width="1"/>
<text x="1207.9" y="1054.2" font-size="10.8" text-anchor="middle" fill="#222" font-weight="normal" stroke="#222" stroke-width="0.3">1</text>
<line x1="1280.3" y1="1034.4" x2="1280.3" y2="1039.4" stroke="#444" stroke-width="1"/>
<text x="1280.3" y="1054.2" font-size="10.8" text-anchor="middle" fill="#222" font-weight="normal" stroke="#222" stroke-width="0.3">2</text>
<line x1="1353.4" y1="1034.4" x2="1353.4" y2="1039.4" stroke="#444" stroke-width="1"/>
<text x="1353.4" y="1054.2" font-size="10.8" text-anchor="middle" fill="#222" font-weight="normal" stroke="#222" stroke-width="0.3">3</text>
<text x="1269" y="1071.5" font-size="12.2" text-anchor="middle" fill="#222" textLength="140" lengthAdjust="spacingAndGlyphs">Expected -log<tspan font-size="7.5" dy="2.5">10</tspan><tspan dy="-2.5">(P-value)</tspan></text>
<text transform="translate(1093.3,891) rotate(-90)" font-size="12" text-anchor="middle" fill="#222" textLength="142" lengthAdjust="spacingAndGlyphs">Observed -log<tspan font-size="7.5" dy="2.5">10</tspan><tspan dy="-2.5">(P-value)</tspan></text>
<line x1="1128.2" y1="1033.5" x2="1362.8" y2="746.3" stroke="#f9bcbc" stroke-width="1"/>
<path d="M1194 983.2h0M1194.7 982.1h0M1194.9 981.6h0M1195.4 980.7h0M1195.8 980h0M1195.9 979.4h0M1195.7 979.3h0M1196.3 978.3h0M1197 977.3h0M1197.2 976.7h0M1197.3 976.2h0M1197.6 975.6h0M1198.7 974.1h0M1198.9 973.5h0M1198.9 973.2h0M1199.5 972.2h0M1200.2 971.1h0M1199.9 971.1h0M1200.7 969.9h0M1200.8 969.6h0M1202 968.3h0M1202.4 967.7h0M1203.1 966.9h0M1203 966.8h0M1203.7 966h0M1204 965.5h0M1204.6 964.8h0M1205.7 963.5h0M1206.2 962.9h0M1206.7 962.2h0M1207.2 961.6h0M1207.3 961.3h0M1207.9 960.5h0M1208.7 959.6h0M1208.8 959.4h0M1209.8 958.2h0M1210.2 957.7h0M1210.2 957.5h0M1210.8 956.8h0M1211.6 955.8h0M1211.6 955.7h0M1212.2 954.9h0M1212.7 954.3h0M1213.1 953.7h0M1214.4 952.3h0M1215 951.5h0M1215.4 951h0M1215.6 950.7h0M1216.3 949.8h0M1216.7 949.1h0M1216.9 948.7h0M1217.4 947.9h0M1217.5 947.6h0M1218 946.8h0M1218.5 946h0M1219 945.4h0M1219.7 944.4h0M1219.7 944.1h0M1220.1 943.4h0M1221.2 942.1h0M1221.6 941.5h0M1222.1 940.7h0M1222.4 940.2h0M1222.3 940.1h0M1223 939.1h0M1223.8 938.1h0M1224.2 937.4h0M1224.1 937.4h0M1224.8 936.4h0M1225.3 935.7h0M1225.2 935.6h0M1225.8 934.7h0M1227 933.6h0M1227.5 933h0M1227.9 932.7h0M1228.6 931.9h0M1229.2 931.4h0M1229.6 931h0M1229.9 930.6h0M1231.2 929.4h0M1231.9 928.7h0M1232.1 928.5h0M1233.1 927.5h0M1233.6 926.8h0M1233.8 926.2h0M1234.4 925.4h0M1235 924.6h0M1234.5 924.8h0M1235.8 923.3h0M1235.7 923.1h0M1236.5 922h0M1236.8 921.4h0M1236.6 921.4h0M1237.5 920.2h0M1237.5 920h0M1238.5 918.7h0M1238.8 918.5h0M1239.5 917.9h0M1240 917.5h0M1241.2 916.4h0M1241.7 916h0M1242 915.8h0M1243.1 914.8h0M1243.2 914.7h0M1244.5 913.6h0M1244.9 913.2h0M1245.7 912.5h0M1246.2 912.1h0M1247 911h0M1247.2 910.6h0M1247.4 910.2h0M1247.9 909.4h0M1248.3 908.7h0M1248.5 908.3h0M1248.9 907.6h0M1249.8 906.4h0M1250.3 905.7h0M1250.9 904.9h0M1251 904.5h0M1251.3 904h0M1251.6 903.4h0M1252.4 902.4h0M1252.9 901.8h0M1253.7 900.8h0M1254 900.3h0M1254.1 900h0M1254.5 899.4h0M1254.8 899h0M1256 897.5h0M1256.2 897.2h0M1256.7 896.6h0M1256.8 896.2h0M1257.8 895.1h0M1258.7 894h0M1258.6 894h0M1259.7 892.9h0M1260.2 892.2h0M1260.7 891.7h0M1261.2 891.1h0M1261.4 890.8h0M1262.4 889.7h0M1262.9 889.2h0M1263.8 888.2h0M1263.9 888h0M1264.3 887.5h0M1265.4 886.3h0M1265.8 886h0M1266.2 885.7h0M1267.2 884.9h0M1267.5 884.8h0M1268.2 884.2h0M1269.6 882.9h0M1269.9 882.8h0M1270.9 881.9h0M1270.7 881.8h0M1271.3 880.8h0M1271.4 880.3h0M1272.4 879h0M1272.5 878.4h0M1272.7 877.9h0M1273.1 877.2h0M1273.2 876.6h0M1273.6 875.9h0M1274.5 874.6h0M1274.4 874.3h0M1274.6 873.7h0M1275.2 872.7h0M1275.7 871.8h0M1276.5 870.6h0M1276.3 870.4h0M1276.7 869.6h0M1277.6 868.3h0M1277.7 867.8h0M1277.8 867.3h0M1278.1 866.6h0M1278.2 866.1h0M1278.5 865.4h0M1279.2 864.4h0M1279.7 863.5h0M1279.5 863.3h0M1280.2 862.2h0M1280.2 861.7h0M1281 860.6h0M1281.1 860.1h0M1281.7 859h0M1282.2 858.2h0M1282.2 857.8h0M1282.5 857.1h0M1282.7 856.8h0M1283.3 856h0M1284.3 854.9h0M1284.9 854.1h0M1284.8 854.1h0M1286.1 852.6h0M1286.6 852h0M1286.5 851.9h0M1287.2 851h0M1287.9 850.2h0M1287.8 849.8h0M1288 849h0M1288.6 847.8h0M1288.6 847.3h0M1288.7 846.5h0M1289.1 845.6h0M1288.9 845.3h0M1289.4 844.1h0M1289.5 843.5h0M1290 843h0M1290.9 842.1h0M1291.7 841.3h0M1292.2 840.8h0M1292.7 840.3h0M1293.5 839.5h0M1293.9 839.1h0M1295.1 837.9h0M1294.9 838.1h0M1295.3 837.7h0M1296.1 836.4h0M1296.5 835.5h0M1296.5 835h0M1296.7 834.2h0M1296.9 833.5h0M1297.1 832.9h0M1297.9 831.5h0M1298.2 830.7h0M1297.9 830.5h0M1298.4 829.5h0M1298.6 828.8h0M1298.5 828.4h0M1299.8 827.3h0M1300.2 827h0M1301.3 826h0M1301.9 825.6h0M1302.5 825.1h0M1302.5 825.2h0M1303 824.9h0M1304.3 823.7h0M1304.2 823.8h0M1305.3 822.7h0M1305.4 822.6h0M1306.5 821.5h0M1306.4 821.6h0M1307 821h0M1308.3 819.7h0M1308.5 819.5h0M1309.1 818.9h0M1309.9 817.7h0M1310.1 817.2h0M1309.9 817h0M1310.7 815.8h0M1310.8 815.4h0M1311.2 814.6h0M1311.6 813.8h0M1312.9 799.7h0M1313.3 799h0M1313.9 798.2h0M1314.4 797.5h0M1314.9 796.8h0M1316.1 795.4h0M1316.1 795.1h0M1317 794.5h0M1318.1 793.9h0M1318.7 793.6h0M1319 793.7h0M1320.6 792.5h0M1321.4 792.2h0M1322.1 791.9h0M1322.3 792h0M1323.6 791.1h0M1324 790.7h0M1324 790.7h0M1324.9 789.8h0M1325.8 788.9h0M1326.3 788.4h0M1327.3 787.4h0M1327.7 787h0M1328.4 786.6h0M1329.3 786h0M1329.4 786.2h0M1330.6 785.3h0M1330.5 785.7h0M1332 784.5h0M1332 784.8h0M1333.1 784h0M1333.7 783.7h0M1334.1 783.6h0M1335.5 783h0M1336.6 782.8h0M1336.9 783.3h0M1337.8 783.2h0M1339.2 782.6h0M1339.9 782.8h0M1340.2 783.2h0M1341.4 782.9h0M1342.8 782.2h0M1343 782.8h0M1343.8 782.7h0M1344.8 782.5h0M1346 782h0M1346.7 782.1h0M1347.1 782.4h0M1348.2 782.1h0M1348.8 782.2h0M1357.2 781.6h0M1366 776.2h0M1379.2 765.2h0M1400.6 758h0" stroke="#0000ff" stroke-width="6.7" stroke-linecap="round" fill="none"/>
</svg></body></html>
